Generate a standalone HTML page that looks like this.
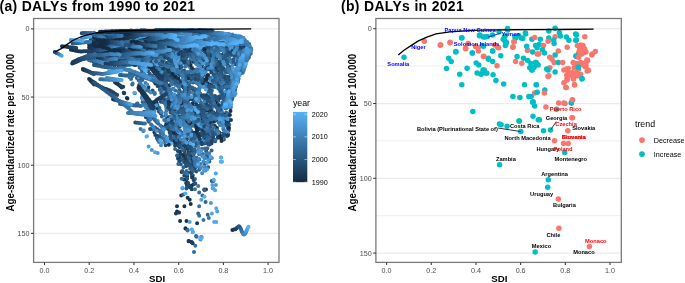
<!DOCTYPE html>
<html><head><meta charset="utf-8"><style>html,body{margin:0;padding:0;background:#fff;width:685px;height:283px;overflow:hidden}svg{display:block;will-change:transform}text{font-family:"Liberation Sans",sans-serif}</style></head>
<body><svg width="685" height="283" viewBox="0 0 685 283">
<rect width="685" height="283" fill="#fff"/>
<g transform="scale(0.93,1)"><text x="-0.54" y="11.0" font-size="15" font-weight="bold" fill="#000" textLength="210.22" lengthAdjust="spacing" font-family="Liberation Sans, sans-serif">(a) DALYs from 1990 to 2021</text>
<text x="366.67" y="11.0" font-size="15" font-weight="bold" fill="#000" textLength="131.94" lengthAdjust="spacing" font-family="Liberation Sans, sans-serif">(b) DALYs in 2021</text></g>
<rect x="33.6" y="18.5" width="245.4" height="243.89999999999998" fill="#fff"/>
<line x1="33.6" x2="279.0" y1="62.98" y2="62.98" stroke="#EDEDED" stroke-width="0.9"/>
<line x1="33.6" x2="279.0" y1="131.12" y2="131.12" stroke="#EDEDED" stroke-width="0.9"/>
<line x1="33.6" x2="279.0" y1="199.28" y2="199.28" stroke="#EDEDED" stroke-width="0.9"/>
<line x1="33.6" x2="279.0" y1="28.90" y2="28.90" stroke="#EBEBEB" stroke-width="1.25"/>
<line x1="33.6" x2="279.0" y1="97.05" y2="97.05" stroke="#EBEBEB" stroke-width="1.25"/>
<line x1="33.6" x2="279.0" y1="165.20" y2="165.20" stroke="#EBEBEB" stroke-width="1.25"/>
<line x1="33.6" x2="279.0" y1="233.35" y2="233.35" stroke="#EBEBEB" stroke-width="1.25"/>
<path d="M152.1 34.0h0M90.2 46.2h0M91.9 47.3h0M94.2 47.2h0M95.8 48.3h0M97.7 48.5h0M98.7 48.7h0M190.8 33.7h0M138.5 38.0h0M90.4 44.5h0M92.1 44.5h0M93.1 44.6h0M134.7 50.3h0M136.5 50.4h0M101.7 58.7h0M103.1 58.4h0M95.2 61.7h0M96.6 61.5h0M98.6 60.7h0M99.9 60.8h0M91.2 58.0h0M93.5 58.4h0M94.7 58.5h0M95.9 58.8h0M98.0 59.0h0M99.4 59.5h0M101.1 59.8h0M102.0 61.2h0M89.9 42.4h0M91.4 41.8h0M93.5 42.2h0M99.5 57.1h0M101.1 57.4h0M102.6 58.5h0M103.9 58.7h0M105.8 58.0h0M108.0 58.7h0M96.9 59.8h0M98.1 60.1h0M104.8 51.0h0M105.9 50.5h0M108.1 51.3h0M109.2 51.9h0M111.7 51.8h0M90.2 49.1h0M91.3 49.4h0M93.3 49.3h0M94.5 50.2h0M96.4 50.3h0M98.0 50.6h0M99.4 50.2h0M100.7 50.3h0" stroke="#132B43" stroke-width="4.0" stroke-linecap="round" fill="none"/>
<path d="M154.4 34.4h0M100.2 48.6h0M192.6 33.5h0M140.8 37.3h0M95.0 44.1h0M138.0 49.9h0M139.2 49.9h0M104.7 58.5h0M107.4 56.7h0M90.9 47.1h0M104.1 61.0h0M94.9 41.6h0M109.2 58.6h0M100.0 59.5h0M113.3 52.2h0M186.5 42.1h0M102.6 50.1h0M103.9 50.5h0" stroke="#152F48" stroke-width="4.0" stroke-linecap="round" fill="none"/>
<path d="M155.9 34.6h0M101.9 48.9h0M103.6 48.5h0M141.5 37.1h0M97.2 43.7h0M141.5 49.4h0M106.7 58.4h0M101.6 60.4h0M105.1 61.5h0M96.4 42.0h0M101.2 59.3h0M196.5 38.6h0M114.1 51.7h0M187.6 43.1h0M105.4 50.3h0" stroke="#17334D" stroke-width="4.0" stroke-linecap="round" fill="none"/>
<path d="M105.5 48.5h0M194.8 32.4h0M143.3 36.8h0M98.1 43.5h0M142.7 48.7h0M108.7 58.3h0M108.9 57.7h0M103.3 60.4h0M92.3 47.8h0M107.6 61.7h0M98.2 42.5h0M111.4 58.8h0M198.8 39.0h0M189.9 50.7h0M116.3 51.7h0M188.9 42.7h0" stroke="#193652" stroke-width="4.0" stroke-linecap="round" fill="none"/>
<path d="M158.0 34.8h0M101.7 40.3h0M106.7 47.7h0M144.8 35.5h0M100.4 43.2h0M144.1 48.7h0M109.4 58.1h0M110.8 57.6h0M109.0 62.8h0M99.4 42.5h0M102.6 58.7h0M199.7 38.7h0M191.4 51.5h0M118.2 51.2h0M191.1 44.0h0" stroke="#1B3A58" stroke-width="4.0" stroke-linecap="round" fill="none"/>
<path d="M159.8 34.9h0M182.9 51.8h0M103.5 40.4h0M108.3 47.3h0M196.3 32.0h0M146.1 35.7h0M146.4 47.6h0M147.9 47.7h0M111.1 58.4h0M105.0 60.5h0M110.4 63.5h0M101.0 41.8h0M113.1 58.3h0M104.2 58.8h0M201.2 39.3h0M203.0 39.0h0M119.2 51.1h0M192.6 43.9h0M193.7 44.0h0M127.1 45.9h0" stroke="#1D3E5D" stroke-width="4.0" stroke-linecap="round" fill="none"/>
<path d="M118.7 65.3h0M184.1 52.0h0M180.1 45.6h0M90.3 57.0h0M105.1 41.1h0M110.0 46.8h0M143.1 61.1h0M197.5 32.3h0M147.9 35.3h0M101.5 43.5h0M149.4 46.7h0M89.2 44.7h0M113.3 58.5h0M112.2 58.8h0M106.5 60.3h0M94.5 48.1h0M165.1 44.7h0M166.6 45.0h0M111.6 63.6h0M106.5 57.8h0M205.0 40.3h0M120.8 51.7h0M195.6 44.8h0M129.0 46.4h0" stroke="#1F4262" stroke-width="4.0" stroke-linecap="round" fill="none"/>
<path d="M119.9 65.4h0M121.7 64.3h0M160.7 35.2h0M185.7 52.2h0M181.0 45.4h0M92.0 57.2h0M106.8 40.5h0M111.0 46.6h0M148.9 34.3h0M120.1 37.2h0M129.4 32.3h0M103.1 43.1h0M151.6 46.0h0M90.4 44.1h0M92.0 45.3h0M114.7 57.7h0M168.9 45.6h0M113.3 64.1h0M103.2 42.1h0M114.7 59.1h0M206.2 40.7h0M172.6 35.7h0M122.8 50.8h0M197.0 44.7h0M130.2 46.4h0" stroke="#214668" stroke-width="4.0" stroke-linecap="round" fill="none"/>
<path d="M122.5 64.0h0M187.6 51.5h0M94.1 57.5h0M187.6 30.4h0M108.2 40.6h0M113.2 46.3h0M144.4 60.2h0M199.3 31.7h0M150.8 34.4h0M121.7 36.8h0M130.7 32.2h0M105.1 42.6h0M152.9 44.9h0M94.3 45.0h0M115.8 57.9h0M114.0 58.8h0M108.3 60.2h0M95.6 47.8h0M170.0 45.1h0M114.8 64.7h0M104.7 43.1h0M107.9 58.6h0M207.8 40.9h0M174.6 36.5h0M124.7 51.6h0M191.1 44.7h0M199.1 44.3h0M131.9 46.7h0" stroke="#234A6D" stroke-width="4.0" stroke-linecap="round" fill="none"/>
<path d="M124.7 63.5h0M163.0 36.1h0M189.0 51.1h0M183.0 44.7h0M189.4 30.4h0M191.4 30.7h0M109.4 40.4h0M113.9 45.2h0M146.2 60.3h0M152.8 34.2h0M122.9 37.1h0M132.5 32.5h0M106.3 42.6h0M154.2 44.6h0M156.0 43.8h0M95.3 44.3h0M117.3 57.2h0M115.1 60.0h0M171.7 44.7h0M106.2 43.0h0M168.5 52.2h0M141.7 49.7h0M109.3 57.6h0M208.8 41.1h0M176.6 36.6h0M126.3 51.7h0M192.6 45.6h0M200.4 44.5h0M133.3 46.6h0" stroke="#254F73" stroke-width="4.0" stroke-linecap="round" fill="none"/>
<path d="M126.5 63.5h0M164.0 36.5h0M190.7 51.6h0M184.5 43.8h0M95.8 57.9h0M192.5 30.7h0M110.9 40.4h0M116.2 44.6h0M200.6 31.7h0M153.7 34.2h0M125.1 36.5h0M133.4 32.3h0M158.3 42.8h0M97.2 44.2h0M119.3 56.7h0M228.5 41.8h0M110.4 59.8h0M195.0 40.2h0M98.2 47.8h0M172.9 45.2h0M108.1 42.8h0M116.3 58.0h0M143.1 49.8h0M144.6 50.1h0M111.3 57.7h0M210.7 42.0h0M177.7 37.4h0M179.4 37.6h0M127.7 52.1h0M193.9 45.5h0M201.6 44.1h0M134.6 46.7h0" stroke="#275378" stroke-width="4.0" stroke-linecap="round" fill="none"/>
<path d="M127.6 63.5h0M192.7 50.9h0M186.0 43.3h0M97.4 58.3h0M194.0 31.4h0M113.2 40.9h0M114.7 40.6h0M117.5 44.3h0M148.2 59.4h0M202.3 31.0h0M155.2 33.4h0M157.4 33.7h0M126.1 36.8h0M135.3 32.4h0M108.0 42.0h0M159.6 42.4h0M98.5 45.2h0M120.2 56.0h0M116.1 59.7h0M111.5 59.0h0M196.0 39.3h0M174.5 45.4h0M119.8 65.9h0M109.2 44.4h0M170.1 51.8h0M146.4 49.6h0M212.7 43.2h0M214.1 43.4h0M180.5 38.3h0M129.1 52.0h0M195.2 45.6h0M203.7 44.3h0M136.3 45.5h0" stroke="#29577E" stroke-width="4.0" stroke-linecap="round" fill="none"/>
<path d="M129.1 62.7h0M166.5 36.4h0M193.9 51.0h0M186.9 42.4h0M98.8 59.4h0M196.2 31.8h0M116.0 40.3h0M118.6 43.9h0M159.4 34.2h0M127.9 35.9h0M129.6 35.8h0M110.1 42.5h0M161.6 41.9h0M100.6 45.1h0M122.4 55.7h0M231.0 43.0h0M99.9 47.7h0M176.8 44.8h0M178.5 44.7h0M121.2 65.9h0M118.6 57.9h0M147.5 50.5h0M113.0 57.4h0M214.9 44.5h0M183.0 38.4h0M130.4 51.7h0M197.4 44.7h0M204.7 44.6h0M138.4 45.5h0" stroke="#2B5B84" stroke-width="4.0" stroke-linecap="round" fill="none"/>
<path d="M130.5 62.3h0M167.8 36.1h0M188.6 41.9h0M197.5 31.5h0M199.4 31.6h0M118.0 40.0h0M120.2 44.3h0M149.8 59.3h0M203.8 30.8h0M160.7 33.6h0M130.8 35.7h0M136.4 31.8h0M111.2 42.5h0M162.7 41.6h0M164.4 40.8h0M102.0 45.4h0M124.1 54.4h0M125.1 54.6h0M118.0 60.2h0M113.1 59.1h0M197.7 39.1h0M179.6 44.8h0M110.9 44.3h0M149.3 50.4h0M114.0 57.3h0M216.9 45.0h0M184.3 38.2h0M131.9 51.9h0M198.6 45.2h0M206.3 44.0h0M207.8 44.8h0M139.9 45.2h0" stroke="#2D5F89" stroke-width="4.0" stroke-linecap="round" fill="none"/>
<path d="M131.8 61.8h0M195.8 50.3h0M190.1 40.1h0M100.0 59.9h0M200.1 32.1h0M119.7 39.9h0M122.4 43.2h0M123.5 43.0h0M162.6 34.3h0M133.0 35.9h0M138.7 31.5h0M113.1 42.5h0M91.2 37.7h0M166.8 39.6h0M192.3 40.4h0M126.8 53.4h0M232.1 43.5h0M119.3 61.7h0M100.9 48.1h0M180.8 44.9h0M112.3 45.4h0M120.3 58.1h0M172.0 51.5h0M150.5 50.0h0M218.9 45.8h0M186.0 38.4h0M134.0 50.9h0M200.4 45.2h0M209.6 45.2h0M141.1 45.1h0" stroke="#30648F" stroke-width="4.0" stroke-linecap="round" fill="none"/>
<path d="M134.1 61.3h0M135.0 60.9h0M169.6 36.1h0M197.0 50.5h0M191.8 39.8h0M101.7 60.5h0M202.5 31.9h0M120.4 38.9h0M125.0 42.6h0M151.4 59.1h0M205.3 30.3h0M163.6 33.8h0M134.2 35.0h0M140.0 31.5h0M168.0 39.0h0M194.1 40.5h0M128.3 52.7h0M233.9 43.6h0M114.9 59.4h0M199.1 39.2h0M183.1 44.0h0M114.5 45.7h0M152.2 49.9h0M153.7 50.3h0M116.4 57.4h0M220.1 47.0h0M187.7 39.1h0M135.8 50.6h0M201.6 44.7h0M211.1 45.3h0M142.5 45.1h0" stroke="#326895" stroke-width="4.0" stroke-linecap="round" fill="none"/>
<path d="M137.2 60.3h0M171.3 35.9h0M198.8 49.7h0M193.4 38.9h0M203.7 32.4h0M122.3 38.7h0M126.2 41.1h0M165.6 34.5h0M135.4 35.5h0M141.4 31.0h0M114.3 42.5h0M93.3 38.0h0M169.6 37.8h0M195.7 40.7h0M129.6 52.5h0M121.2 61.4h0M116.6 58.9h0M201.4 38.8h0M102.6 48.0h0M184.1 45.0h0M115.9 46.7h0M173.5 50.5h0M155.5 50.9h0M118.1 57.9h0M221.3 47.2h0M188.8 39.2h0M136.7 50.9h0M203.5 44.6h0M213.0 45.0h0M144.0 45.7h0" stroke="#346C9B" stroke-width="4.0" stroke-linecap="round" fill="none"/>
<path d="M200.2 49.5h0M103.0 60.6h0M205.6 32.0h0M207.2 32.5h0M124.1 38.1h0M128.0 40.6h0M153.0 59.0h0M167.0 34.0h0M137.2 34.7h0M142.9 31.9h0M172.2 37.3h0M173.8 36.1h0M196.9 40.3h0M131.4 52.0h0M235.2 44.0h0M186.0 45.0h0M117.7 46.6h0M157.3 50.4h0M119.9 57.7h0M222.8 46.7h0M224.5 46.7h0M190.8 39.3h0M138.8 50.5h0M205.4 44.7h0M214.8 45.6h0M145.4 46.0h0" stroke="#3671A1" stroke-width="4.0" stroke-linecap="round" fill="none"/>
<path d="M172.3 35.8h0M202.4 49.9h0M195.0 38.1h0M208.4 31.8h0M125.5 38.1h0M154.4 58.7h0M168.6 33.7h0M138.8 35.6h0M144.6 31.5h0M94.6 38.2h0M175.0 35.4h0M198.3 40.7h0M133.2 50.7h0M122.4 61.6h0M203.4 38.6h0M104.7 48.2h0M187.4 45.3h0M188.8 45.4h0M119.2 46.3h0M175.2 50.2h0M158.6 50.8h0M95.5 34.6h0M226.3 46.4h0M192.6 40.0h0M140.7 50.8h0M206.5 45.2h0M215.7 45.9h0M147.6 46.0h0" stroke="#3875A7" stroke-width="4.0" stroke-linecap="round" fill="none"/>
<path d="M174.9 36.7h0M203.4 50.0h0M196.5 37.6h0M210.3 32.6h0M127.8 37.6h0M170.7 34.0h0M140.9 35.3h0M141.9 35.2h0M146.1 32.0h0M177.0 34.6h0M200.0 40.4h0M134.6 50.5h0M237.0 45.1h0M123.9 62.8h0M204.5 38.3h0M191.2 44.8h0M160.8 51.2h0M97.0 34.8h0M120.8 57.6h0M228.3 46.2h0M193.7 40.4h0M142.4 51.6h0M208.5 45.3h0M217.9 45.9h0M148.8 46.2h0" stroke="#3A7AAD" stroke-width="4.0" stroke-linecap="round" fill="none"/>
<path d="M205.9 49.4h0M197.8 36.7h0M211.4 31.5h0M128.7 37.1h0M156.0 58.2h0M171.7 33.1h0M143.7 34.9h0M147.9 31.4h0M178.2 34.3h0M202.5 40.9h0M135.6 50.3h0M238.7 45.8h0M106.7 47.6h0M192.5 44.5h0M121.0 46.6h0M177.1 49.2h0M162.2 51.2h0M163.5 50.9h0M97.7 35.1h0M123.1 58.6h0M229.8 46.4h0M195.4 40.1h0M143.8 51.6h0M209.6 45.5h0M219.2 46.4h0M150.4 45.9h0" stroke="#3D7EB3" stroke-width="4.0" stroke-linecap="round" fill="none"/>
<path d="M175.8 36.3h0M207.5 49.7h0M199.2 36.2h0M213.2 31.9h0M130.0 37.2h0M173.6 32.7h0M144.6 35.9h0M149.4 31.8h0M180.0 34.3h0M181.6 33.6h0M203.8 40.6h0M137.9 49.7h0M126.3 63.2h0M206.2 38.6h0M193.6 44.8h0M122.0 46.6h0M165.3 51.2h0M99.7 35.5h0M124.0 58.5h0M230.7 46.9h0M197.3 40.1h0M198.4 40.7h0M144.8 52.6h0M211.6 44.5h0M220.8 47.4h0M222.6 47.4h0M151.9 46.3h0" stroke="#3F83B9" stroke-width="4.0" stroke-linecap="round" fill="none"/>
<path d="M177.4 36.2h0M201.0 35.7h0M132.2 37.2h0M134.1 36.5h0M157.6 57.9h0M174.6 32.5h0M177.0 32.7h0M146.1 36.5h0M151.3 31.5h0M183.6 34.2h0M205.3 41.1h0M139.5 48.7h0M240.1 47.0h0M208.0 38.2h0M108.1 47.1h0M195.9 43.9h0M179.3 49.8h0M167.1 50.9h0M101.9 35.4h0M232.8 47.8h0M199.8 40.9h0M212.8 44.9h0M223.4 47.5h0M153.9 46.5h0" stroke="#4187BF" stroke-width="4.0" stroke-linecap="round" fill="none"/>
<path d="M209.2 49.5h0M201.8 36.3h0M135.8 36.1h0M178.1 32.3h0M147.9 36.9h0M152.9 32.1h0M184.9 33.6h0M207.1 41.3h0M141.0 48.4h0M127.7 64.0h0M196.9 44.3h0M168.8 51.5h0M103.1 35.7h0M126.3 59.0h0M234.4 47.4h0M235.8 47.9h0M201.4 40.9h0M214.5 44.3h0M225.6 47.4h0M154.8 47.0h0" stroke="#438CC5" stroke-width="4.0" stroke-linecap="round" fill="none"/>
<path d="M179.4 36.4h0M210.4 49.1h0M203.7 35.3h0M136.5 35.6h0M159.3 57.2h0M180.0 32.1h0M149.5 37.5h0M154.4 31.9h0M186.6 33.1h0M208.8 42.0h0M142.2 47.7h0M242.5 47.4h0M128.8 64.9h0M209.9 38.7h0M198.8 44.5h0M200.0 44.6h0M180.9 49.4h0M170.3 50.9h0M104.4 35.3h0M237.6 48.8h0M203.1 41.2h0M215.6 44.8h0M226.9 48.1h0M156.9 46.8h0" stroke="#4690CB" stroke-width="4.0" stroke-linecap="round" fill="none"/>
<path d="M211.8 49.6h0M205.0 35.0h0M138.9 35.6h0M160.5 56.9h0M181.9 31.4h0M150.8 37.3h0M155.3 31.5h0M209.6 42.2h0M243.9 48.6h0M211.5 38.0h0M201.7 45.1h0M171.7 51.5h0M173.2 51.1h0M106.0 35.7h0M239.2 48.7h0M205.1 41.8h0M217.8 44.3h0M228.6 47.8h0M158.1 46.6h0" stroke="#4895D1" stroke-width="4.0" stroke-linecap="round" fill="none"/>
<path d="M214.0 49.5h0M139.8 35.9h0M152.6 37.7h0M211.2 41.6h0M213.5 41.2h0M130.3 64.8h0M203.5 45.5h0M182.2 49.2h0M175.0 51.4h0M240.2 49.0h0M206.5 41.9h0M219.6 44.9h0M230.6 48.0h0M160.3 46.7h0" stroke="#4A99D7" stroke-width="4.0" stroke-linecap="round" fill="none"/>
<path d="M215.4 49.0h0M207.1 34.2h0M141.4 36.7h0M161.8 55.5h0M154.7 37.1h0M155.3 37.4h0M157.3 31.1h0M214.9 41.0h0M245.1 49.0h0M213.1 38.7h0M205.0 45.9h0M176.7 51.3h0M242.0 48.6h0M208.1 41.7h0M220.7 44.1h0M161.5 46.9h0" stroke="#4D9EDE" stroke-width="4.0" stroke-linecap="round" fill="none"/>
<path d="M216.6 49.5h0M207.9 33.8h0M142.9 36.9h0M157.6 37.1h0M158.8 30.9h0M215.9 40.5h0M206.7 45.3h0M184.3 50.2h0M177.4 51.5h0M209.6 42.4h0M222.8 44.3h0M163.3 46.4h0" stroke="#4FA3E4" stroke-width="4.0" stroke-linecap="round" fill="none"/>
<path d="M218.7 49.4h0M210.1 33.9h0M144.5 37.2h0M163.3 54.3h0M158.9 36.7h0M160.3 30.7h0M217.7 40.7h0M214.6 38.3h0M207.8 45.6h0M209.5 45.4h0M179.7 50.4h0M181.1 50.3h0M211.3 42.3h0M224.0 44.9h0" stroke="#51A8EA" stroke-width="4.0" stroke-linecap="round" fill="none"/>
<path d="M211.6 33.7h0M160.6 36.6h0M162.4 30.9h0M218.9 40.5h0M216.2 38.8h0M210.9 45.6h0M185.9 50.1h0M182.7 50.6h0M213.1 42.3h0M225.6 44.1h0M165.0 45.5h0" stroke="#54ACF1" stroke-width="4.0" stroke-linecap="round" fill="none"/>
<path d="M213.3 33.6h0M164.8 53.8h0M161.8 36.8h0M163.5 36.5h0M163.2 30.4h0M164.9 31.0h0M220.7 40.0h0M222.5 40.5h0M224.1 39.1h0M225.8 39.1h0M226.8 38.6h0M228.3 38.0h0M230.0 38.0h0M231.7 36.8h0M234.0 37.0h0M217.6 39.3h0M219.8 38.8h0M221.4 38.3h0M187.3 50.1h0M189.1 49.7h0M183.6 50.8h0M185.7 50.3h0M187.2 50.1h0M189.0 49.7h0M214.2 42.1h0M215.9 43.0h0M227.5 43.7h0M228.8 43.5h0" stroke="#56B1F7" stroke-width="4.0" stroke-linecap="round" fill="none"/>
<path d="M90.0 41.8h0M175.7 46.3h0M177.5 46.4h0M179.4 46.1h0M97.7 44.6h0M99.7 44.6h0M101.1 45.8h0M102.1 46.0h0M103.9 45.4h0M105.7 45.5h0M111.5 31.5h0M162.6 52.9h0M163.5 52.5h0M121.6 53.7h0M123.0 53.6h0M124.7 53.8h0M126.4 54.2h0M128.2 54.4h0M90.9 55.0h0M91.6 55.4h0M93.9 55.6h0M95.1 55.7h0M91.6 43.8h0M93.3 42.9h0M94.4 43.1h0M95.9 42.3h0M106.3 58.6h0M107.8 58.5h0M109.5 57.9h0M110.7 57.2h0M112.5 57.7h0M113.8 57.2h0M92.1 37.3h0M93.4 37.2h0M94.8 37.3h0M96.7 38.2h0M97.5 38.2h0M99.3 37.8h0M101.5 38.2h0M112.4 43.0h0M113.4 34.4h0M114.7 34.3h0M113.3 49.9h0M114.9 50.7h0M116.5 50.8h0M117.8 51.4h0M131.8 32.1h0M162.3 49.9h0M163.9 49.6h0M165.1 48.8h0M166.7 48.9h0M150.0 36.1h0M151.8 36.7h0M153.3 37.0h0M155.0 37.0h0M195.9 33.3h0" stroke="#132B43" stroke-width="4.0" stroke-linecap="round" fill="none"/>
<path d="M91.6 43.6h0M124.0 60.9h0M180.6 45.5h0M107.4 45.6h0M129.3 55.3h0M97.1 54.7h0M105.0 32.6h0M115.6 57.6h0M102.6 38.7h0M104.4 39.2h0M113.5 43.3h0M116.0 34.2h0M168.1 49.0h0M156.6 37.1h0M197.9 33.0h0" stroke="#152F48" stroke-width="4.0" stroke-linecap="round" fill="none"/>
<path d="M93.1 44.6h0M125.3 61.6h0M182.0 45.5h0M109.4 44.8h0M165.2 53.2h0M131.0 56.1h0M97.8 54.7h0M97.9 42.8h0M106.2 33.2h0M117.7 57.3h0M106.0 39.4h0M118.0 33.1h0M120.1 51.2h0M133.5 32.5h0M170.2 49.2h0M171.8 48.2h0M157.9 36.9h0M124.6 50.8h0M199.3 32.9h0" stroke="#17334D" stroke-width="4.0" stroke-linecap="round" fill="none"/>
<path d="M107.0 50.5h0M94.2 45.0h0M127.2 61.7h0M184.3 45.1h0M111.1 45.0h0M132.7 57.1h0M99.9 54.6h0M144.4 50.3h0M108.2 33.1h0M119.3 56.9h0M106.9 39.9h0M133.0 39.0h0M115.1 42.7h0M135.1 32.4h0M172.7 48.4h0M159.8 36.5h0M126.0 51.0h0M201.0 33.1h0" stroke="#193652" stroke-width="4.0" stroke-linecap="round" fill="none"/>
<path d="M108.8 50.7h0M96.3 46.4h0M185.2 45.2h0M186.8 44.5h0M112.1 44.2h0M119.8 31.3h0M166.9 53.3h0M134.1 57.2h0M101.5 54.5h0M120.1 53.3h0M99.9 42.6h0M146.3 51.0h0M121.0 56.5h0M109.2 40.1h0M135.0 39.8h0M116.8 42.2h0M120.0 33.6h0M121.3 51.7h0M137.0 32.5h0M174.9 47.9h0M161.6 36.6h0M127.4 51.9h0M217.0 49.7h0M202.4 32.2h0" stroke="#1B3A58" stroke-width="4.0" stroke-linecap="round" fill="none"/>
<path d="M110.5 50.7h0M111.6 51.2h0M97.1 46.1h0M128.3 62.7h0M188.6 44.5h0M161.0 32.0h0M113.7 43.9h0M121.3 31.0h0M158.1 33.5h0M168.6 53.6h0M136.2 58.5h0M103.3 54.5h0M121.4 53.8h0M109.6 33.0h0M122.0 56.7h0M110.3 39.3h0M171.8 33.1h0M136.9 40.2h0M89.2 44.0h0M118.3 41.8h0M121.0 32.8h0M138.1 33.0h0M216.5 33.6h0M176.7 47.8h0M162.8 37.1h0M128.8 52.3h0M130.7 52.4h0" stroke="#1D3E5D" stroke-width="4.0" stroke-linecap="round" fill="none"/>
<path d="M113.4 51.8h0M99.3 47.4h0M129.9 63.2h0M190.0 43.8h0M161.8 31.9h0M123.4 31.0h0M159.3 33.7h0M104.5 54.9h0M122.7 53.4h0M101.5 42.6h0M147.6 50.3h0M111.2 33.1h0M123.3 56.2h0M112.1 39.1h0M172.9 33.7h0M138.0 39.7h0M90.7 44.0h0M169.7 39.6h0M120.7 42.0h0M123.5 51.5h0M177.5 47.4h0M179.1 47.9h0M164.4 36.5h0M165.9 36.4h0M90.6 60.5h0M132.8 51.9h0M218.5 49.7h0M204.4 31.7h0" stroke="#1F4262" stroke-width="4.0" stroke-linecap="round" fill="none"/>
<path d="M115.6 51.3h0M100.9 47.9h0M131.5 63.5h0M192.2 44.1h0M164.2 32.0h0M116.0 43.9h0M124.6 31.0h0M161.0 33.3h0M170.5 53.3h0M138.1 58.5h0M106.2 54.4h0M149.7 50.6h0M113.3 32.4h0M125.4 56.3h0M90.5 44.6h0M113.5 40.2h0M114.7 39.6h0M174.7 34.1h0M139.8 39.9h0M91.9 44.0h0M171.2 38.8h0M123.1 33.0h0M139.6 34.4h0M218.2 33.1h0M181.1 46.9h0M168.1 35.0h0M134.1 52.6h0M205.2 32.3h0" stroke="#214668" stroke-width="4.0" stroke-linecap="round" fill="none"/>
<path d="M116.6 51.2h0M102.2 48.6h0M133.6 63.7h0M193.5 43.9h0M165.5 32.1h0M117.5 43.0h0M126.7 31.8h0M162.9 32.8h0M139.6 58.4h0M107.5 55.6h0M124.3 54.4h0M103.0 43.5h0M150.4 50.0h0M114.6 32.0h0M126.5 56.5h0M92.2 44.2h0M116.4 40.1h0M176.6 34.0h0M141.1 40.4h0M219.3 33.4h0M173.6 38.5h0M121.6 42.3h0M124.5 31.9h0M124.9 52.2h0M140.9 35.1h0M183.1 46.3h0M169.8 34.9h0M92.8 60.8h0M135.4 52.4h0M207.7 31.6h0" stroke="#234A6D" stroke-width="4.0" stroke-linecap="round" fill="none"/>
<path d="M118.0 52.0h0M120.0 51.9h0M103.8 48.2h0M194.7 43.4h0M167.1 32.2h0M168.8 32.5h0M119.4 42.8h0M128.1 31.8h0M172.7 54.0h0M140.6 59.0h0M109.2 55.6h0M126.4 54.3h0M152.4 50.2h0M93.2 36.2h0M128.9 57.0h0M93.5 45.2h0M90.5 51.9h0M118.2 40.5h0M93.4 43.7h0M174.6 38.2h0M123.6 42.0h0M125.7 32.0h0M142.7 35.3h0M184.1 46.5h0M170.9 34.8h0M94.6 60.6h0M137.4 52.1h0M208.6 31.9h0" stroke="#254F73" stroke-width="4.0" stroke-linecap="round" fill="none"/>
<path d="M121.6 52.2h0M105.4 49.0h0M135.3 64.2h0M196.9 43.8h0M170.6 31.2h0M120.8 42.1h0M129.2 31.7h0M165.2 32.7h0M142.3 59.6h0M110.8 56.4h0M127.9 54.6h0M105.0 43.3h0M153.9 50.4h0M116.2 32.7h0M130.5 57.1h0M95.4 45.6h0M119.7 40.8h0M178.1 34.1h0M142.8 42.0h0M94.9 43.4h0M221.2 33.7h0M125.4 42.0h0M126.2 52.8h0M144.6 35.7h0M186.2 46.2h0M187.5 46.2h0M172.8 34.6h0M139.3 51.9h0M210.0 32.3h0" stroke="#275378" stroke-width="4.0" stroke-linecap="round" fill="none"/>
<path d="M123.2 52.4h0M106.8 49.0h0M108.2 49.6h0M198.4 44.1h0M171.8 30.9h0M122.9 42.5h0M131.0 31.9h0M166.6 33.1h0M174.3 53.2h0M144.6 59.4h0M89.5 59.1h0M112.4 56.7h0M129.5 55.7h0M106.4 42.7h0M155.5 49.7h0M94.1 35.6h0M117.6 32.7h0M131.5 57.6h0M205.7 43.6h0M96.5 46.2h0M91.2 52.8h0M121.3 41.3h0M180.1 34.6h0M144.1 41.8h0M90.0 55.3h0M97.1 43.2h0M119.7 65.8h0M176.8 37.6h0M128.2 31.3h0M188.9 46.3h0M174.2 34.4h0M96.3 60.5h0M141.0 51.7h0M212.4 31.5h0" stroke="#29577E" stroke-width="4.0" stroke-linecap="round" fill="none"/>
<path d="M124.9 51.8h0M109.2 49.5h0M199.3 43.8h0M201.1 45.1h0M173.1 31.3h0M124.5 42.2h0M132.1 32.4h0M168.1 32.2h0M145.9 60.1h0M91.7 57.9h0M113.7 56.6h0M119.0 33.3h0M132.7 57.4h0M207.1 43.2h0M208.9 43.1h0M98.0 47.5h0M92.9 53.9h0M122.5 41.7h0M182.0 34.6h0M145.8 42.9h0M98.8 43.4h0M222.7 33.5h0M178.4 37.2h0M126.9 41.5h0M129.7 31.2h0M128.3 53.6h0M145.7 35.4h0M190.8 45.8h0M176.3 34.3h0M97.3 60.1h0M141.7 52.5h0M213.5 32.6h0" stroke="#2B5B84" stroke-width="4.0" stroke-linecap="round" fill="none"/>
<path d="M126.6 51.6h0M127.5 51.8h0M111.1 50.0h0M203.2 44.8h0M174.7 30.5h0M176.0 30.8h0M125.7 41.2h0M134.0 31.9h0M170.2 32.1h0M102.0 33.0h0M175.7 53.6h0M92.5 58.0h0M115.9 56.7h0M131.0 55.8h0M108.0 43.3h0M157.3 49.9h0M96.5 34.7h0M120.3 34.3h0M134.6 58.1h0M210.3 44.1h0M99.6 47.7h0M94.3 53.8h0M124.6 40.9h0M125.6 40.9h0M183.3 34.1h0M147.8 43.5h0M91.7 56.2h0M123.1 65.0h0M179.4 37.4h0M128.6 41.6h0M131.0 31.6h0M147.5 35.7h0M192.7 46.0h0M178.0 34.3h0M144.3 52.8h0M145.3 52.7h0" stroke="#2D5F89" stroke-width="4.0" stroke-linecap="round" fill="none"/>
<path d="M129.7 51.0h0M112.7 51.1h0M204.1 45.4h0M178.5 29.9h0M127.2 40.6h0M135.8 32.5h0M171.5 31.9h0M104.5 32.6h0M147.3 60.2h0M117.4 56.6h0M132.3 56.4h0M159.0 49.3h0M136.1 57.9h0M212.2 44.4h0M101.7 48.3h0M127.2 41.2h0M184.4 33.7h0M149.5 44.2h0M92.9 56.5h0M99.9 43.1h0M224.8 34.1h0M124.4 65.5h0M126.4 65.0h0M180.7 36.1h0M130.3 41.8h0M129.8 53.6h0M149.8 35.8h0M99.5 62.7h0M194.0 46.3h0M195.7 46.3h0M179.5 34.8h0M99.2 60.7h0M146.8 53.2h0" stroke="#30648F" stroke-width="4.0" stroke-linecap="round" fill="none"/>
<path d="M130.4 51.1h0M114.6 51.5h0M205.8 45.2h0M180.1 30.4h0M129.2 40.2h0M137.6 31.8h0M177.2 53.6h0M149.0 61.9h0M94.1 58.3h0M119.1 56.4h0M133.9 56.5h0M109.8 43.5h0M160.3 49.0h0M121.9 34.2h0M138.0 58.2h0M213.9 44.5h0M103.0 48.4h0M222.3 48.3h0M96.2 55.4h0M128.6 41.4h0M186.4 33.6h0M151.2 44.5h0M125.5 31.0h0M225.9 34.1h0M127.5 64.6h0M132.8 31.6h0M150.7 36.1h0M211.1 46.4h0M100.3 62.9h0M102.2 62.3h0M197.2 46.8h0M180.9 34.9h0M100.5 61.0h0M149.0 53.5h0" stroke="#326895" stroke-width="4.0" stroke-linecap="round" fill="none"/>
<path d="M131.9 51.7h0M116.0 51.7h0M207.7 45.5h0M130.9 39.4h0M138.6 31.5h0M172.7 31.0h0M105.2 33.3h0M96.1 58.3h0M120.6 56.9h0M134.9 56.6h0M162.5 48.5h0M139.6 58.4h0M215.4 44.9h0M216.9 44.6h0M104.4 48.6h0M223.2 48.2h0M97.8 56.7h0M130.4 40.3h0M187.9 33.7h0M152.7 45.6h0M127.4 31.6h0M129.0 32.6h0M94.8 56.4h0M128.8 64.0h0M182.6 35.7h0M131.5 41.6h0M134.6 31.5h0M132.1 54.4h0M103.8 62.1h0M198.6 47.1h0M182.6 34.4h0M150.6 53.9h0" stroke="#346C9B" stroke-width="4.0" stroke-linecap="round" fill="none"/>
<path d="M209.3 46.2h0M133.2 38.7h0M140.3 30.7h0M175.3 31.4h0M107.5 32.9h0M178.7 53.1h0M97.6 57.4h0M122.1 56.9h0M111.3 43.8h0M163.5 48.3h0M140.8 59.0h0M218.5 45.5h0M105.6 48.3h0M224.6 47.7h0M99.4 57.5h0M131.8 41.1h0M189.1 33.0h0M154.3 45.3h0M130.0 32.9h0M96.4 56.5h0M227.9 34.1h0M130.7 63.9h0M183.5 35.7h0M132.9 41.1h0M152.3 36.5h0M212.3 46.1h0M105.6 62.4h0M200.1 46.7h0M184.1 35.0h0M102.2 61.1h0M151.7 54.2h0" stroke="#3671A1" stroke-width="4.0" stroke-linecap="round" fill="none"/>
<path d="M210.4 46.1h0M134.2 39.1h0M142.2 30.8h0M176.4 30.9h0M109.4 32.6h0M98.7 57.4h0M123.1 57.3h0M137.0 57.1h0M165.0 48.4h0M142.6 59.4h0M219.3 45.8h0M107.3 48.5h0M133.9 41.0h0M190.9 32.8h0M131.8 34.1h0M98.0 56.4h0M132.0 63.4h0M134.1 63.9h0M185.8 34.7h0M134.8 40.3h0M135.7 31.5h0M133.2 55.0h0M154.7 36.1h0M214.6 46.5h0M107.4 62.1h0M201.7 45.7h0M203.2 45.6h0M185.8 35.0h0M153.2 53.4h0M236.2 50.0h0" stroke="#3875A7" stroke-width="4.0" stroke-linecap="round" fill="none"/>
<path d="M212.0 46.5h0M136.0 38.1h0M177.7 30.6h0M110.9 32.5h0M180.8 53.2h0M100.8 57.4h0M138.3 58.0h0M113.1 44.2h0M144.2 59.4h0M145.4 59.0h0M221.3 45.6h0M227.0 46.9h0M100.7 58.3h0M135.5 41.2h0M136.9 42.6h0M192.2 32.2h0M155.3 45.8h0M133.7 34.8h0M229.9 35.0h0M135.1 62.9h0M186.8 34.9h0M138.0 31.6h0M155.4 37.7h0M108.8 62.4h0M110.2 61.9h0M204.7 45.3h0M187.7 35.1h0M155.0 53.4h0" stroke="#3A7AAD" stroke-width="4.0" stroke-linecap="round" fill="none"/>
<path d="M214.3 46.2h0M215.7 46.3h0M145.1 30.3h0M112.5 32.7h0M102.7 57.8h0M140.2 58.0h0M166.9 49.0h0M147.4 59.1h0M222.4 45.6h0M224.7 46.0h0M228.6 47.0h0M102.1 59.0h0M194.2 31.9h0M157.6 46.1h0M135.2 35.7h0M136.7 36.9h0M100.1 57.4h0M136.6 63.0h0M136.4 40.5h0M139.5 31.9h0M157.8 37.3h0M216.0 46.5h0M112.0 61.3h0M206.7 44.7h0M189.3 35.9h0M156.3 53.2h0M239.0 49.4h0" stroke="#3D7EB3" stroke-width="4.0" stroke-linecap="round" fill="none"/>
<path d="M217.2 45.9h0M179.8 31.3h0M104.4 58.3h0M141.2 57.4h0M168.6 48.7h0M225.5 46.2h0M230.2 47.9h0M195.6 32.7h0M159.1 46.5h0M137.5 37.3h0M101.2 57.4h0M231.2 34.9h0M138.6 62.8h0M188.7 34.4h0M138.5 40.7h0M113.2 60.8h0M208.1 45.7h0M190.7 35.8h0M157.8 52.2h0M160.0 51.8h0M241.4 49.8h0" stroke="#3F83B9" stroke-width="4.0" stroke-linecap="round" fill="none"/>
<path d="M219.1 46.2h0M181.5 30.9h0M113.8 32.3h0M106.1 59.2h0M170.5 48.0h0M227.1 47.1h0M231.3 48.0h0M197.5 32.1h0M159.9 46.8h0M139.5 38.1h0M103.1 57.9h0M140.6 62.7h0M142.0 63.4h0M190.4 34.1h0M139.3 40.8h0M140.8 32.4h0M158.9 37.1h0M218.2 46.4h0M115.4 61.3h0M209.4 45.5h0M211.5 44.9h0M192.2 36.0h0M161.5 52.1h0M242.8 49.0h0" stroke="#4187BF" stroke-width="4.0" stroke-linecap="round" fill="none"/>
<path d="M220.1 45.7h0M183.0 31.3h0M115.6 32.8h0M143.1 57.9h0M172.3 48.2h0M228.8 46.9h0M233.3 48.3h0M161.8 46.9h0M141.0 38.9h0M232.4 34.6h0M143.1 63.5h0M191.5 33.9h0M141.7 40.7h0M143.1 32.6h0M161.0 37.7h0M219.1 45.7h0M116.8 61.2h0M118.5 61.2h0M162.9 52.0h0" stroke="#438CC5" stroke-width="4.0" stroke-linecap="round" fill="none"/>
<path d="M184.7 31.8h0M117.3 32.8h0M107.1 59.5h0M144.9 57.1h0M173.8 47.3h0M230.9 46.8h0M232.0 47.6h0M234.2 48.3h0M199.3 32.1h0M163.9 47.5h0M142.5 39.8h0M103.9 58.0h0M144.9 62.7h0M193.1 32.9h0M162.3 37.3h0M119.9 60.8h0M164.9 51.4h0M244.3 48.9h0" stroke="#4690CB" stroke-width="4.0" stroke-linecap="round" fill="none"/>
<path d="M146.1 57.4h0M233.8 47.5h0M235.7 48.0h0M201.1 31.5h0M164.8 48.7h0M106.0 58.5h0M146.3 63.1h0M142.7 40.5h0M164.1 37.7h0M221.6 46.2h0M121.8 60.5h0M166.2 51.4h0M246.0 48.3h0" stroke="#4895D1" stroke-width="4.0" stroke-linecap="round" fill="none"/>
<path d="M186.3 32.5h0M147.6 57.4h0M175.3 47.9h0M234.9 47.5h0M237.9 48.6h0M202.3 31.6h0M167.1 49.2h0M149.8 62.0h0M195.2 32.8h0M223.3 46.0h0M167.3 50.9h0M247.6 48.2h0" stroke="#4A99D7" stroke-width="4.0" stroke-linecap="round" fill="none"/>
<path d="M187.9 32.2h0M176.7 46.9h0M236.3 48.3h0M203.9 31.4h0M235.7 35.4h0M151.0 61.2h0M196.7 32.7h0M169.7 50.9h0M249.3 48.0h0" stroke="#4D9EDE" stroke-width="4.0" stroke-linecap="round" fill="none"/>
<path d="M189.1 31.7h0M149.9 56.9h0M178.3 46.9h0M238.6 47.9h0M239.7 48.2h0M239.5 48.8h0M205.4 30.9h0M168.1 50.1h0M152.6 61.0h0M197.7 31.9h0M225.0 46.6h0" stroke="#4FA3E4" stroke-width="4.0" stroke-linecap="round" fill="none"/>
<path d="M190.9 32.3h0M151.2 56.6h0M241.2 47.9h0M241.0 48.4h0M206.7 31.5h0M238.1 35.7h0M153.8 59.7h0M199.3 31.2h0M225.8 46.4h0" stroke="#51A8EA" stroke-width="4.0" stroke-linecap="round" fill="none"/>
<path d="M243.1 47.7h0M242.6 48.8h0M209.0 32.3h0" stroke="#54ACF1" stroke-width="4.0" stroke-linecap="round" fill="none"/>
<path d="M244.4 47.4h0M246.3 47.6h0M247.7 47.7h0M248.8 48.1h0M243.6 49.2h0M245.4 49.6h0M246.8 49.9h0M248.7 49.9h0M250.6 49.7h0M239.6 36.3h0M240.6 36.5h0M200.6 31.6h0M227.7 47.9h0M229.2 48.4h0M230.5 48.5h0M232.2 50.0h0" stroke="#56B1F7" stroke-width="4.0" stroke-linecap="round" fill="none"/>
<path d="M89.0 53.2h0M90.6 53.2h0M91.8 52.7h0M132.3 39.9h0M133.8 40.1h0M136.0 41.0h0M136.7 41.0h0M137.1 42.6h0M138.9 42.5h0M117.4 41.5h0M118.2 41.7h0M120.3 42.9h0M121.7 43.0h0M94.5 61.1h0M128.5 53.1h0M129.8 53.3h0M131.0 52.9h0M133.2 52.2h0M134.5 52.1h0M135.9 52.8h0M137.4 52.6h0M150.2 35.1h0M151.6 35.3h0M181.8 40.5h0M183.7 40.3h0M124.8 32.1h0M125.9 31.8h0M127.1 32.5h0M128.6 32.9h0M130.3 32.9h0M132.4 33.0h0M138.2 42.6h0M139.4 42.7h0M93.9 43.8h0M101.0 40.4h0M102.5 39.8h0M104.3 39.3h0M105.7 39.8h0M107.4 39.6h0M160.6 50.1h0M162.3 50.0h0M163.2 50.0h0M165.4 49.6h0M93.6 44.3h0M95.5 44.2h0" stroke="#132B43" stroke-width="4.0" stroke-linecap="round" fill="none"/>
<path d="M93.0 51.9h0M140.5 41.8h0M123.1 43.5h0M139.5 52.0h0M185.7 40.2h0M134.2 32.3h0M123.8 33.2h0M141.3 43.6h0M95.1 44.4h0M109.1 39.8h0M166.7 50.3h0M117.8 43.9h0M97.1 44.6h0" stroke="#152F48" stroke-width="4.0" stroke-linecap="round" fill="none"/>
<path d="M95.3 52.1h0M138.4 41.0h0M141.3 42.3h0M124.6 42.9h0M96.3 61.1h0M140.4 52.4h0M153.8 34.8h0M187.4 40.4h0M135.5 32.4h0M124.8 33.2h0M90.6 40.5h0M172.9 42.9h0M110.1 39.6h0M168.2 50.1h0M119.1 44.2h0M98.5 45.3h0" stroke="#17334D" stroke-width="4.0" stroke-linecap="round" fill="none"/>
<path d="M96.8 51.2h0M140.4 41.9h0M143.1 41.5h0M125.9 43.4h0M98.2 60.6h0M141.9 52.3h0M143.9 53.3h0M188.5 40.1h0M137.5 32.7h0M127.0 33.4h0M128.1 33.9h0M143.1 44.1h0M92.0 41.2h0M97.5 44.3h0M111.6 40.0h0M120.2 45.0h0M100.4 46.4h0" stroke="#193652" stroke-width="4.0" stroke-linecap="round" fill="none"/>
<path d="M108.7 63.6h0M110.3 63.1h0M98.2 50.1h0M144.3 42.0h0M122.3 47.1h0M127.5 43.0h0M145.7 52.8h0M155.6 33.8h0M190.6 39.9h0M139.1 33.1h0M129.7 33.1h0M175.2 42.8h0M113.7 40.3h0M169.9 48.8h0M121.7 45.2h0M101.6 46.6h0" stroke="#1B3A58" stroke-width="4.0" stroke-linecap="round" fill="none"/>
<path d="M111.7 62.4h0M99.3 50.2h0M142.3 41.7h0M146.5 41.2h0M124.1 46.4h0M129.5 43.6h0M130.5 43.4h0M99.2 60.6h0M146.7 53.2h0M160.8 34.7h0M140.4 32.8h0M131.2 33.1h0M144.3 44.0h0M94.1 41.0h0M177.1 43.0h0M99.2 44.5h0M171.5 48.7h0M174.2 31.2h0M97.1 56.9h0M99.1 55.9h0M123.9 46.1h0M125.1 46.3h0M102.9 47.2h0" stroke="#1D3E5D" stroke-width="4.0" stroke-linecap="round" fill="none"/>
<path d="M113.5 62.1h0M100.7 50.4h0M144.1 42.0h0M126.3 46.9h0M132.6 43.2h0M149.1 53.4h0M156.8 33.8h0M216.0 37.0h0M192.1 39.9h0M142.2 33.4h0M133.3 32.7h0M135.1 32.6h0M95.9 41.2h0M115.3 40.7h0M173.4 48.8h0M175.9 30.2h0M177.6 30.5h0M100.6 56.4h0M173.9 36.5h0M126.6 47.1h0M104.6 47.2h0M105.7 48.0h0" stroke="#1F4262" stroke-width="4.0" stroke-linecap="round" fill="none"/>
<path d="M114.9 61.6h0M102.7 49.6h0M148.2 41.5h0M134.7 43.2h0M101.4 60.7h0M150.4 53.4h0M151.8 54.2h0M158.1 32.9h0M161.8 34.4h0M186.4 51.6h0M218.1 36.9h0M193.1 39.8h0M144.0 32.7h0M217.6 49.5h0M136.8 31.7h0M146.6 45.4h0M178.0 42.4h0M100.1 45.3h0M117.0 40.4h0M178.4 30.9h0M101.4 55.9h0M175.4 36.4h0M128.0 47.5h0M107.3 48.5h0" stroke="#214668" stroke-width="4.0" stroke-linecap="round" fill="none"/>
<path d="M116.9 60.7h0M104.2 49.6h0M145.0 41.8h0M149.4 41.0h0M128.0 46.0h0M135.9 42.6h0M102.7 60.0h0M153.2 53.7h0M164.1 33.8h0M187.7 51.2h0M195.2 39.1h0M145.3 33.2h0M138.0 31.9h0M89.5 55.7h0M97.2 40.9h0M180.5 42.8h0M153.7 43.4h0M118.7 40.6h0M175.3 48.3h0M180.6 30.5h0M155.6 30.2h0M103.4 55.3h0M177.2 36.1h0M129.4 47.8h0M109.0 49.0h0" stroke="#234A6D" stroke-width="4.0" stroke-linecap="round" fill="none"/>
<path d="M118.0 60.4h0M106.1 49.6h0M146.5 42.7h0M151.0 40.8h0M129.4 46.9h0M137.3 43.1h0M155.1 53.7h0M160.7 32.7h0M165.7 34.2h0M189.5 50.1h0M190.7 50.1h0M219.7 37.4h0M196.1 39.4h0M146.4 32.5h0M218.3 48.8h0M140.2 32.2h0M91.1 56.5h0M148.0 45.3h0M99.0 40.4h0M154.9 43.4h0M101.9 45.5h0M120.6 40.9h0M176.2 47.7h0M216.4 35.7h0M218.2 35.6h0M143.6 37.6h0M105.0 54.8h0M178.8 37.1h0M130.8 48.3h0M111.0 49.8h0" stroke="#254F73" stroke-width="4.0" stroke-linecap="round" fill="none"/>
<path d="M120.1 59.5h0M107.6 48.8h0M152.3 41.5h0M130.3 46.5h0M139.2 42.8h0M140.9 42.8h0M104.1 60.4h0M156.2 53.7h0M167.6 33.9h0M192.7 49.6h0M221.6 37.5h0M198.1 39.3h0M147.9 31.7h0M220.5 49.2h0M141.8 31.8h0M143.8 31.6h0M92.6 56.1h0M182.0 42.1h0M103.4 45.1h0M122.2 41.3h0M178.4 47.0h0M219.9 36.1h0M183.0 30.0h0M159.5 30.1h0M145.4 38.1h0M105.9 54.5h0M132.2 48.8h0M134.4 49.0h0M111.7 49.4h0" stroke="#275378" stroke-width="4.0" stroke-linecap="round" fill="none"/>
<path d="M120.6 58.3h0M109.3 48.7h0M148.9 41.9h0M154.6 42.3h0M141.8 44.0h0M158.0 53.1h0M159.9 53.4h0M161.9 33.3h0M169.1 33.8h0M194.5 48.9h0M223.0 37.8h0M200.3 38.9h0M149.8 32.2h0M221.6 49.9h0M144.8 31.9h0M94.1 56.9h0M100.7 40.7h0M183.6 42.4h0M156.4 43.2h0M123.0 41.2h0M221.7 35.8h0M184.6 30.2h0M161.4 29.9h0M147.3 37.1h0M107.5 54.2h0M109.4 53.5h0M180.5 36.7h0M135.2 49.2h0M113.5 50.6h0" stroke="#29577E" stroke-width="4.0" stroke-linecap="round" fill="none"/>
<path d="M122.3 56.8h0M110.3 48.2h0M150.4 42.8h0M155.5 42.8h0M132.3 46.7h0M143.6 44.5h0M106.4 60.0h0M160.8 52.8h0M170.7 33.1h0M195.5 48.6h0M224.4 38.7h0M174.5 31.9h0M223.5 49.3h0M147.0 32.1h0M95.5 56.6h0M149.6 46.1h0M101.9 40.1h0M158.9 42.9h0M105.4 45.3h0M179.9 46.7h0M222.7 35.9h0M189.9 48.6h0M186.2 30.1h0M162.6 30.1h0M163.7 30.5h0M148.4 37.4h0M149.9 37.1h0M111.3 53.1h0M181.7 36.6h0M137.3 49.2h0M115.1 50.6h0" stroke="#2B5B84" stroke-width="4.0" stroke-linecap="round" fill="none"/>
<path d="M215.8 32.9h0M193.1 29.9h0M124.5 56.3h0M112.1 48.0h0M134.5 47.1h0M145.4 45.6h0M107.9 59.8h0M162.6 54.0h0M163.6 32.8h0M171.5 33.7h0M197.3 49.0h0M198.7 48.3h0M226.0 37.9h0M201.4 39.0h0M176.3 31.3h0M151.7 31.2h0M148.6 31.5h0M150.0 31.4h0M97.4 56.8h0M184.6 42.4h0M125.0 40.9h0M115.2 31.6h0M181.1 46.0h0M224.5 35.4h0M192.1 48.1h0M188.1 30.3h0M189.1 30.5h0M165.3 31.0h0M151.8 36.7h0M112.4 52.9h0M183.6 37.4h0M139.1 48.9h0M116.3 50.6h0" stroke="#2D5F89" stroke-width="4.0" stroke-linecap="round" fill="none"/>
<path d="M194.7 30.5h0M126.0 55.4h0M113.5 47.2h0M151.5 42.8h0M157.1 42.8h0M146.9 45.8h0M164.5 53.7h0M173.5 33.5h0M200.8 48.3h0M228.1 38.7h0M202.8 38.7h0M178.1 31.5h0M153.3 31.6h0M224.8 49.9h0M151.6 32.2h0M98.6 57.1h0M151.0 46.7h0M103.7 38.6h0M186.9 42.6h0M159.9 42.5h0M107.4 45.8h0M127.0 41.1h0M117.1 32.0h0M183.6 45.3h0M226.1 35.1h0M193.8 47.7h0M191.5 30.0h0M167.3 31.1h0M152.8 36.2h0M113.6 52.3h0M185.3 37.4h0M140.6 48.0h0M118.8 51.0h0" stroke="#30648F" stroke-width="4.0" stroke-linecap="round" fill="none"/>
<path d="M216.6 33.1h0M196.1 30.4h0M127.0 55.0h0M114.6 46.4h0M153.5 42.9h0M158.9 42.5h0M135.4 46.9h0M148.4 45.8h0M149.5 47.4h0M109.5 60.6h0M166.4 54.4h0M167.9 54.3h0M165.5 32.7h0M202.3 47.8h0M229.5 39.1h0M204.3 39.4h0M179.4 31.9h0M154.7 30.5h0M153.3 31.9h0M100.2 57.9h0M161.8 43.1h0M128.3 41.8h0M118.3 33.1h0M119.4 34.6h0M184.5 45.1h0M227.7 34.3h0M169.1 32.2h0M154.4 36.6h0M115.6 52.4h0M186.6 38.0h0M142.0 48.2h0M143.6 48.0h0M120.0 51.6h0" stroke="#326895" stroke-width="4.0" stroke-linecap="round" fill="none"/>
<path d="M218.4 33.7h0M198.6 30.3h0M128.1 53.4h0M116.8 46.2h0M160.6 43.2h0M136.9 47.6h0M150.6 47.3h0M169.2 53.5h0M175.6 33.1h0M203.4 47.3h0M230.6 39.0h0M206.6 39.2h0M181.1 31.5h0M156.5 30.0h0M154.7 32.2h0M155.7 32.2h0M102.2 58.6h0M103.0 58.0h0M152.6 47.0h0M105.5 38.6h0M188.4 43.2h0M108.7 45.8h0M130.2 40.9h0M120.7 35.0h0M229.0 34.4h0M195.2 47.2h0M171.0 32.4h0M172.2 32.7h0M156.4 36.7h0M231.4 47.5h0M116.7 51.6h0M145.1 46.4h0M121.3 52.8h0" stroke="#346C9B" stroke-width="4.0" stroke-linecap="round" fill="none"/>
<path d="M220.3 33.9h0M199.3 30.2h0M130.2 53.3h0M118.1 45.9h0M155.1 42.7h0M162.9 43.6h0M139.3 47.1h0M152.5 47.6h0M110.9 60.0h0M170.2 53.7h0M166.7 32.4h0M176.8 32.0h0M204.8 47.3h0M232.8 39.8h0M207.7 39.3h0M183.3 30.8h0M157.5 30.2h0M158.1 31.9h0M104.9 58.4h0M163.1 42.9h0M131.6 41.9h0M122.4 36.4h0M186.6 45.0h0M196.3 46.3h0M173.6 33.5h0M158.0 36.5h0M159.3 36.0h0M118.0 52.3h0M119.8 52.1h0M188.1 39.2h0M147.4 46.7h0M123.2 53.3h0" stroke="#3671A1" stroke-width="4.0" stroke-linecap="round" fill="none"/>
<path d="M221.8 33.9h0M131.6 53.3h0M119.8 46.1h0M156.8 42.5h0M164.2 43.9h0M153.7 48.0h0M112.5 60.1h0M171.9 53.6h0M178.2 31.7h0M232.1 44.1h0M206.1 46.8h0M207.9 46.7h0M234.4 40.4h0M90.9 60.6h0M184.1 31.5h0M159.2 32.2h0M106.2 58.9h0M154.2 47.4h0M190.0 43.8h0M164.7 42.9h0M110.4 45.9h0M123.8 37.2h0M188.4 44.0h0M198.5 46.1h0M175.2 33.8h0M161.3 36.3h0M233.9 48.0h0M121.2 51.4h0M189.7 39.1h0M148.3 45.4h0M124.2 53.6h0" stroke="#3875A7" stroke-width="4.0" stroke-linecap="round" fill="none"/>
<path d="M202.5 30.5h0M132.9 52.7h0M158.6 42.6h0M140.4 47.7h0M155.5 48.5h0M156.6 49.5h0M173.7 54.1h0M175.3 53.8h0M168.9 32.6h0M179.5 31.9h0M210.0 46.5h0M236.0 40.2h0M209.3 39.4h0M185.7 30.7h0M161.3 31.6h0M108.6 59.0h0M191.9 43.7h0M133.1 41.2h0M125.7 37.4h0M190.0 44.5h0M177.3 34.7h0M162.5 35.7h0M235.0 47.9h0M123.1 51.2h0M191.0 39.9h0M150.8 45.0h0M151.5 45.3h0M125.5 53.9h0" stroke="#3A7AAD" stroke-width="4.0" stroke-linecap="round" fill="none"/>
<path d="M224.9 33.7h0M134.4 52.4h0M165.5 44.1h0M142.3 48.1h0M158.8 50.3h0M113.8 60.2h0M177.0 52.8h0M181.4 31.6h0M233.0 44.1h0M211.1 45.9h0M237.8 41.1h0M210.6 38.8h0M187.5 30.6h0M189.1 31.3h0M162.6 32.1h0M163.9 31.8h0M110.1 59.0h0M156.2 47.0h0M166.2 41.9h0M112.2 46.0h0M134.6 40.8h0M126.4 39.1h0M127.7 39.7h0M200.2 46.2h0M178.9 35.3h0M180.4 36.0h0M164.3 34.8h0M124.3 51.5h0M192.6 40.4h0M153.9 44.8h0M128.0 53.8h0" stroke="#3D7EB3" stroke-width="4.0" stroke-linecap="round" fill="none"/>
<path d="M136.7 52.0h0M160.0 43.1h0M167.6 43.9h0M160.2 51.2h0M170.0 33.0h0M182.7 30.5h0M235.0 43.5h0M213.1 46.3h0M212.5 38.6h0M95.6 62.0h0M190.5 31.4h0M165.7 31.9h0M111.6 59.7h0M193.0 42.8h0M167.7 41.8h0M129.5 40.2h0M191.0 43.8h0M201.6 46.1h0M182.3 36.2h0M166.3 35.0h0M236.5 48.1h0M126.7 50.9h0M194.4 41.5h0M155.3 44.1h0M128.9 54.7h0" stroke="#3F83B9" stroke-width="4.0" stroke-linecap="round" fill="none"/>
<path d="M137.4 51.2h0M169.1 44.4h0M144.3 47.3h0M161.6 51.5h0M115.5 60.3h0M184.5 30.8h0M236.5 43.2h0M214.4 45.9h0M239.1 41.9h0M214.7 38.3h0M96.9 62.5h0M192.1 31.6h0M167.4 31.4h0M112.5 60.0h0M158.7 47.0h0M194.7 42.6h0M114.1 46.0h0M131.4 41.7h0M202.9 45.9h0M183.3 36.5h0M167.0 34.4h0M168.7 34.3h0M127.5 51.4h0M195.6 41.8h0M157.0 44.2h0M130.6 54.6h0" stroke="#4187BF" stroke-width="4.0" stroke-linecap="round" fill="none"/>
<path d="M139.4 50.5h0M170.5 44.6h0M145.8 47.1h0M162.7 51.7h0M117.7 60.8h0M172.5 32.1h0M186.0 31.4h0M215.8 45.8h0M218.1 45.1h0M241.0 42.1h0M216.1 38.1h0M100.1 63.1h0M193.7 30.9h0M169.4 30.9h0M170.7 31.1h0M114.2 60.3h0M169.4 41.3h0M132.1 43.0h0M184.9 36.0h0M171.0 34.7h0M238.2 49.5h0M129.5 51.3h0M131.0 51.3h0M158.1 44.2h0M132.4 56.1h0" stroke="#438CC5" stroke-width="4.0" stroke-linecap="round" fill="none"/>
<path d="M141.0 49.7h0M147.0 47.0h0M238.5 43.3h0M219.4 45.2h0M241.9 42.5h0M195.9 31.5h0M172.0 31.3h0M115.7 60.4h0M196.8 43.5h0M115.1 46.0h0M133.5 44.0h0M204.8 45.9h0M186.7 35.0h0M188.1 35.6h0M172.0 33.8h0M132.9 51.5h0M197.1 42.1h0M160.5 43.3h0M161.3 43.4h0" stroke="#4690CB" stroke-width="4.0" stroke-linecap="round" fill="none"/>
<path d="M141.9 49.3h0M144.2 49.2h0M119.1 61.3h0M188.4 31.4h0M240.1 43.4h0M221.2 45.2h0M244.1 42.3h0M196.8 31.1h0M174.2 31.3h0M117.8 61.0h0M198.7 43.0h0M171.1 41.2h0M206.0 45.2h0M190.5 35.4h0M173.6 33.6h0M240.2 49.6h0M133.9 51.9h0M199.2 41.9h0M163.4 43.7h0" stroke="#4895D1" stroke-width="4.0" stroke-linecap="round" fill="none"/>
<path d="M145.3 48.7h0M148.7 47.3h0M189.9 31.2h0M241.8 42.3h0M222.0 44.7h0M245.2 43.2h0M105.1 63.2h0M199.0 31.5h0M175.0 31.8h0M118.9 61.9h0M173.0 41.0h0M208.1 44.9h0M191.5 34.6h0M175.1 34.5h0M177.2 33.6h0M135.2 51.4h0M200.5 42.0h0M164.8 43.8h0" stroke="#4A99D7" stroke-width="4.0" stroke-linecap="round" fill="none"/>
<path d="M147.3 48.3h0M150.3 46.7h0M191.0 30.7h0M224.5 45.5h0M247.1 43.9h0M200.8 31.0h0M120.6 62.3h0M199.8 42.5h0M209.6 44.4h0M192.8 34.3h0M178.3 33.8h0M137.0 51.9h0M201.9 42.2h0" stroke="#4D9EDE" stroke-width="4.0" stroke-linecap="round" fill="none"/>
<path d="M148.2 48.2h0M152.2 46.4h0M192.3 31.0h0M243.7 42.8h0M226.2 45.6h0M227.1 44.8h0M248.6 44.2h0M202.1 31.4h0M122.4 62.7h0M174.6 41.7h0M194.5 33.4h0M195.9 33.3h0M180.0 33.8h0M138.9 51.7h0M203.6 43.1h0" stroke="#4FA3E4" stroke-width="4.0" stroke-linecap="round" fill="none"/>
<path d="M194.2 29.9h0M244.7 42.1h0M229.3 45.2h0M203.5 31.2h0M176.6 42.1h0M210.6 44.9h0M198.0 33.0h0M181.3 34.1h0M140.1 51.5h0M142.0 52.7h0" stroke="#51A8EA" stroke-width="4.0" stroke-linecap="round" fill="none"/>
<path d="M196.4 30.3h0M230.7 44.2h0M205.3 30.8h0M212.6 44.8h0M199.8 33.0h0M183.7 34.3h0M205.2 42.8h0" stroke="#54ACF1" stroke-width="4.0" stroke-linecap="round" fill="none"/>
<path d="M246.4 42.7h0M247.8 43.2h0M231.6 44.0h0M233.8 44.3h0M206.6 31.3h0M208.3 31.2h0M177.4 42.0h0M179.6 42.1h0M214.6 44.4h0M215.6 44.0h0M217.0 43.4h0M219.2 43.9h0M220.3 42.9h0M201.1 33.1h0M202.9 32.4h0M203.7 33.0h0M206.0 32.5h0M185.3 34.6h0M186.8 36.0h0M188.2 35.9h0M189.8 37.0h0M191.4 37.3h0M207.2 42.8h0" stroke="#56B1F7" stroke-width="4.0" stroke-linecap="round" fill="none"/>
<path d="M149.1 54.1h0M150.7 54.2h0M152.2 53.8h0M153.6 54.3h0M155.1 53.7h0M113.2 60.2h0M114.5 60.4h0M116.0 60.9h0M118.3 61.1h0M120.0 61.0h0M121.2 61.0h0M99.7 54.3h0M100.6 53.8h0M102.9 53.3h0M104.3 53.2h0M105.6 52.9h0M107.5 52.7h0M114.1 51.3h0M116.2 50.8h0M100.4 59.6h0M101.1 59.5h0M102.7 60.2h0M104.6 60.9h0M105.8 60.9h0M107.4 60.3h0M109.1 60.7h0M90.0 56.9h0M91.8 56.6h0M93.4 56.5h0M99.5 40.5h0M100.9 40.0h0M102.4 40.0h0M103.8 40.9h0M105.6 40.5h0M107.0 40.5h0M100.1 46.1h0M102.3 46.0h0M103.6 45.9h0M105.6 45.5h0M106.4 45.1h0M108.0 45.0h0M110.1 44.2h0M95.7 33.9h0M97.9 33.7h0M99.5 33.9h0M101.2 33.4h0M102.5 34.2h0M103.7 34.0h0M105.2 34.0h0M106.7 34.3h0M109.2 34.6h0M124.3 60.0h0M126.0 60.7h0M127.5 60.7h0M176.8 46.6h0M177.8 46.5h0M155.7 49.4h0M156.7 49.6h0M158.3 49.1h0M160.1 49.5h0M161.7 48.9h0M163.3 49.1h0M147.3 48.7h0M148.9 49.1h0M150.1 49.3h0M140.2 30.8h0M141.7 30.6h0M143.7 30.5h0M90.1 42.2h0M92.0 42.1h0M93.4 42.1h0M133.8 39.2h0M135.5 38.9h0" stroke="#132B43" stroke-width="4.0" stroke-linecap="round" fill="none"/>
<path d="M156.4 53.7h0M90.0 46.3h0M109.5 53.1h0M117.1 49.9h0M111.2 60.3h0M140.0 40.8h0M95.0 56.8h0M109.2 40.3h0M111.4 44.4h0M110.4 34.6h0M180.0 46.4h0M89.1 47.6h0M165.2 49.2h0M151.7 49.5h0M145.5 31.1h0M95.5 42.1h0" stroke="#152F48" stroke-width="4.0" stroke-linecap="round" fill="none"/>
<path d="M128.5 35.0h0M158.3 54.2h0M150.2 50.9h0M122.5 62.0h0M92.3 47.3h0M119.3 49.8h0M112.4 61.0h0M141.3 40.8h0M95.8 56.9h0M110.5 39.7h0M113.4 43.7h0M111.8 34.7h0M128.7 60.7h0M181.5 46.2h0M90.3 47.4h0M167.0 49.2h0M146.3 31.8h0" stroke="#17334D" stroke-width="4.0" stroke-linecap="round" fill="none"/>
<path d="M129.9 34.3h0M160.0 53.4h0M115.1 36.2h0M151.9 50.4h0M124.7 61.8h0M93.4 46.5h0M94.8 46.8h0M110.4 52.4h0M120.5 49.8h0M114.2 60.5h0M97.6 56.6h0M111.9 39.6h0M114.3 43.9h0M156.7 42.2h0M182.7 46.0h0M91.7 47.2h0M168.9 48.5h0M153.9 50.1h0M193.7 34.0h0M147.7 32.4h0M224.5 41.4h0M96.6 42.4h0" stroke="#193652" stroke-width="4.0" stroke-linecap="round" fill="none"/>
<path d="M161.1 53.5h0M153.7 50.9h0M126.4 61.5h0M96.5 47.1h0M112.3 53.3h0M122.2 49.3h0M115.8 60.2h0M143.4 41.8h0M99.9 57.6h0M113.4 39.5h0M114.8 39.0h0M116.7 43.5h0M159.0 41.7h0M114.1 34.4h0M131.2 60.3h0M184.5 45.8h0M93.5 47.9h0M170.4 49.2h0M155.0 50.7h0M195.4 34.3h0M91.2 52.1h0M150.2 33.6h0M226.6 41.7h0M98.0 42.7h0" stroke="#1B3A58" stroke-width="4.0" stroke-linecap="round" fill="none"/>
<path d="M130.8 35.1h0M162.9 54.1h0M116.6 36.9h0M127.7 62.5h0M98.1 47.1h0M123.7 49.5h0M125.3 49.4h0M117.6 60.0h0M144.6 41.6h0M115.9 38.2h0M118.1 43.6h0M160.3 41.8h0M115.6 35.0h0M132.9 61.4h0M186.3 45.8h0M95.0 47.8h0M171.4 48.4h0M197.0 34.4h0M93.1 51.2h0M151.4 33.7h0M227.8 41.4h0" stroke="#1D3E5D" stroke-width="4.0" stroke-linecap="round" fill="none"/>
<path d="M133.2 35.3h0M164.8 53.3h0M155.4 50.2h0M129.7 62.5h0M100.0 47.1h0M114.3 52.8h0M126.3 49.5h0M118.6 60.3h0M121.0 60.9h0M146.4 41.6h0M101.4 57.4h0M117.5 38.3h0M174.4 49.8h0M119.9 42.5h0M162.4 42.5h0M102.3 62.0h0M130.5 33.2h0M116.8 34.6h0M188.5 45.7h0M96.8 46.9h0M171.8 39.9h0M111.3 33.0h0M123.1 57.1h0M172.7 49.0h0M157.6 50.2h0M94.5 51.0h0M152.7 34.4h0M99.8 43.1h0" stroke="#1F4262" stroke-width="4.0" stroke-linecap="round" fill="none"/>
<path d="M166.3 53.3h0M167.5 53.6h0M118.6 37.3h0M157.1 51.0h0M131.3 62.1h0M101.6 46.9h0M186.2 30.3h0M115.4 53.6h0M128.0 49.7h0M121.9 60.3h0M148.1 41.6h0M102.6 57.8h0M119.2 37.9h0M121.0 41.8h0M117.9 34.3h0M134.4 61.3h0M98.6 47.4h0M112.6 31.6h0M124.4 57.2h0M175.0 48.2h0M158.9 50.3h0M199.0 34.6h0M96.6 50.4h0M154.4 35.3h0M230.2 41.8h0M101.8 42.4h0" stroke="#214668" stroke-width="4.0" stroke-linecap="round" fill="none"/>
<path d="M134.5 34.8h0M168.9 53.5h0M170.4 32.5h0M120.3 37.4h0M158.7 50.4h0M133.0 61.8h0M102.8 47.3h0M187.4 30.4h0M129.7 49.1h0M123.5 59.2h0M149.4 42.1h0M104.5 57.6h0M120.7 37.4h0M122.9 36.3h0M176.4 49.1h0M122.5 41.4h0M163.8 41.7h0M103.6 61.9h0M132.4 32.8h0M120.0 34.5h0M189.8 45.6h0M99.6 47.1h0M174.4 40.2h0M114.8 31.8h0M126.7 57.9h0M176.0 47.2h0M199.9 35.4h0M156.2 35.3h0M231.8 41.5h0" stroke="#234A6D" stroke-width="4.0" stroke-linecap="round" fill="none"/>
<path d="M136.2 35.6h0M170.8 53.9h0M172.2 33.4h0M160.3 50.8h0M134.5 61.7h0M104.9 47.4h0M188.7 30.9h0M175.0 47.0h0M117.6 53.0h0M131.9 49.1h0M125.7 58.5h0M105.5 57.0h0M123.6 35.8h0M177.8 49.2h0M124.0 41.2h0M165.7 41.2h0M104.7 60.7h0M121.5 34.4h0M136.1 61.5h0M191.3 45.8h0M101.9 47.4h0M219.9 41.7h0M128.2 57.6h0M177.6 47.4h0M160.5 51.0h0M201.8 35.6h0M97.5 50.6h0M157.4 35.6h0M233.3 41.6h0M102.9 43.4h0" stroke="#254F73" stroke-width="4.0" stroke-linecap="round" fill="none"/>
<path d="M172.1 54.1h0M173.7 32.7h0M121.2 38.1h0M162.0 51.5h0M136.0 61.0h0M106.3 46.9h0M190.9 31.9h0M177.2 47.1h0M119.3 52.2h0M132.8 49.4h0M127.2 58.4h0M151.3 42.4h0M107.5 57.5h0M125.4 34.7h0M178.9 49.9h0M125.7 40.4h0M166.6 41.3h0M134.6 33.2h0M205.1 39.3h0M193.4 46.0h0M103.5 46.8h0M175.3 40.2h0M221.6 42.5h0M129.7 58.2h0M131.3 58.0h0M179.4 46.8h0M161.8 50.3h0M99.8 50.2h0M159.5 36.8h0M234.1 41.8h0M104.8 43.9h0M92.0 38.3h0M93.5 38.8h0" stroke="#275378" stroke-width="4.0" stroke-linecap="round" fill="none"/>
<path d="M137.7 35.6h0M174.1 53.7h0M174.8 33.1h0M137.1 60.6h0M107.7 47.6h0M192.3 32.4h0M178.1 46.9h0M135.0 49.5h0M136.4 49.3h0M128.7 57.7h0M153.0 41.9h0M109.3 57.2h0M127.0 34.3h0M127.7 39.8h0M106.7 59.9h0M122.9 33.8h0M137.6 61.3h0M194.4 45.2h0M104.8 46.6h0M177.0 40.1h0M222.8 42.4h0M132.7 57.3h0M181.3 47.1h0M203.8 35.8h0M101.2 49.9h0M161.1 37.5h0M236.4 41.5h0M94.6 38.5h0" stroke="#29577E" stroke-width="4.0" stroke-linecap="round" fill="none"/>
<path d="M139.4 35.7h0M175.4 53.3h0M176.7 32.0h0M123.2 39.1h0M163.7 51.8h0M138.5 61.1h0M109.1 47.1h0M193.5 33.1h0M120.3 51.9h0M137.9 49.1h0M130.8 56.7h0M154.1 42.0h0M110.5 57.8h0M128.7 34.2h0M129.7 34.0h0M180.5 49.9h0M128.9 40.2h0M168.2 40.3h0M135.6 32.9h0M206.4 39.7h0M125.1 33.8h0M196.7 46.2h0M106.4 46.4h0M107.6 45.5h0M224.7 42.2h0M134.4 57.2h0M182.6 46.5h0M163.5 50.6h0M204.8 36.5h0M102.6 49.9h0M162.0 37.6h0M163.6 37.6h0M237.8 42.0h0M106.2 44.1h0M95.9 38.3h0" stroke="#2B5B84" stroke-width="4.0" stroke-linecap="round" fill="none"/>
<path d="M176.8 52.3h0M178.6 32.5h0M165.3 52.5h0M139.9 59.8h0M110.3 46.5h0M195.2 33.5h0M179.7 46.1h0M122.7 52.2h0M139.3 48.8h0M132.6 57.0h0M156.1 42.4h0M112.1 57.5h0M131.6 33.5h0M182.3 50.8h0M130.9 40.2h0M170.7 40.4h0M108.1 58.8h0M137.6 32.8h0M126.3 33.3h0M139.4 62.2h0M198.3 46.1h0M109.2 46.4h0M178.9 40.1h0M89.3 53.3h0M136.0 57.6h0M184.6 45.8h0M165.4 50.3h0M206.7 36.7h0M104.0 48.8h0M165.4 37.7h0M239.4 42.8h0M108.3 44.3h0M97.4 39.1h0" stroke="#2D5F89" stroke-width="4.0" stroke-linecap="round" fill="none"/>
<path d="M141.0 35.1h0M179.0 52.1h0M180.3 31.4h0M124.4 39.5h0M166.8 52.5h0M141.6 59.3h0M196.4 34.7h0M182.0 46.4h0M123.6 51.0h0M140.5 49.0h0M134.1 56.6h0M157.4 43.5h0M244.0 44.7h0M114.1 57.4h0M133.2 34.0h0M131.8 39.4h0M172.1 39.7h0M208.3 40.0h0M127.5 33.3h0M214.2 39.9h0M199.8 46.1h0M111.3 45.9h0M180.6 40.4h0M226.3 41.6h0M137.6 57.7h0M139.5 56.8h0M185.4 46.2h0M105.6 49.2h0M167.0 38.5h0M240.9 43.1h0M99.2 38.7h0" stroke="#30648F" stroke-width="4.0" stroke-linecap="round" fill="none"/>
<path d="M180.2 50.9h0M181.8 51.6h0M182.2 31.6h0M126.5 40.6h0M167.8 52.8h0M198.2 35.4h0M200.1 35.6h0M183.7 45.8h0M142.2 47.9h0M135.0 55.9h0M158.4 43.8h0M244.8 44.2h0M115.9 56.8h0M134.6 33.4h0M184.5 50.9h0M133.9 40.1h0M109.4 58.3h0M139.5 33.3h0M141.6 61.5h0M201.5 46.0h0M113.3 46.2h0M90.6 54.0h0M228.3 42.8h0M141.0 57.4h0M187.2 46.1h0M167.2 49.9h0M208.7 36.1h0M169.1 38.4h0M101.1 39.7h0" stroke="#326895" stroke-width="4.0" stroke-linecap="round" fill="none"/>
<path d="M142.7 35.0h0M183.7 51.1h0M183.6 31.6h0M169.6 53.9h0M143.6 59.2h0M201.0 36.1h0M185.2 46.4h0M125.3 50.9h0M144.0 47.8h0M137.5 56.4h0M247.2 44.5h0M117.2 57.3h0M136.6 34.0h0M137.8 34.5h0M185.8 51.5h0M135.4 39.5h0M173.4 39.3h0M110.8 57.7h0M210.0 39.8h0M215.6 39.7h0M114.1 46.6h0M181.6 40.2h0M229.5 43.3h0M142.0 56.9h0M189.4 45.9h0M210.6 35.9h0M107.5 49.1h0M170.7 39.3h0M242.2 43.1h0M103.0 39.7h0M104.1 40.1h0" stroke="#346C9B" stroke-width="4.0" stroke-linecap="round" fill="none"/>
<path d="M144.2 34.7h0M184.5 51.1h0M184.4 31.7h0M128.5 40.9h0M171.1 54.2h0M214.8 44.9h0M144.6 59.4h0M202.9 36.2h0M186.8 46.8h0M127.1 49.3h0M145.1 48.4h0M146.9 48.0h0M138.2 55.7h0M140.2 55.7h0M160.4 44.9h0M118.6 56.4h0M140.0 34.7h0M187.1 51.4h0M136.7 38.9h0M175.6 39.0h0M141.4 33.2h0M211.2 40.5h0M142.7 60.6h0M217.0 39.9h0M203.1 46.1h0M183.4 41.1h0M91.8 54.5h0M231.1 43.1h0M143.5 56.4h0M190.2 45.9h0M169.2 50.2h0M211.5 35.1h0M109.0 48.3h0M172.1 39.0h0M244.7 42.9h0M106.1 41.0h0" stroke="#3671A1" stroke-width="4.0" stroke-linecap="round" fill="none"/>
<path d="M186.8 50.9h0M187.0 32.1h0M187.6 31.3h0M216.2 44.7h0M146.5 58.6h0M205.0 36.1h0M188.7 47.8h0M148.5 48.1h0M142.0 55.5h0M161.9 45.8h0M248.5 44.7h0M120.6 56.7h0M141.2 35.2h0M138.9 38.8h0M176.9 38.6h0M204.2 46.2h0M94.0 54.7h0M232.9 43.8h0M144.9 56.1h0M147.0 55.8h0M192.1 45.2h0M170.4 49.8h0M213.7 35.1h0M111.0 48.1h0M173.8 39.4h0M245.7 42.8h0M106.9 40.6h0" stroke="#3875A7" stroke-width="4.0" stroke-linecap="round" fill="none"/>
<path d="M145.8 34.5h0M188.4 50.6h0M190.0 32.0h0M129.9 41.6h0M217.5 44.2h0M147.9 57.8h0M205.9 36.8h0M150.4 47.8h0M143.4 55.7h0M163.2 45.9h0M142.4 36.1h0M140.6 39.0h0M142.3 33.0h0M213.3 39.7h0M144.4 60.5h0M219.3 39.3h0M206.0 46.0h0M184.8 41.8h0M148.0 55.5h0M194.0 43.9h0M112.6 48.0h0M175.1 39.1h0M247.9 44.0h0M109.3 40.6h0" stroke="#3A7AAD" stroke-width="4.0" stroke-linecap="round" fill="none"/>
<path d="M147.0 35.3h0M189.9 51.0h0M191.5 31.7h0M219.2 42.9h0M149.3 57.8h0M207.3 37.7h0M190.3 47.5h0M151.2 47.6h0M165.0 47.1h0M121.7 56.1h0M144.1 36.0h0M146.3 36.3h0M178.8 38.4h0M144.3 34.3h0M220.2 39.2h0M207.2 46.1h0M186.5 41.7h0M95.8 54.4h0M234.2 44.6h0M150.1 55.4h0M195.2 43.9h0M172.2 49.7h0M214.9 35.2h0M114.4 47.8h0M176.5 39.9h0M249.1 44.1h0M110.6 40.6h0" stroke="#3D7EB3" stroke-width="4.0" stroke-linecap="round" fill="none"/>
<path d="M190.7 51.4h0M193.1 32.3h0M131.5 42.0h0M221.2 42.3h0M208.8 38.0h0M192.0 48.5h0M153.2 47.3h0M166.1 47.6h0M147.9 36.7h0M180.6 37.9h0M214.8 40.3h0M146.6 60.5h0M208.9 46.0h0M235.7 44.8h0M151.4 54.7h0M173.5 49.2h0M216.3 35.0h0M178.7 39.7h0M112.2 40.4h0" stroke="#3F83B9" stroke-width="4.0" stroke-linecap="round" fill="none"/>
<path d="M149.1 35.6h0M194.1 31.7h0M222.6 41.7h0M223.6 41.6h0M210.4 39.1h0M193.5 47.9h0M155.1 47.5h0M156.3 47.2h0M181.4 38.9h0M145.4 35.1h0M222.2 39.1h0M211.2 46.1h0M188.9 42.5h0M97.2 54.0h0M236.7 45.8h0M153.6 55.3h0M155.0 54.9h0M218.1 34.3h0M115.4 47.1h0M180.4 40.0h0M113.1 40.4h0M115.2 40.5h0" stroke="#4187BF" stroke-width="4.0" stroke-linecap="round" fill="none"/>
<path d="M151.1 35.9h0M195.7 31.7h0M133.3 42.4h0M225.1 40.4h0M212.7 39.5h0M194.7 47.6h0M157.7 47.3h0M168.0 49.1h0M183.2 38.7h0M216.4 39.8h0M223.3 39.6h0M212.8 45.9h0M189.6 42.9h0M238.6 46.2h0M156.7 55.1h0M117.4 47.5h0M181.5 40.6h0M183.2 40.7h0M116.6 40.3h0" stroke="#438CC5" stroke-width="4.0" stroke-linecap="round" fill="none"/>
<path d="M133.9 56.2h0M197.3 31.5h0M134.3 42.2h0M227.0 40.1h0M213.4 39.7h0M195.9 47.4h0M159.2 48.1h0M169.7 49.6h0M147.7 35.7h0M225.6 39.4h0M240.3 46.8h0M157.5 54.3h0M220.3 33.1h0M119.1 47.2h0M118.4 40.7h0" stroke="#4690CB" stroke-width="4.0" stroke-linecap="round" fill="none"/>
<path d="M151.7 37.0h0M198.9 31.3h0M227.9 39.2h0M215.4 40.2h0M171.1 50.0h0M185.2 38.2h0M218.1 39.9h0M192.1 42.9h0M241.3 47.4h0M158.9 55.0h0M120.3 46.6h0M120.2 40.6h0" stroke="#4895D1" stroke-width="4.0" stroke-linecap="round" fill="none"/>
<path d="M153.5 37.8h0M200.8 31.3h0M136.6 42.6h0M229.4 38.8h0M216.8 41.1h0M198.0 47.3h0M172.5 51.1h0M186.4 38.1h0M148.7 35.9h0M219.7 39.8h0M227.0 39.2h0M160.6 54.7h0M162.4 54.9h0M122.7 46.4h0M121.4 40.5h0" stroke="#4A99D7" stroke-width="4.0" stroke-linecap="round" fill="none"/>
<path d="M202.4 30.7h0M231.5 38.6h0M218.7 40.6h0M199.3 47.5h0M189.0 38.3h0M228.6 38.4h0M193.5 43.2h0M243.2 47.5h0M164.5 55.3h0M123.7 45.9h0" stroke="#4D9EDE" stroke-width="4.0" stroke-linecap="round" fill="none"/>
<path d="M204.4 30.1h0M138.1 43.1h0M232.5 37.7h0M219.7 41.1h0M201.1 47.9h0M151.0 36.5h0M221.8 39.0h0M195.2 42.6h0M244.9 48.6h0M165.4 56.3h0" stroke="#4FA3E4" stroke-width="4.0" stroke-linecap="round" fill="none"/>
<path d="M234.2 37.4h0M221.6 41.6h0M202.4 47.4h0M152.2 37.3h0M229.7 38.3h0M246.5 49.5h0M125.8 46.0h0" stroke="#51A8EA" stroke-width="4.0" stroke-linecap="round" fill="none"/>
<path d="M236.2 37.7h0M223.4 42.4h0M204.7 47.4h0M222.6 39.1h0M231.6 38.0h0M196.5 43.7h0M248.3 49.8h0" stroke="#54ACF1" stroke-width="4.0" stroke-linecap="round" fill="none"/>
<path d="M237.3 36.7h0M238.5 36.4h0M225.0 42.8h0M206.5 46.9h0M207.8 47.4h0M209.3 46.9h0M154.0 38.4h0M224.3 39.0h0M225.9 39.1h0M228.1 39.4h0M232.9 37.9h0M234.7 38.4h0M236.4 38.4h0M237.9 38.0h0M239.9 38.2h0M241.3 38.8h0M198.4 43.6h0" stroke="#56B1F7" stroke-width="4.0" stroke-linecap="round" fill="none"/>
<path d="M137.5 38.1h0M139.0 38.5h0M139.8 37.8h0M141.7 36.7h0M143.8 37.3h0M145.3 37.2h0M148.2 48.6h0M149.0 48.6h0M151.3 48.8h0M90.2 53.3h0M91.3 53.4h0M93.5 53.8h0M95.0 53.8h0M157.0 44.9h0M135.8 41.4h0M138.2 41.3h0M139.9 40.9h0M141.1 41.4h0M142.6 41.5h0M143.8 42.3h0M134.3 36.6h0M94.5 37.6h0M96.2 38.3h0M98.3 37.1h0M99.3 37.1h0M101.2 35.9h0M140.2 55.1h0M141.5 54.1h0M142.9 54.7h0M144.5 55.2h0M101.6 32.8h0M102.7 33.1h0M134.5 46.0h0M136.4 46.1h0M137.9 45.7h0M138.9 46.2h0M120.5 37.4h0M122.6 37.0h0M124.2 36.7h0M125.9 37.6h0M127.8 37.6h0M116.5 31.8h0M117.6 33.1h0M175.8 49.0h0M176.7 49.4h0M178.5 49.2h0M131.8 56.2h0M90.0 59.8h0M91.2 59.4h0M93.6 59.3h0M93.8 44.8h0M95.5 45.9h0M96.9 46.1h0M98.4 46.2h0M99.9 46.1h0M101.2 46.5h0M103.2 47.4h0M105.0 47.2h0M106.3 48.0h0M108.3 48.7h0M109.1 49.3h0M111.5 50.4h0M93.9 36.5h0M94.7 35.5h0M96.6 35.5h0M98.2 35.5h0M100.3 35.9h0" stroke="#132B43" stroke-width="4.0" stroke-linecap="round" fill="none"/>
<path d="M146.9 36.8h0M93.8 61.8h0M152.0 50.2h0M161.0 40.1h0M117.7 55.3h0M113.1 50.9h0M158.0 44.8h0M145.3 42.1h0M147.5 43.1h0M135.3 35.8h0M103.1 35.2h0M146.3 54.7h0M106.3 32.3h0M141.1 46.5h0M119.0 35.4h0M119.7 36.6h0M133.8 56.0h0M94.7 59.9h0M113.0 50.4h0" stroke="#152F48" stroke-width="4.0" stroke-linecap="round" fill="none"/>
<path d="M147.6 36.1h0M154.0 50.1h0M114.9 50.0h0M97.1 53.6h0M159.3 43.7h0M149.4 43.0h0M137.5 36.5h0M107.9 32.0h0M114.5 65.2h0M142.7 47.4h0M144.1 46.6h0M199.8 30.0h0M129.2 38.3h0M121.4 37.7h0M180.4 49.8h0M96.6 60.1h0M114.2 51.1h0M101.9 35.1h0" stroke="#17334D" stroke-width="4.0" stroke-linecap="round" fill="none"/>
<path d="M149.6 36.0h0M95.3 62.2h0M155.9 51.0h0M162.6 39.6h0M119.1 54.1h0M115.6 50.4h0M161.5 44.7h0M150.2 42.6h0M138.6 35.8h0M104.9 35.3h0M148.3 54.9h0M107.7 56.2h0M109.4 31.7h0M145.5 47.3h0M201.2 30.2h0M130.7 39.1h0M122.7 38.1h0M134.9 56.6h0M97.7 59.5h0M116.3 50.9h0M103.2 35.2h0" stroke="#193652" stroke-width="4.0" stroke-linecap="round" fill="none"/>
<path d="M151.1 35.4h0M152.4 35.2h0M157.1 51.0h0M159.1 51.6h0M164.2 40.3h0M117.6 49.2h0M163.3 44.6h0M151.9 42.3h0M140.3 35.5h0M110.5 31.9h0M103.0 32.8h0M117.8 64.8h0M147.3 46.6h0M123.8 39.5h0M181.5 50.2h0M99.9 58.9h0M117.4 50.8h0M104.9 35.7h0" stroke="#1B3A58" stroke-width="4.0" stroke-linecap="round" fill="none"/>
<path d="M154.4 35.5h0M97.4 62.1h0M160.4 52.3h0M121.3 54.2h0M175.3 49.5h0M119.0 49.4h0M120.7 48.6h0M98.1 54.3h0M164.3 44.3h0M153.6 42.2h0M155.2 42.8h0M141.6 34.8h0M106.6 34.1h0M150.1 55.0h0M109.1 56.3h0M104.7 32.8h0M118.8 64.8h0M148.4 46.3h0M132.3 39.4h0M196.4 42.1h0M124.8 40.1h0M123.3 62.3h0M183.6 50.1h0M137.3 56.0h0M101.8 58.2h0M119.1 51.5h0" stroke="#1D3E5D" stroke-width="4.0" stroke-linecap="round" fill="none"/>
<path d="M156.0 35.2h0M95.9 34.9h0M98.7 61.8h0M140.1 59.5h0M161.6 52.9h0M166.3 40.0h0M122.3 52.8h0M122.1 48.2h0M166.4 44.2h0M156.8 42.9h0M143.1 35.0h0M151.0 54.7h0M115.7 31.7h0M116.1 42.7h0M207.2 50.4h0M120.6 63.5h0M122.4 63.8h0M150.0 45.8h0M152.1 46.2h0M124.5 58.2h0M197.5 42.4h0M126.9 41.2h0M125.0 62.2h0M138.9 56.1h0M103.0 58.5h0M120.0 51.5h0M121.8 52.7h0M106.3 35.8h0" stroke="#1F4262" stroke-width="4.0" stroke-linecap="round" fill="none"/>
<path d="M157.7 35.1h0M141.4 59.3h0M163.1 53.1h0M176.8 50.2h0M123.1 46.8h0M99.9 53.9h0M167.8 43.7h0M158.5 42.6h0M144.5 35.6h0M146.8 35.5h0M228.5 49.5h0M107.4 33.7h0M110.9 56.8h0M106.1 33.3h0M117.6 42.1h0M123.5 63.6h0M153.0 46.9h0M125.4 58.6h0M133.5 39.3h0M199.0 42.8h0M128.0 42.3h0M128.9 43.9h0M127.3 62.0h0M185.2 50.0h0M104.5 58.4h0M124.1 52.2h0M108.3 36.1h0" stroke="#214668" stroke-width="4.0" stroke-linecap="round" fill="none"/>
<path d="M158.5 34.6h0M160.1 34.4h0M97.9 35.1h0M100.9 62.1h0M143.6 59.1h0M165.0 52.5h0M166.3 52.5h0M168.1 39.7h0M124.0 52.7h0M124.2 45.7h0M169.5 44.6h0M160.5 42.0h0M148.0 35.3h0M230.4 49.2h0M152.8 55.0h0M107.3 34.3h0M124.9 64.2h0M155.1 46.7h0M129.2 60.2h0M127.8 58.8h0M200.7 43.0h0M130.3 45.0h0M128.5 62.7h0M140.5 56.1h0M106.1 57.9h0M124.9 53.1h0M109.8 36.3h0" stroke="#234A6D" stroke-width="4.0" stroke-linecap="round" fill="none"/>
<path d="M161.9 34.6h0M99.7 34.9h0M144.4 59.4h0M168.5 53.1h0M169.4 40.1h0M112.3 64.2h0M178.5 49.8h0M126.3 45.1h0M102.2 55.6h0M171.3 44.4h0M161.4 41.5h0M149.7 35.0h0M231.8 49.0h0M108.9 32.5h0M112.8 56.9h0M120.4 31.1h0M108.8 34.2h0M118.8 42.1h0M182.4 33.3h0M126.5 63.8h0M156.6 46.9h0M130.8 58.9h0M129.4 59.3h0M135.3 40.4h0M202.4 44.0h0M131.3 45.9h0M129.8 62.7h0M186.6 50.9h0M126.7 53.1h0" stroke="#254F73" stroke-width="4.0" stroke-linecap="round" fill="none"/>
<path d="M163.9 33.9h0M100.8 34.6h0M102.1 61.7h0M146.9 59.9h0M169.5 53.3h0M113.6 63.1h0M125.1 51.6h0M127.1 44.4h0M172.5 44.3h0M163.3 41.5h0M164.4 41.1h0M151.2 35.5h0M233.5 48.7h0M216.4 33.8h0M154.2 54.2h0M114.5 57.2h0M122.2 31.1h0M121.3 42.0h0M184.3 33.2h0M128.8 64.0h0M130.0 64.4h0M158.2 47.5h0M159.9 47.8h0M132.6 59.2h0M130.4 59.5h0M131.8 60.4h0M204.0 44.5h0M133.2 46.0h0M132.2 63.4h0M142.3 57.2h0M108.3 58.0h0M128.8 53.8h0M110.7 36.0h0" stroke="#275378" stroke-width="4.0" stroke-linecap="round" fill="none"/>
<path d="M165.1 34.1h0M104.4 61.1h0M147.7 60.3h0M171.6 53.2h0M221.3 42.9h0M170.9 39.3h0M115.8 63.6h0M127.2 50.7h0M180.6 49.3h0M128.9 42.6h0M104.0 56.0h0M174.3 44.4h0M166.5 41.5h0M89.1 56.0h0M153.0 35.6h0M235.0 48.3h0M110.9 31.8h0M217.8 34.2h0M110.9 34.3h0M122.4 41.6h0M185.6 32.9h0M131.8 64.1h0M160.7 47.9h0M133.5 58.1h0M133.5 60.8h0M137.3 40.6h0M205.0 44.7h0M134.2 46.3h0M133.1 62.7h0M188.2 50.3h0M109.9 57.3h0M130.0 54.3h0M131.6 55.7h0" stroke="#29577E" stroke-width="4.0" stroke-linecap="round" fill="none"/>
<path d="M166.9 34.3h0M168.7 34.4h0M102.8 34.1h0M93.8 34.8h0M149.4 60.7h0M172.8 52.8h0M174.1 52.4h0M117.6 63.2h0M118.6 62.9h0M129.6 41.8h0M176.0 44.3h0M168.4 40.9h0M154.7 35.9h0M236.1 47.4h0M238.4 48.0h0M112.4 31.6h0M234.9 41.7h0M219.9 33.7h0M221.1 33.9h0M156.0 53.9h0M116.7 56.8h0M112.2 34.4h0M123.6 40.7h0M222.8 36.4h0M186.9 31.9h0M133.0 64.5h0M234.9 42.2h0M162.6 48.6h0M135.6 57.7h0M135.9 61.0h0M207.3 44.8h0M136.4 47.0h0M134.6 63.2h0M143.3 56.9h0M111.6 57.1h0M133.0 56.3h0" stroke="#2B5B84" stroke-width="4.0" stroke-linecap="round" fill="none"/>
<path d="M169.9 33.6h0M104.5 33.5h0M95.1 35.4h0M106.0 60.8h0M151.1 60.8h0M175.7 53.0h0M213.9 37.7h0M223.1 42.8h0M172.5 39.0h0M120.6 62.4h0M128.5 50.3h0M182.0 49.5h0M131.8 40.7h0M105.3 57.0h0M177.1 43.8h0M169.3 40.5h0M90.8 55.8h0M156.1 35.7h0M240.1 47.5h0M236.6 41.4h0M157.1 53.3h0M114.3 34.5h0M224.8 36.6h0M189.2 31.9h0M134.9 63.5h0M236.3 42.9h0M164.2 49.1h0M136.5 57.1h0M136.6 61.5h0M139.0 41.1h0M208.7 44.8h0M137.7 47.3h0M138.8 47.6h0M136.3 64.1h0M189.7 50.3h0M113.6 57.0h0M135.0 56.7h0" stroke="#2D5F89" stroke-width="4.0" stroke-linecap="round" fill="none"/>
<path d="M171.2 33.2h0M96.7 35.8h0M178.0 53.2h0M174.0 39.0h0M122.2 61.9h0M242.8 37.8h0M133.2 39.8h0M178.8 43.6h0M171.3 40.5h0M157.0 36.2h0M240.9 47.9h0M238.4 40.7h0M118.3 56.7h0M125.2 41.5h0M226.6 35.5h0M190.6 32.2h0M136.6 63.7h0M137.7 63.8h0M238.0 42.7h0M165.5 49.5h0M167.2 49.6h0M138.6 57.0h0M138.7 61.3h0M210.3 44.8h0M140.6 48.8h0M138.0 64.8h0M192.1 50.1h0M144.9 57.3h0M114.9 56.6h0M136.7 57.1h0" stroke="#30648F" stroke-width="4.0" stroke-linecap="round" fill="none"/>
<path d="M172.9 32.7h0M105.6 33.5h0M89.0 60.0h0M107.8 60.8h0M215.6 36.8h0M224.6 43.7h0M124.0 62.2h0M129.9 48.7h0M183.4 48.9h0M161.5 30.0h0M134.0 39.4h0M180.2 44.0h0M172.3 40.0h0M174.1 39.6h0M92.7 55.5h0M158.6 36.2h0M243.1 47.7h0M239.7 40.3h0M159.1 52.8h0M130.8 30.6h0M115.8 34.9h0M127.1 41.0h0M228.3 35.6h0M191.7 31.9h0M139.5 64.2h0M239.1 42.9h0M168.8 48.9h0M139.8 61.3h0M142.1 62.0h0M140.7 41.7h0M211.3 44.8h0M141.8 49.6h0M140.2 64.8h0M209.2 38.5h0M146.9 57.4h0M116.9 56.8h0M137.9 57.7h0" stroke="#326895" stroke-width="4.0" stroke-linecap="round" fill="none"/>
<path d="M174.8 32.5h0M176.4 32.8h0M107.4 33.3h0M90.4 59.7h0M98.5 36.4h0M108.9 59.6h0M176.1 39.1h0M124.9 62.3h0M131.8 47.9h0M163.6 30.6h0M135.8 38.5h0M182.5 44.0h0M175.5 39.0h0M160.4 36.4h0M244.5 46.6h0M241.7 40.1h0M119.4 56.9h0M117.4 35.8h0M128.6 40.4h0M229.2 35.6h0M193.5 32.9h0M140.9 64.5h0M241.4 42.4h0M170.2 49.5h0M139.6 56.5h0M143.8 61.0h0M213.2 43.8h0M143.7 50.6h0M141.5 64.3h0M193.7 50.6h0M139.5 58.2h0" stroke="#346C9B" stroke-width="4.0" stroke-linecap="round" fill="none"/>
<path d="M178.2 32.4h0M109.1 33.4h0M92.9 60.0h0M94.3 60.8h0M99.6 36.4h0M217.2 37.2h0M226.1 43.8h0M126.8 61.8h0M185.0 48.6h0M165.0 30.3h0M136.8 36.9h0M184.2 44.2h0M106.8 32.2h0M177.5 39.8h0M94.2 55.0h0M161.7 36.4h0M246.5 46.3h0M247.4 45.8h0M160.8 52.1h0M121.7 57.0h0M231.4 35.4h0M195.0 33.0h0M196.8 33.5h0M143.0 63.8h0M242.6 42.0h0M171.8 49.3h0M141.7 55.9h0M145.1 61.2h0M142.4 42.1h0M214.4 43.3h0M144.5 51.9h0M210.6 38.0h0M148.6 58.1h0" stroke="#3671A1" stroke-width="4.0" stroke-linecap="round" fill="none"/>
<path d="M179.6 32.1h0M95.3 61.2h0M110.7 59.6h0M178.1 39.5h0M128.6 61.2h0M129.5 61.7h0M132.7 46.9h0M166.1 31.0h0M138.3 35.6h0M185.8 44.0h0M179.5 38.9h0M164.2 37.2h0M249.3 45.1h0M243.3 39.9h0M135.8 30.8h0M137.3 30.5h0M118.6 36.2h0M130.5 40.9h0M233.1 35.8h0M198.9 33.2h0M244.3 42.0h0M173.6 49.1h0M175.6 50.2h0M142.7 54.8h0M146.7 61.7h0M216.2 44.2h0M218.4 43.9h0M146.2 52.5h0M194.7 50.2h0M213.2 37.2h0" stroke="#3875A7" stroke-width="4.0" stroke-linecap="round" fill="none"/>
<path d="M180.8 31.9h0M97.4 61.1h0M101.4 37.0h0M218.9 36.6h0M227.5 44.2h0M179.8 40.1h0M131.8 61.4h0M186.7 48.2h0M167.8 31.1h0M140.0 34.7h0M187.0 44.2h0M109.2 31.8h0M180.8 39.1h0M95.4 55.3h0M165.2 37.1h0M166.5 37.6h0M244.8 39.9h0M162.3 51.9h0M123.2 57.2h0M119.9 36.9h0M132.1 40.3h0M234.5 36.3h0M199.6 33.0h0M245.4 42.2h0M176.8 50.4h0M144.8 55.2h0M148.6 61.0h0M219.4 43.5h0M147.7 53.9h0M149.0 54.5h0M150.6 58.2h0" stroke="#3A7AAD" stroke-width="4.0" stroke-linecap="round" fill="none"/>
<path d="M182.7 31.9h0M98.7 61.9h0M103.3 37.8h0M112.5 59.1h0M133.3 61.7h0M134.0 46.5h0M169.5 30.6h0M140.7 34.1h0M188.8 43.7h0M110.8 32.1h0M181.8 39.5h0M184.1 39.6h0M168.2 37.9h0M140.9 30.2h0M121.3 36.7h0M133.6 39.7h0M235.6 36.5h0M201.5 34.0h0M247.2 42.0h0M177.9 50.3h0M146.0 54.9h0M149.4 61.5h0M221.0 44.8h0M150.4 55.3h0M197.0 49.5h0M214.4 36.6h0" stroke="#3D7EB3" stroke-width="4.0" stroke-linecap="round" fill="none"/>
<path d="M100.4 62.0h0M114.6 58.8h0M220.4 36.1h0M229.5 43.3h0M180.8 39.6h0M134.5 61.6h0M136.0 46.5h0M188.7 47.7h0M171.0 31.4h0M141.8 32.8h0M190.4 44.6h0M169.6 38.1h0M124.7 56.6h0M237.1 37.3h0M239.3 36.7h0M202.9 33.4h0M179.8 50.2h0M147.7 55.7h0M151.3 61.1h0M222.7 44.3h0M198.6 49.1h0M216.3 36.1h0M152.0 57.8h0" stroke="#3F83B9" stroke-width="4.0" stroke-linecap="round" fill="none"/>
<path d="M101.4 62.4h0M104.4 39.1h0M135.9 61.4h0M172.4 30.6h0M143.9 31.3h0M191.8 44.3h0M111.9 32.9h0M171.9 38.0h0M123.6 37.4h0M135.4 39.2h0M240.7 36.7h0M204.3 33.4h0M181.8 50.3h0M182.8 50.2h0M149.5 55.3h0M223.9 45.4h0M217.1 35.3h0M154.1 58.3h0" stroke="#4187BF" stroke-width="4.0" stroke-linecap="round" fill="none"/>
<path d="M103.4 62.7h0M105.4 63.4h0M116.2 59.0h0M222.9 35.6h0M231.5 42.5h0M182.5 39.7h0M137.7 62.0h0M138.2 46.5h0M190.2 48.5h0M174.3 31.5h0M145.3 31.2h0M193.8 44.4h0M173.5 38.9h0M126.4 56.5h0M125.1 37.7h0M137.0 38.1h0M241.8 37.8h0M206.7 34.1h0M151.2 56.2h0M225.3 46.2h0" stroke="#438CC5" stroke-width="4.0" stroke-linecap="round" fill="none"/>
<path d="M107.0 63.5h0M183.9 39.7h0M139.8 61.4h0M141.3 61.4h0M139.7 46.5h0M176.2 31.2h0M195.3 44.3h0M174.8 38.3h0M126.4 37.7h0M137.9 36.8h0M243.5 37.9h0M207.5 33.6h0M226.6 47.0h0M219.5 35.1h0M155.7 58.4h0" stroke="#4690CB" stroke-width="4.0" stroke-linecap="round" fill="none"/>
<path d="M107.7 63.9h0M232.7 42.0h0M142.8 60.7h0M191.4 47.9h0M177.6 31.3h0M196.7 44.3h0M176.1 38.3h0M128.3 57.1h0M139.9 37.0h0M209.6 34.5h0M153.0 56.2h0M228.3 47.7h0M220.5 33.8h0" stroke="#4895D1" stroke-width="4.0" stroke-linecap="round" fill="none"/>
<path d="M224.3 35.6h0M186.4 40.0h0M140.9 46.6h0M179.3 30.9h0M129.7 56.6h0M210.7 34.6h0M154.2 56.4h0M230.2 48.3h0M222.3 33.5h0" stroke="#4A99D7" stroke-width="4.0" stroke-linecap="round" fill="none"/>
<path d="M234.7 41.5h0M193.8 47.5h0M180.7 30.7h0M141.5 36.5h0M213.0 33.9h0M156.2 56.4h0M232.2 48.5h0" stroke="#4D9EDE" stroke-width="4.0" stroke-linecap="round" fill="none"/>
<path d="M225.5 34.5h0M182.8 30.5h0M131.0 56.8h0M142.6 36.3h0M214.8 34.1h0M216.1 34.1h0M158.1 56.5h0M232.9 48.5h0M224.0 33.7h0" stroke="#4FA3E4" stroke-width="4.0" stroke-linecap="round" fill="none"/>
<path d="M236.6 41.9h0M195.2 47.4h0M184.1 30.1h0M144.2 36.1h0M217.4 34.3h0M159.0 56.4h0M234.8 48.6h0" stroke="#51A8EA" stroke-width="4.0" stroke-linecap="round" fill="none"/>
<path d="M227.5 34.2h0M186.2 30.1h0M219.1 35.2h0M250.0 49.6h0M160.7 56.7h0M236.9 48.3h0" stroke="#54ACF1" stroke-width="4.0" stroke-linecap="round" fill="none"/>
<path d="M237.8 41.8h0M239.6 41.3h0M241.6 40.6h0M145.7 35.3h0M220.4 34.6h0M222.4 35.1h0M223.8 35.7h0M225.5 35.9h0M162.2 56.4h0M163.8 56.4h0" stroke="#56B1F7" stroke-width="4.0" stroke-linecap="round" fill="none"/>
<path d="M107.7 32.0h0M108.9 32.0h0M114.3 50.3h0M115.9 50.9h0M117.9 50.5h0M119.2 50.6h0M120.7 50.9h0M168.7 46.1h0M131.5 41.8h0M133.5 41.6h0M135.2 42.3h0M136.7 42.0h0M121.0 33.8h0M121.9 34.3h0M123.6 34.8h0M125.2 34.2h0M127.2 34.6h0M129.0 34.6h0M129.6 49.4h0M130.8 50.0h0M132.1 50.3h0M133.7 51.0h0M97.1 40.7h0M99.4 40.3h0M100.8 40.2h0M102.8 40.7h0M103.7 40.0h0M105.2 40.6h0M112.4 39.2h0M113.6 38.8h0M115.9 39.7h0M117.6 39.3h0M118.7 39.4h0M120.5 39.1h0M122.1 38.6h0M123.8 38.4h0M100.2 43.6h0M102.2 43.9h0M103.6 44.3h0M105.4 43.6h0M144.3 54.7h0M146.2 54.5h0M147.7 55.1h0M149.3 55.5h0M150.5 55.5h0M190.6 50.0h0M230.7 92.1h0" stroke="#132B43" stroke-width="4.0" stroke-linecap="round" fill="none"/>
<path d="M170.4 46.3h0M138.5 42.8h0M130.6 35.1h0M107.4 40.6h0M190.0 30.2h0M125.2 38.2h0M124.3 56.0h0M107.3 43.5h0M198.6 49.4h0M134.3 55.1h0M175.5 78.8h0M211.1 114.9h0" stroke="#152F48" stroke-width="4.0" stroke-linecap="round" fill="none"/>
<path d="M110.5 32.2h0M122.5 50.7h0M132.2 35.3h0M135.2 50.8h0M108.9 41.0h0M192.2 30.3h0M126.0 38.1h0M127.9 38.2h0M129.9 54.8h0M152.3 55.4h0M200.3 49.8h0M136.5 56.0h0M137.5 55.5h0" stroke="#17334D" stroke-width="4.0" stroke-linecap="round" fill="none"/>
<path d="M111.6 32.2h0M134.3 64.8h0M171.9 46.9h0M139.8 42.9h0M136.4 51.8h0M193.2 30.5h0M184.5 49.8h0M129.1 37.3h0M125.6 56.2h0M130.8 54.1h0M109.6 42.6h0M154.5 55.9h0M107.3 55.4h0M201.2 49.8h0M139.6 56.0h0M177.6 81.3h0M210.3 118.6h0M177.4 116.6h0" stroke="#193652" stroke-width="4.0" stroke-linecap="round" fill="none"/>
<path d="M135.6 64.9h0M124.1 50.6h0M173.2 47.5h0M105.5 63.8h0M151.2 43.9h0M133.0 34.8h0M138.7 51.5h0M110.7 40.9h0M194.7 31.2h0M185.5 49.7h0M240.2 47.5h0M130.9 37.2h0M127.2 55.2h0M132.6 54.5h0M160.1 39.2h0M155.9 57.1h0M109.0 55.2h0M203.3 49.5h0M141.3 55.5h0M213.4 112.3h0" stroke="#1B3A58" stroke-width="4.0" stroke-linecap="round" fill="none"/>
<path d="M114.1 31.4h0M125.7 51.0h0M106.8 64.1h0M108.7 64.2h0M141.7 43.7h0M152.4 45.0h0M154.5 44.8h0M135.3 35.6h0M206.7 46.9h0M196.2 31.2h0M188.0 50.3h0M133.2 37.8h0M129.1 55.4h0M134.3 54.1h0M162.0 39.4h0M199.0 31.8h0M110.7 42.6h0M157.3 56.7h0M111.0 55.2h0M204.1 49.6h0M142.0 56.3h0M192.8 54.1h0M179.9 83.3h0M211.6 121.5h0" stroke="#1D3E5D" stroke-width="4.0" stroke-linecap="round" fill="none"/>
<path d="M115.6 31.9h0M137.7 63.7h0M175.4 48.2h0M148.5 40.2h0M110.3 63.5h0M143.6 44.2h0M155.9 44.8h0M140.2 52.2h0M112.1 41.5h0M188.7 50.9h0M241.1 48.1h0M115.3 55.2h0M134.3 37.2h0M131.0 55.2h0M135.5 54.3h0M163.6 39.4h0M200.5 32.1h0M190.2 44.7h0M112.2 55.2h0M144.2 56.5h0M206.2 141.2h0" stroke="#1F4262" stroke-width="4.0" stroke-linecap="round" fill="none"/>
<path d="M127.4 51.0h0M176.2 49.3h0M111.8 63.8h0M158.0 44.1h0M136.2 35.6h0M141.6 52.9h0M114.3 42.2h0M208.4 47.3h0M139.6 34.9h0M198.5 30.6h0M116.4 54.6h0M135.7 36.4h0M137.3 54.0h0M165.5 40.3h0M202.0 31.5h0M112.5 42.2h0M159.4 56.8h0M114.0 55.1h0M206.5 48.8h0M145.1 56.3h0M204.9 112.3h0M220.5 97.2h0M210.5 124.5h0M216.9 113.6h0" stroke="#214668" stroke-width="4.0" stroke-linecap="round" fill="none"/>
<path d="M117.0 31.2h0M139.5 63.1h0M150.1 39.5h0M113.7 63.6h0M145.4 44.7h0M159.1 44.6h0M138.0 35.1h0M142.7 53.6h0M209.8 47.1h0M141.2 34.0h0M200.0 31.6h0M242.8 47.5h0M118.3 54.5h0M137.3 35.9h0M132.1 54.7h0M138.8 54.0h0M166.5 40.1h0M203.9 31.9h0M160.5 56.0h0M192.3 45.0h0M115.0 54.7h0M207.8 49.2h0M206.3 43.8h0M147.6 56.3h0M148.9 56.5h0M206.8 44.4h0M181.5 85.7h0M209.9 99.9h0" stroke="#234A6D" stroke-width="4.0" stroke-linecap="round" fill="none"/>
<path d="M89.0 55.0h0M129.4 51.7h0M178.4 49.6h0M151.4 39.1h0M115.3 64.1h0M166.8 30.1h0M160.4 44.0h0M115.6 43.8h0M142.8 34.1h0M201.2 31.2h0M119.8 54.7h0M138.6 35.4h0M133.9 54.4h0M140.4 53.5h0M168.3 41.0h0M170.4 41.2h0M205.7 32.2h0M114.5 41.9h0M162.5 55.1h0M116.8 55.0h0M118.1 55.3h0M208.7 48.8h0M207.8 44.3h0M150.4 56.8h0M208.6 44.5h0M207.8 143.7h0M178.4 122.2h0M209.6 128.7h0M218.7 115.2h0" stroke="#254F73" stroke-width="4.0" stroke-linecap="round" fill="none"/>
<path d="M160.8 43.7h0M90.9 55.4h0M92.5 54.7h0M140.4 62.4h0M116.7 63.9h0M147.2 45.2h0M161.9 43.9h0M139.7 35.0h0M144.5 54.4h0M212.0 47.4h0M143.8 34.1h0M203.4 31.5h0M244.7 47.9h0M121.9 54.5h0M140.6 35.0h0M141.8 35.3h0M135.3 54.6h0M141.6 52.9h0M171.4 42.5h0M206.5 32.2h0M116.3 42.7h0M163.8 55.5h0M193.9 44.6h0M120.4 55.0h0M211.2 48.8h0M152.0 56.8h0M210.4 44.0h0M195.3 57.1h0M183.8 87.5h0" stroke="#275378" stroke-width="4.0" stroke-linecap="round" fill="none"/>
<path d="M112.9 36.9h0M93.8 54.3h0M142.0 61.0h0M131.5 52.7h0M179.8 50.8h0M153.4 38.8h0M118.2 63.5h0M163.8 43.8h0M141.6 34.5h0M146.5 54.8h0M117.3 44.0h0M212.9 47.8h0M145.7 34.7h0M204.3 31.3h0M123.4 54.4h0M143.9 34.9h0M137.2 53.6h0M166.4 29.9h0M143.1 53.0h0M172.7 43.6h0M207.9 33.0h0M165.2 54.8h0M195.4 44.8h0M121.7 55.9h0M212.0 49.3h0M209.8 43.7h0M153.5 57.0h0M211.8 44.0h0M207.6 114.6h0M223.6 99.4h0M180.5 124.0h0M210.6 102.9h0" stroke="#29577E" stroke-width="4.0" stroke-linecap="round" fill="none"/>
<path d="M162.7 43.8h0M95.4 55.4h0M133.1 53.1h0M181.1 50.6h0M154.6 38.4h0M119.4 63.6h0M89.1 54.9h0M149.0 45.0h0M166.0 43.8h0M147.3 54.4h0M118.8 44.6h0M147.8 33.9h0M170.5 39.3h0M205.6 32.4h0M246.3 48.7h0M124.6 54.7h0M144.7 34.1h0M168.3 30.0h0M145.2 52.9h0M175.2 43.6h0M179.8 38.8h0M210.0 33.5h0M117.6 41.9h0M123.4 56.2h0M214.2 49.4h0M210.7 44.3h0M155.2 57.8h0M213.9 43.7h0M209.1 131.7h0M221.7 117.8h0" stroke="#2B5B84" stroke-width="4.0" stroke-linecap="round" fill="none"/>
<path d="M114.7 36.5h0M164.0 43.7h0M96.8 55.1h0M143.5 59.6h0M120.8 63.4h0M150.5 45.8h0M167.2 43.0h0M168.5 42.9h0M143.2 33.6h0M215.4 48.1h0M148.7 33.8h0M173.0 38.6h0M207.7 31.9h0M126.3 54.3h0M146.1 34.6h0M139.0 53.6h0M169.7 30.1h0M146.8 52.4h0M176.7 43.5h0M181.8 39.5h0M211.2 34.8h0M166.8 55.4h0M197.0 44.4h0M125.0 56.4h0M216.0 49.3h0M213.2 44.3h0M156.6 57.5h0M158.4 57.3h0M214.7 43.9h0" stroke="#2D5F89" stroke-width="4.0" stroke-linecap="round" fill="none"/>
<path d="M115.9 36.1h0M166.0 44.1h0M98.6 55.3h0M100.5 55.3h0M133.9 53.3h0M182.1 52.0h0M156.6 38.2h0M122.6 62.5h0M91.3 56.6h0M169.8 42.9h0M144.9 33.2h0M148.9 54.1h0M120.9 44.7h0M216.7 48.8h0M174.2 39.1h0M209.6 32.4h0M248.7 48.5h0M127.7 54.1h0M148.4 33.4h0M140.7 53.6h0M171.4 30.6h0M148.2 51.9h0M177.5 44.1h0M182.9 39.0h0M212.8 34.7h0M120.0 42.5h0M168.9 54.8h0M126.1 57.2h0M217.2 49.3h0M160.0 57.6h0M216.3 43.8h0M226.7 100.9h0M183.6 125.0h0M209.1 134.5h0M211.2 106.3h0M223.9 118.3h0" stroke="#30648F" stroke-width="4.0" stroke-linecap="round" fill="none"/>
<path d="M117.6 36.3h0M167.0 43.4h0M102.3 54.8h0M145.6 58.6h0M184.2 52.4h0M157.9 38.2h0M124.3 62.7h0M92.9 57.4h0M171.7 29.8h0M152.2 45.7h0M171.5 42.7h0M151.3 53.6h0M122.6 44.9h0M150.4 34.2h0M175.5 38.4h0M129.8 54.2h0M149.4 33.8h0M141.8 53.1h0M172.5 31.1h0M174.7 31.5h0M149.4 51.2h0M179.2 44.6h0M185.0 39.4h0M214.1 35.1h0M170.3 54.7h0M199.1 44.2h0M127.7 57.8h0M214.2 44.1h0M161.6 57.7h0M218.1 43.1h0M210.9 114.5h0M207.3 101.3h0" stroke="#326895" stroke-width="4.0" stroke-linecap="round" fill="none"/>
<path d="M169.0 44.1h0M103.8 54.9h0M136.1 53.4h0M125.4 62.2h0M173.9 42.6h0M145.9 33.1h0M152.7 53.7h0M218.5 49.2h0M152.6 34.4h0M177.8 38.8h0M210.7 32.8h0M250.2 49.3h0M131.6 54.0h0M151.4 32.5h0M215.4 39.9h0M143.8 53.2h0M176.2 32.2h0M151.6 51.4h0M181.0 44.7h0M185.8 39.9h0M215.6 35.3h0M121.4 42.2h0M223.8 45.3h0M129.3 58.0h0M245.1 46.0h0M215.6 44.6h0M202.6 48.9h0" stroke="#346C9B" stroke-width="4.0" stroke-linecap="round" fill="none"/>
<path d="M118.8 35.6h0M170.5 44.0h0M104.8 54.5h0M147.1 57.9h0M159.4 37.9h0M127.6 62.8h0M128.4 62.2h0M94.3 57.2h0M173.5 30.1h0M153.6 46.1h0M174.8 42.1h0M147.4 31.9h0M153.9 52.8h0M219.8 49.4h0M153.5 34.5h0M212.7 32.5h0M132.8 53.5h0M153.1 32.7h0M216.6 39.6h0M177.4 32.0h0M153.3 51.3h0M154.2 52.1h0M182.5 46.0h0M187.5 39.7h0M217.6 36.6h0M225.5 45.4h0M200.6 44.1h0M130.4 59.3h0M217.9 45.0h0M220.3 43.3h0M185.0 127.3h0M210.8 104.1h0M211.8 108.4h0" stroke="#3671A1" stroke-width="4.0" stroke-linecap="round" fill="none"/>
<path d="M120.4 35.9h0M172.1 44.7h0M106.6 54.5h0M108.0 54.5h0M148.5 56.5h0M138.0 53.1h0M161.1 37.4h0M176.5 42.2h0M221.7 49.5h0M156.1 34.9h0M179.3 39.0h0M214.0 33.3h0M134.7 53.7h0M154.0 31.5h0M155.4 31.3h0M218.4 38.4h0M144.5 53.3h0M178.9 31.9h0M156.5 52.1h0M184.7 45.6h0M188.8 40.4h0M219.0 37.0h0M122.6 42.7h0M227.1 45.5h0M132.0 59.4h0M246.7 45.8h0M219.6 44.9h0M221.2 43.6h0M229.2 102.8h0M205.8 51.0h0" stroke="#3875A7" stroke-width="4.0" stroke-linecap="round" fill="none"/>
<path d="M121.8 35.7h0M173.8 44.8h0M110.2 54.0h0M174.8 30.6h0M155.7 46.0h0M178.9 42.4h0M155.5 52.6h0M156.8 34.6h0M180.9 39.4h0M215.8 32.8h0M135.7 53.1h0M220.1 37.9h0M221.6 37.5h0M146.2 53.6h0M181.2 32.9h0M157.2 51.6h0M185.7 45.5h0M191.1 40.4h0M192.3 40.3h0M220.9 37.1h0M228.5 45.9h0M202.2 44.1h0M133.9 60.2h0M222.8 43.7h0M214.3 115.8h0M187.3 129.4h0M213.5 105.2h0M173.1 99.6h0" stroke="#3A7AAD" stroke-width="4.0" stroke-linecap="round" fill="none"/>
<path d="M174.9 45.5h0M111.9 54.2h0M162.9 37.8h0M176.4 30.8h0M180.1 42.3h0M181.5 42.7h0M157.1 52.5h0M223.1 49.6h0M158.7 34.5h0M182.5 38.8h0M217.2 33.1h0M137.6 53.6h0M222.8 37.2h0M147.9 54.1h0M182.6 33.0h0M159.7 51.6h0M187.6 45.4h0M189.1 46.0h0M194.3 41.2h0M222.0 37.6h0M230.0 46.8h0M135.3 61.6h0M137.0 62.0h0M248.4 45.9h0M221.0 45.1h0M224.5 44.1h0M206.9 54.6h0M174.2 102.4h0" stroke="#3D7EB3" stroke-width="4.0" stroke-linecap="round" fill="none"/>
<path d="M176.3 46.0h0M112.6 54.3h0M164.9 37.1h0M182.9 42.0h0M159.2 51.6h0M225.4 48.6h0M160.6 35.3h0M183.7 38.1h0M218.6 34.0h0M138.8 53.2h0M225.2 36.5h0M149.5 54.9h0M183.7 32.8h0M185.1 33.6h0M161.1 51.6h0M190.4 45.4h0M195.1 41.1h0M223.2 37.6h0M231.2 47.1h0M203.6 44.0h0M138.6 62.4h0M226.9 49.6h0M223.1 45.0h0M226.4 43.7h0M214.9 106.6h0" stroke="#3F83B9" stroke-width="4.0" stroke-linecap="round" fill="none"/>
<path d="M177.9 45.8h0M131.5 30.5h0M114.5 54.6h0M116.5 54.2h0M166.3 36.3h0M179.0 30.9h0M185.3 42.5h0M162.4 35.0h0M185.7 37.8h0M220.1 33.5h0M141.1 53.0h0M226.7 35.9h0M187.0 34.2h0M162.5 51.6h0M192.2 45.9h0M196.8 41.5h0M225.5 38.3h0M233.1 47.5h0M139.4 63.3h0M249.9 46.4h0M227.7 49.9h0M223.9 44.6h0M227.4 43.6h0M189.3 130.7h0M176.2 104.0h0" stroke="#4187BF" stroke-width="4.0" stroke-linecap="round" fill="none"/>
<path d="M179.8 45.8h0M118.2 54.2h0M186.5 41.3h0M226.6 49.1h0M163.7 36.1h0M187.2 37.9h0M222.2 33.3h0M142.1 53.8h0M227.6 35.5h0M151.2 54.1h0M188.6 34.5h0M163.7 51.4h0M193.8 46.8h0M198.9 42.8h0M226.3 39.0h0M234.0 49.0h0M205.7 44.4h0M229.3 49.0h0M229.7 43.4h0M218.6 108.8h0M175.6 107.5h0" stroke="#438CC5" stroke-width="4.0" stroke-linecap="round" fill="none"/>
<path d="M119.7 54.8h0M167.9 35.9h0M180.4 31.6h0M188.0 40.8h0M228.4 49.0h0M165.3 36.3h0M188.7 38.1h0M144.1 53.7h0M229.5 34.3h0M153.2 54.4h0M190.5 34.7h0M165.2 51.0h0M194.9 46.5h0M199.8 42.5h0M228.1 39.7h0M235.6 49.1h0M226.1 44.2h0M231.5 42.7h0" stroke="#4690CB" stroke-width="4.0" stroke-linecap="round" fill="none"/>
<path d="M181.1 46.7h0M168.9 35.1h0M189.7 40.4h0M166.9 36.2h0M189.6 37.4h0M145.4 53.7h0M154.2 54.9h0M166.7 50.2h0M196.9 47.0h0M202.0 43.5h0M230.1 39.8h0M231.4 40.0h0M237.9 48.9h0M238.7 50.0h0M207.4 44.3h0M231.0 48.8h0M227.7 44.6h0M220.9 109.0h0M175.8 109.7h0" stroke="#4895D1" stroke-width="4.0" stroke-linecap="round" fill="none"/>
<path d="M183.4 46.6h0M181.8 32.0h0M190.7 39.5h0M229.9 49.9h0M169.0 36.3h0M146.6 53.0h0M156.4 55.1h0M168.7 49.9h0M198.1 47.5h0M203.0 43.3h0M204.9 43.5h0M232.4 40.6h0M240.6 49.8h0M232.4 48.7h0M229.1 44.7h0M232.8 42.7h0M176.5 112.8h0" stroke="#4A99D7" stroke-width="4.0" stroke-linecap="round" fill="none"/>
<path d="M184.3 46.6h0M171.3 34.7h0M192.2 39.4h0M231.4 49.6h0M170.3 37.2h0M191.3 37.7h0M148.5 52.5h0M170.1 50.1h0M199.8 47.6h0M206.6 43.0h0M233.9 40.7h0M242.7 49.8h0M208.7 44.3h0M234.6 42.3h0M222.6 112.1h0" stroke="#4D9EDE" stroke-width="4.0" stroke-linecap="round" fill="none"/>
<path d="M186.6 46.6h0M172.3 34.7h0M193.5 38.5h0M195.6 37.1h0M171.9 37.0h0M193.2 37.4h0M150.0 52.8h0M201.1 47.2h0M207.8 43.4h0M235.4 40.9h0M230.6 43.8h0M235.9 42.3h0M177.8 114.9h0" stroke="#4FA3E4" stroke-width="4.0" stroke-linecap="round" fill="none"/>
<path d="M188.0 46.0h0M233.4 49.8h0M173.0 37.6h0M195.0 37.1h0M151.5 53.0h0M203.6 47.2h0M209.5 43.4h0M237.3 41.2h0M210.1 44.2h0M232.7 43.3h0M237.8 42.2h0M178.0 119.0h0" stroke="#51A8EA" stroke-width="4.0" stroke-linecap="round" fill="none"/>
<path d="M189.5 45.6h0M174.3 35.8h0M234.9 49.1h0M174.7 38.3h0M196.1 37.4h0M153.0 53.1h0M211.5 43.4h0M239.3 41.6h0M234.0 43.1h0M238.6 42.0h0" stroke="#54ACF1" stroke-width="4.0" stroke-linecap="round" fill="none"/>
<path d="M191.0 45.3h0M192.2 45.4h0M193.8 45.0h0M195.4 44.9h0M197.5 45.8h0M175.5 35.4h0M176.4 39.5h0M177.7 40.0h0M197.5 37.3h0M199.1 37.7h0M201.5 37.4h0M202.1 36.8h0M203.8 36.6h0M205.6 36.3h0M212.5 43.0h0M214.4 43.6h0M216.3 43.3h0M217.3 43.4h0M219.3 44.4h0M220.8 44.2h0M222.2 44.6h0M223.6 44.4h0M211.6 44.4h0M235.8 43.4h0M237.3 43.0h0M240.3 42.0h0M241.9 41.9h0M178.2 121.6h0M178.9 124.3h0" stroke="#56B1F7" stroke-width="4.0" stroke-linecap="round" fill="none"/>
<path d="M167.6 64.3h0M168.1 67.1h0M171.5 71.9h0M194.0 106.7h0M204.9 133.9h0M197.0 135.7h0M199.7 86.9h0M196.1 90.1h0M210.1 86.6h0M189.8 106.1h0M169.5 85.3h0M168.5 89.3h0M208.2 93.7h0M203.7 58.8h0M207.2 128.6h0M207.0 131.2h0M175.7 63.6h0M178.6 65.9h0M225.5 133.5h0M223.9 51.5h0M162.9 77.0h0M162.5 79.9h0M163.7 83.3h0M163.3 86.3h0M182.8 104.8h0M185.5 106.6h0M187.1 108.6h0" stroke="#132B43" stroke-width="4.0" stroke-linecap="round" fill="none"/>
<path d="M174.6 72.3h0M181.3 121.4h0M179.4 82.8h0M196.3 107.1h0M206.8 136.7h0M199.4 135.7h0M223.1 73.2h0M206.0 52.9h0M192.6 109.2h0M243.8 47.9h0M177.7 59.0h0M230.4 76.7h0M163.5 88.8h0M170.6 137.0h0" stroke="#152F48" stroke-width="4.0" stroke-linecap="round" fill="none"/>
<path d="M169.6 68.8h0M177.0 74.2h0M180.5 124.4h0M207.0 117.0h0M203.1 135.8h0M199.2 117.8h0M160.3 65.3h0M193.1 61.7h0M209.0 97.3h0M206.4 60.9h0M243.5 49.9h0M207.5 135.3h0M221.2 55.1h0M180.2 68.4h0M231.7 79.9h0M227.7 135.5h0M179.6 86.5h0M225.4 54.7h0M162.8 91.2h0M224.0 53.3h0M188.6 111.3h0" stroke="#17334D" stroke-width="4.0" stroke-linecap="round" fill="none"/>
<path d="M170.4 72.2h0M189.9 108.2h0M181.9 85.4h0M165.9 125.2h0M200.4 108.8h0M209.9 138.0h0M225.1 76.2h0M208.0 55.0h0M169.2 63.3h0M224.9 99.8h0M209.9 90.0h0M168.6 92.4h0M195.7 62.5h0M214.4 52.7h0M223.3 56.9h0M183.0 86.0h0M174.3 136.0h0M191.1 112.9h0" stroke="#193652" stroke-width="4.0" stroke-linecap="round" fill="none"/>
<path d="M172.9 73.7h0M193.0 110.1h0M179.9 75.0h0M179.7 126.4h0M183.5 87.3h0M208.1 118.9h0M173.1 113.8h0M169.3 127.2h0M204.7 136.6h0M193.9 91.8h0M223.8 102.7h0M202.2 119.3h0M162.4 67.0h0M190.5 122.3h0M195.0 114.2h0M211.9 98.5h0M214.6 63.3h0M214.8 56.5h0M245.4 53.5h0M208.0 138.2h0M181.3 60.5h0M190.6 50.8h0M197.6 130.3h0M182.3 71.5h0M233.0 83.5h0M163.5 95.2h0M178.1 135.6h0M224.3 55.5h0M185.6 81.4h0" stroke="#1B3A58" stroke-width="4.0" stroke-linecap="round" fill="none"/>
<path d="M179.4 116.8h0M173.0 77.0h0M195.0 111.7h0M182.5 76.3h0M165.9 104.5h0M173.8 116.1h0M170.8 129.0h0M174.3 129.0h0M202.8 109.5h0M212.1 140.1h0M227.7 77.1h0M210.4 56.9h0M169.6 65.1h0M163.4 69.3h0M193.0 122.1h0M241.2 48.1h0M198.7 61.2h0M243.8 52.3h0M216.6 58.3h0M207.2 64.5h0M246.1 56.5h0M226.0 81.8h0M222.7 60.3h0M176.2 68.0h0M184.4 84.5h0M163.3 97.6h0M210.4 94.5h0M199.7 85.3h0M197.6 115.6h0M191.8 115.1h0" stroke="#1D3E5D" stroke-width="4.0" stroke-linecap="round" fill="none"/>
<path d="M198.2 111.7h0M185.5 76.7h0M178.3 130.1h0M184.6 89.9h0M208.4 122.8h0M174.2 118.9h0M176.0 131.4h0M166.0 83.3h0M208.4 135.7h0M221.4 105.9h0M208.8 92.2h0M218.2 82.1h0M170.2 95.7h0M201.0 61.7h0M213.8 100.8h0M214.9 66.1h0M217.5 61.6h0M245.9 59.2h0M209.2 141.5h0M192.6 89.1h0M223.0 62.5h0M193.4 53.4h0M184.6 73.5h0M227.3 61.9h0M233.8 86.1h0M186.8 82.5h0M179.8 135.9h0M225.0 58.7h0M196.2 92.4h0M163.3 58.4h0M242.0 51.4h0M244.3 53.6h0M171.8 82.3h0M194.5 117.4h0M187.7 81.9h0M192.8 145.0h0" stroke="#1F4262" stroke-width="4.0" stroke-linecap="round" fill="none"/>
<path d="M182.7 118.0h0M163.6 89.7h0M174.5 78.1h0M200.1 113.9h0M176.9 133.2h0M168.8 105.3h0M227.7 72.3h0M187.4 92.2h0M175.8 121.7h0M179.0 132.6h0M206.6 109.8h0M228.6 79.4h0M212.3 59.8h0M171.2 67.8h0M204.5 119.5h0M219.9 107.9h0M205.2 119.8h0M166.6 71.0h0M194.8 122.2h0M203.6 60.5h0M231.1 73.6h0M246.1 53.6h0M218.8 63.9h0M209.7 65.8h0M155.6 69.4h0M227.2 83.6h0M222.9 64.8h0M225.8 108.6h0M186.2 60.8h0M224.7 62.7h0M234.8 88.6h0M227.5 57.6h0M182.9 133.9h0M207.3 83.6h0M214.2 96.4h0M246.6 55.2h0M191.2 81.7h0" stroke="#214668" stroke-width="4.0" stroke-linecap="round" fill="none"/>
<path d="M203.5 139.8h0M177.0 80.4h0M205.3 49.4h0M203.5 114.3h0M187.6 78.4h0M209.6 125.9h0M176.8 125.1h0M181.3 132.4h0M166.4 85.5h0M215.2 141.3h0M210.3 135.6h0M207.8 96.1h0M169.6 73.6h0M215.9 84.9h0M199.1 122.7h0M238.0 80.0h0M216.1 102.6h0M215.7 69.9h0M219.2 65.8h0M209.4 144.5h0M226.5 48.2h0M223.5 68.2h0M173.1 139.9h0M221.1 62.5h0M189.1 80.3h0M185.4 134.3h0M226.9 61.4h0M200.7 96.5h0M209.7 85.1h0M196.1 94.2h0M202.9 86.0h0M200.4 116.5h0M174.5 82.0h0M195.7 120.4h0" stroke="#234A6D" stroke-width="4.0" stroke-linecap="round" fill="none"/>
<path d="M185.6 116.8h0M177.0 83.3h0M205.0 116.8h0M190.9 79.4h0M177.1 136.0h0M188.5 95.1h0M177.1 126.0h0M184.3 133.8h0M213.3 135.6h0M230.9 82.7h0M216.4 61.2h0M172.9 69.7h0M204.7 122.7h0M217.6 111.0h0M209.1 120.7h0M171.3 76.5h0M169.4 99.0h0M243.3 48.9h0M206.0 61.3h0M222.4 133.8h0M232.8 76.8h0M220.7 68.3h0M211.6 68.6h0M228.5 87.3h0M226.2 49.9h0M223.1 71.0h0M191.0 76.3h0M176.5 71.2h0M175.7 140.7h0M200.3 133.4h0M219.9 64.2h0M190.6 79.3h0M188.7 134.2h0M223.0 74.6h0M212.2 85.9h0M193.1 82.4h0M208.1 108.8h0" stroke="#254F73" stroke-width="4.0" stroke-linecap="round" fill="none"/>
<path d="M164.4 91.9h0M204.2 51.6h0M208.4 116.8h0M192.9 79.9h0M172.1 107.7h0M230.4 73.7h0M173.1 117.2h0M210.1 127.5h0M197.3 125.1h0M178.3 129.2h0M186.4 134.4h0M166.3 89.6h0M209.3 111.4h0M205.4 125.5h0M217.5 113.4h0M195.4 145.8h0M201.6 122.0h0M209.2 60.3h0M223.7 136.5h0M217.4 104.8h0M162.5 69.9h0M216.2 72.4h0M221.4 70.5h0M183.0 108.3h0M226.2 52.6h0M194.2 93.3h0M223.6 73.1h0M190.2 78.8h0M189.9 61.0h0M178.0 141.2h0M196.9 106.1h0M200.8 102.8h0M216.4 99.0h0M197.6 96.4h0M203.4 115.6h0M177.7 82.1h0M196.6 121.9h0M196.5 82.7h0M195.5 143.2h0" stroke="#275378" stroke-width="4.0" stroke-linecap="round" fill="none"/>
<path d="M189.2 118.1h0M204.5 143.5h0M211.3 117.8h0M180.7 131.7h0M233.0 83.3h0M222.2 48.7h0M172.7 72.2h0M204.8 128.2h0M196.5 145.1h0M211.5 121.7h0M173.5 77.5h0M213.2 87.1h0M223.9 139.4h0M187.4 117.3h0M217.1 74.2h0M234.3 78.6h0M217.0 76.2h0M223.5 73.3h0M156.9 71.8h0M230.4 88.7h0M189.8 80.4h0M181.4 142.8h0M216.5 64.0h0M193.9 78.6h0M228.2 61.3h0M191.1 135.2h0M227.1 64.8h0M197.2 98.1h0M214.0 134.5h0M216.0 86.9h0M207.0 85.8h0M174.7 112.9h0M210.4 110.1h0" stroke="#29577E" stroke-width="4.0" stroke-linecap="round" fill="none"/>
<path d="M201.7 54.4h0M210.4 130.8h0M174.6 125.1h0M176.7 141.6h0M167.3 126.1h0M234.1 85.9h0M205.1 130.6h0M216.4 115.8h0M198.7 142.8h0M203.4 121.1h0M247.8 49.7h0M211.8 60.3h0M218.7 107.6h0M164.9 71.2h0M213.9 70.1h0M177.2 130.5h0M191.8 72.3h0M226.2 55.9h0M225.2 76.5h0M189.6 83.1h0M175.9 74.4h0M223.7 129.8h0M198.2 108.5h0M214.7 65.9h0M195.3 76.7h0M194.0 134.9h0M225.1 77.1h0M219.1 86.6h0M218.3 100.6h0M205.7 115.5h0M158.5 69.5h0M178.2 112.8h0M179.9 81.1h0M167.0 74.3h0M198.7 84.2h0" stroke="#2B5B84" stroke-width="4.0" stroke-linecap="round" fill="none"/>
<path d="M191.7 116.9h0M166.8 93.9h0M172.3 66.4h0M175.0 108.7h0M233.2 74.3h0M161.2 92.9h0M199.9 123.7h0M176.1 126.5h0M167.2 91.7h0M205.2 133.1h0M201.1 143.0h0M214.3 121.7h0M211.9 90.8h0M206.2 122.4h0M161.7 98.6h0M215.7 59.2h0M219.0 76.6h0M236.1 81.3h0M189.5 109.4h0M231.6 91.4h0M226.6 58.7h0M194.3 96.6h0M226.3 112.8h0M184.3 143.2h0M204.0 136.4h0M201.2 111.2h0M211.3 65.2h0M198.5 74.2h0M203.8 105.3h0M195.9 135.3h0M228.4 66.6h0M195.0 99.8h0M217.1 134.7h0M221.6 87.1h0M226.3 91.0h0M199.1 98.9h0M202.0 84.9h0" stroke="#2D5F89" stroke-width="4.0" stroke-linecap="round" fill="none"/>
<path d="M195.0 116.8h0M156.1 70.6h0M188.9 128.2h0M200.4 55.8h0M174.5 68.3h0M164.6 94.7h0M211.0 134.4h0M178.6 129.7h0M180.4 142.9h0M174.8 74.7h0M206.9 136.2h0M203.9 141.3h0M234.3 53.7h0M221.3 109.0h0M184.6 113.1h0M220.5 123.0h0M175.8 132.9h0M186.9 135.8h0M209.5 129.2h0M225.1 61.5h0M189.4 86.2h0M225.4 132.9h0M187.2 142.4h0M208.5 66.4h0M196.7 116.0h0M226.7 80.4h0M248.0 49.7h0M222.2 102.6h0M210.0 85.8h0M208.6 115.7h0M181.3 111.5h0M182.8 80.4h0M167.0 76.3h0M197.5 141.7h0" stroke="#30648F" stroke-width="4.0" stroke-linecap="round" fill="none"/>
<path d="M190.3 123.0h0M166.9 55.9h0M159.1 69.6h0M157.0 72.1h0M176.7 70.7h0M177.5 109.3h0M169.0 93.4h0M182.1 145.1h0M206.3 140.3h0M209.4 122.5h0M164.4 99.6h0M187.4 121.5h0M182.7 62.8h0M181.9 145.9h0M220.3 78.7h0M168.4 71.6h0M191.1 111.4h0M223.4 123.8h0M173.8 133.9h0M231.8 94.4h0M189.2 89.1h0M188.4 143.4h0M202.9 112.7h0M207.2 66.0h0M197.7 119.0h0M206.3 106.9h0M228.4 68.9h0M209.6 65.1h0M200.7 101.9h0M160.2 70.8h0M215.0 132.1h0M184.6 111.8h0M203.7 86.5h0" stroke="#326895" stroke-width="4.0" stroke-linecap="round" fill="none"/>
<path d="M170.2 96.4h0M164.3 57.8h0M181.5 51.3h0M161.1 68.8h0M191.3 130.8h0M198.7 59.3h0M178.7 72.2h0M166.6 94.8h0M175.7 121.9h0M203.9 122.6h0M180.0 130.5h0M206.7 138.7h0M209.2 139.2h0M210.0 92.8h0M221.3 80.7h0M196.6 96.3h0M225.8 118.4h0M190.4 137.1h0M191.3 74.9h0M194.7 99.4h0M189.4 92.1h0M174.6 77.9h0M204.9 67.7h0M199.1 122.5h0M230.8 52.7h0M193.7 102.5h0M220.7 135.4h0M226.9 93.1h0M216.8 132.8h0M198.6 116.2h0M167.2 79.1h0M205.9 87.4h0" stroke="#346C9B" stroke-width="4.0" stroke-linecap="round" fill="none"/>
<path d="M163.0 60.5h0M159.9 74.5h0M182.0 73.0h0M184.2 74.7h0M236.6 75.7h0M169.6 95.3h0M181.6 133.7h0M172.8 101.4h0M169.0 96.4h0M185.0 146.7h0M160.0 90.0h0M206.8 141.2h0M210.8 138.5h0M234.8 55.7h0M168.4 100.6h0M185.2 62.9h0M239.8 62.7h0M170.2 73.4h0M192.6 113.9h0M186.7 117.2h0M227.4 124.2h0M168.4 125.6h0M171.0 136.8h0M188.5 94.0h0M226.8 136.2h0M205.4 114.1h0M199.8 124.0h0M232.0 55.0h0M207.5 108.5h0M214.2 66.2h0M229.8 83.3h0M203.5 104.5h0M211.5 115.7h0M162.6 73.1h0M187.7 111.7h0M186.8 79.0h0M199.1 118.8h0M222.1 48.2h0" stroke="#3671A1" stroke-width="4.0" stroke-linecap="round" fill="none"/>
<path d="M188.5 125.7h0M164.6 66.9h0M192.9 133.3h0M186.4 75.3h0M171.6 96.9h0M174.9 103.5h0M167.0 76.8h0M203.8 137.9h0M227.1 69.3h0M170.2 124.9h0M219.6 69.3h0M207.8 95.2h0M170.2 103.3h0M213.5 78.1h0M186.4 65.8h0M184.0 142.0h0M222.8 83.1h0M199.4 95.3h0M171.2 123.8h0M212.4 129.8h0M227.3 117.0h0M201.2 126.9h0M218.1 136.2h0M190.6 110.5h0M225.3 50.3h0" stroke="#3875A7" stroke-width="4.0" stroke-linecap="round" fill="none"/>
<path d="M172.2 98.2h0M167.6 66.3h0M172.2 71.9h0M187.6 78.0h0M247.5 49.6h0M207.4 121.9h0M183.9 136.1h0M213.7 80.8h0M188.3 125.2h0M243.2 62.7h0M173.5 74.8h0M192.5 116.4h0M229.3 124.7h0M193.3 137.4h0M241.7 67.8h0M186.0 102.8h0M208.8 116.1h0M220.7 48.2h0M159.3 58.9h0M203.9 129.3h0M234.7 55.8h0M191.3 104.7h0M224.7 136.4h0M189.0 114.0h0M214.4 116.3h0M219.3 136.8h0M200.1 122.1h0M165.9 83.1h0" stroke="#3A7AAD" stroke-width="4.0" stroke-linecap="round" fill="none"/>
<path d="M194.9 133.9h0M190.2 79.7h0M238.7 78.8h0M174.4 97.3h0M184.1 138.9h0M177.0 103.2h0M168.8 77.7h0M205.8 139.4h0M229.9 70.2h0M173.0 127.3h0M237.2 60.1h0M172.4 104.3h0M215.6 83.3h0M189.6 66.7h0M186.1 139.7h0M224.7 84.5h0M193.8 118.9h0M174.0 124.2h0M189.3 78.8h0M162.7 59.1h0M237.0 57.7h0M211.2 111.3h0M216.5 67.5h0M226.9 97.5h0M205.4 105.3h0M165.5 75.1h0M222.3 138.7h0M201.9 124.1h0M227.1 51.9h0" stroke="#3D7EB3" stroke-width="4.0" stroke-linecap="round" fill="none"/>
<path d="M187.2 128.6h0M168.8 65.3h0M175.5 71.2h0M176.3 99.1h0M186.0 140.3h0M180.9 104.8h0M170.1 80.2h0M217.7 84.7h0M245.4 61.7h0M226.7 87.8h0M176.1 76.3h0M154.7 60.8h0M204.0 95.1h0M176.7 123.2h0M195.8 139.4h0M215.8 131.3h0M222.6 49.9h0M163.9 60.4h0M204.3 130.6h0M239.8 59.6h0M189.3 105.4h0M189.9 116.5h0M202.6 126.8h0M230.3 53.5h0M165.7 86.1h0" stroke="#3F83B9" stroke-width="4.0" stroke-linecap="round" fill="none"/>
<path d="M179.3 71.6h0M197.7 136.8h0M178.7 100.3h0M208.5 142.1h0M238.2 62.9h0M175.4 106.9h0M218.6 87.2h0M191.0 69.4h0M195.4 121.3h0M178.7 123.0h0M188.0 104.7h0M219.6 69.5h0M202.5 129.4h0" stroke="#4187BF" stroke-width="4.0" stroke-linecap="round" fill="none"/>
<path d="M185.6 130.8h0M199.5 138.6h0M176.5 124.5h0M182.5 106.7h0M163.7 91.9h0M172.5 82.4h0M232.7 69.5h0M175.6 128.8h0M221.3 72.0h0M221.8 89.1h0M176.8 53.6h0M188.6 137.9h0M229.1 89.7h0M157.3 62.4h0M181.8 121.8h0M197.8 139.8h0M224.4 52.7h0M167.1 62.9h0M242.9 61.3h0M192.5 118.4h0M227.8 100.1h0M167.3 77.3h0M203.4 131.6h0M232.6 55.1h0M166.2 88.2h0" stroke="#438CC5" stroke-width="4.0" stroke-linecap="round" fill="none"/>
<path d="M182.2 71.4h0M181.4 101.8h0M185.5 108.1h0M175.1 84.3h0M211.5 143.4h0M177.5 55.6h0M194.1 69.9h0M206.9 95.1h0M196.4 124.1h0M184.5 121.0h0M218.7 131.9h0M188.5 82.0h0M191.2 105.9h0M169.0 64.4h0M244.7 62.8h0M194.5 120.9h0M203.7 134.1h0" stroke="#4690CB" stroke-width="4.0" stroke-linecap="round" fill="none"/>
<path d="M202.1 140.4h0M188.0 109.3h0M160.1 87.0h0M175.7 85.6h0M235.4 69.3h0M177.9 132.2h0M222.8 91.2h0M191.5 135.3h0M229.4 92.4h0M159.3 64.7h0M200.9 140.9h0M171.2 66.4h0M222.4 72.9h0M204.7 136.5h0" stroke="#4895D1" stroke-width="4.0" stroke-linecap="round" fill="none"/>
<path d="M185.1 71.9h0M225.2 92.1h0M178.6 59.5h0M209.9 95.4h0M186.9 119.9h0M196.3 123.0h0" stroke="#4A99D7" stroke-width="4.0" stroke-linecap="round" fill="none"/>
<path d="M199.3 50.8h0M191.6 109.9h0M161.7 88.1h0M178.6 87.5h0M239.5 69.6h0M179.6 133.7h0M222.8 75.3h0M160.7 67.8h0M194.4 107.4h0M173.3 68.5h0M205.4 139.0h0" stroke="#4D9EDE" stroke-width="4.0" stroke-linecap="round" fill="none"/>
<path d="M187.8 71.9h0M179.2 90.5h0M179.8 60.7h0M221.3 134.9h0M198.0 124.2h0" stroke="#4FA3E4" stroke-width="4.0" stroke-linecap="round" fill="none"/>
<path d="M241.2 68.8h0M212.4 95.6h0M195.8 109.9h0" stroke="#51A8EA" stroke-width="4.0" stroke-linecap="round" fill="none"/>
<path d="M189.7 73.3h0M180.7 92.3h0M181.2 63.5h0M199.8 127.7h0" stroke="#54ACF1" stroke-width="4.0" stroke-linecap="round" fill="none"/>
<path d="M193.3 72.7h0M183.1 92.6h0M225.6 78.8h0M197.9 111.9h0" stroke="#56B1F7" stroke-width="4.0" stroke-linecap="round" fill="none"/>
<path d="M163.8 101.1h0M200.2 77.8h0M202.1 79.2h0M176.8 105.4h0M178.9 104.8h0M209.1 142.2h0M204.7 84.5h0M204.8 107.7h0M207.8 110.2h0M235.6 64.3h0M185.3 120.7h0M188.0 122.7h0M228.8 119.2h0M185.9 145.5h0M156.2 61.5h0M166.6 109.9h0M168.7 129.1h0M170.7 129.9h0M173.2 132.5h0M223.7 114.4h0M240.3 54.4h0M170.5 138.7h0M173.8 140.6h0M242.4 51.9h0M243.7 55.1h0M210.2 123.0h0M213.3 121.0h0M157.7 70.3h0M189.3 62.7h0M190.6 65.1h0M200.9 56.7h0M201.4 58.6h0M201.3 61.2h0M197.6 89.7h0M221.9 80.8h0" stroke="#132B43" stroke-width="4.0" stroke-linecap="round" fill="none"/>
<path d="M204.6 79.8h0M211.2 141.2h0M216.9 67.7h0M207.7 83.2h0M238.4 63.8h0M190.7 123.7h0M170.7 110.7h0M224.3 116.3h0M162.6 63.5h0M245.3 56.2h0M247.1 58.5h0M157.5 73.2h0M202.5 64.3h0M197.7 91.6h0M222.1 82.2h0M212.5 80.9h0" stroke="#152F48" stroke-width="4.0" stroke-linecap="round" fill="none"/>
<path d="M167.7 102.5h0M206.7 79.4h0M181.1 103.4h0M241.3 65.5h0M194.1 125.4h0M158.8 65.3h0M175.2 133.3h0M192.3 103.6h0M164.9 66.9h0M175.0 142.7h0M220.9 56.9h0M217.0 120.1h0M201.4 66.5h0M153.2 61.1h0M200.2 93.7h0M215.4 80.6h0M185.0 90.4h0M211.5 62.6h0" stroke="#17334D" stroke-width="4.0" stroke-linecap="round" fill="none"/>
<path d="M169.3 102.7h0M210.2 77.8h0M183.6 101.4h0M213.8 139.1h0M180.6 52.2h0M218.8 70.4h0M196.6 127.5h0M212.5 98.8h0M160.0 79.4h0M214.6 99.9h0M225.5 120.2h0M242.3 58.5h0M219.7 119.2h0M158.5 76.5h0M192.0 68.0h0M154.5 64.0h0M162.2 69.6h0M186.4 129.3h0M202.5 95.8h0M224.6 85.6h0M193.6 132.7h0M184.7 92.6h0M208.6 65.1h0M208.7 66.8h0" stroke="#193652" stroke-width="4.0" stroke-linecap="round" fill="none"/>
<path d="M171.8 103.6h0M217.9 137.7h0M220.7 73.0h0M211.2 111.0h0M243.8 66.1h0M199.0 129.0h0M228.6 121.3h0M158.6 60.0h0M173.3 109.8h0M161.7 79.9h0M177.7 136.0h0M217.8 99.0h0M167.4 69.3h0M177.0 144.8h0M222.8 119.3h0M160.6 79.0h0M201.8 69.5h0M154.3 66.5h0M225.5 86.8h0M218.7 78.6h0M167.2 122.3h0M185.2 95.2h0M206.7 68.9h0" stroke="#1B3A58" stroke-width="4.0" stroke-linecap="round" fill="none"/>
<path d="M212.5 78.6h0M169.5 57.5h0M186.2 101.6h0M170.0 77.1h0M181.0 55.2h0M211.7 83.3h0M202.1 130.2h0M221.6 56.7h0M182.1 53.8h0M165.8 80.8h0M220.7 97.8h0M196.2 104.1h0M186.4 146.7h0M226.3 122.9h0M168.7 71.7h0M183.6 52.6h0M180.5 146.8h0M224.3 57.6h0M225.1 118.2h0M206.1 95.5h0M194.0 70.0h0M201.7 71.5h0M188.6 129.9h0M204.1 97.9h0M164.8 75.6h0M187.4 53.5h0M225.2 60.0h0M197.2 134.4h0M205.5 70.9h0" stroke="#1D3E5D" stroke-width="4.0" stroke-linecap="round" fill="none"/>
<path d="M174.0 105.7h0M234.6 72.4h0M215.5 77.4h0M189.2 99.4h0M175.0 145.4h0M219.4 136.6h0M181.6 58.0h0M221.7 75.2h0M203.8 131.9h0M215.9 98.0h0M220.9 59.7h0M160.6 68.7h0M161.4 60.2h0M168.4 79.7h0M243.5 51.2h0M226.8 125.4h0M171.1 73.1h0M227.9 116.2h0M160.4 80.9h0M201.8 96.5h0M203.0 75.0h0M163.5 73.3h0M240.1 49.8h0M206.0 100.4h0M228.5 89.4h0M221.6 78.1h0M199.2 134.4h0M184.7 99.4h0M204.3 73.4h0" stroke="#1F4262" stroke-width="4.0" stroke-linecap="round" fill="none"/>
<path d="M176.7 105.9h0M217.6 77.6h0M228.5 130.6h0M224.6 77.0h0M209.3 133.4h0M214.7 114.1h0M204.8 135.0h0M158.1 85.9h0M220.6 62.0h0M162.5 61.8h0M185.3 55.4h0M175.8 109.1h0M223.0 95.9h0M199.0 105.7h0M187.5 144.6h0M208.6 97.1h0M195.3 72.7h0M242.2 52.2h0M206.4 103.8h0M167.6 77.4h0M160.9 101.8h0M229.6 92.5h0M188.9 55.3h0M224.2 78.9h0M185.6 74.8h0M187.7 75.2h0M226.3 63.3h0M185.1 102.2h0M202.4 75.9h0" stroke="#214668" stroke-width="4.0" stroke-linecap="round" fill="none"/>
<path d="M237.3 73.5h0M170.1 60.8h0M192.2 99.2h0M223.1 135.6h0M228.1 134.2h0M171.7 79.1h0M181.4 61.6h0M225.7 78.4h0M220.7 65.5h0M228.1 124.4h0M225.9 95.1h0M227.7 127.6h0M172.7 75.5h0M243.5 60.5h0M171.2 119.7h0M204.3 126.6h0M161.9 84.6h0M205.0 98.7h0M165.4 74.7h0M190.9 132.4h0M208.6 106.0h0M163.2 101.2h0M165.8 100.9h0M228.5 54.0h0M191.6 75.8h0M201.7 134.9h0M185.3 104.6h0M201.5 77.9h0" stroke="#234A6D" stroke-width="4.0" stroke-linecap="round" fill="none"/>
<path d="M179.5 107.9h0M220.8 76.9h0M194.4 98.7h0M200.3 86.7h0M224.7 134.3h0M187.2 91.1h0M181.4 64.1h0M214.7 82.8h0M161.9 85.0h0M220.9 67.4h0M221.8 70.0h0M201.9 109.2h0M166.5 62.9h0M186.8 57.1h0M218.2 67.2h0M204.7 138.1h0M190.7 142.6h0M228.5 130.0h0M175.6 76.7h0M185.0 56.1h0M198.5 70.1h0M228.5 58.9h0M210.2 99.2h0M244.2 55.0h0M170.5 79.1h0M168.1 100.4h0M230.4 94.6h0M191.9 58.6h0M151.6 61.5h0M231.4 54.6h0M226.9 77.4h0M170.8 122.2h0M193.9 74.2h0M228.1 65.8h0M198.9 79.0h0" stroke="#254F73" stroke-width="4.0" stroke-linecap="round" fill="none"/>
<path d="M181.7 108.5h0M239.3 74.1h0M168.9 56.9h0M174.3 96.3h0M173.8 80.7h0M227.8 81.4h0M213.4 133.5h0M184.8 99.7h0M218.3 97.1h0M215.1 96.1h0M221.5 73.6h0M203.1 112.6h0M162.6 78.6h0M232.9 48.3h0M168.6 63.1h0M165.8 88.9h0M179.8 110.9h0M228.5 93.8h0M225.4 62.0h0M201.0 106.1h0M152.9 63.7h0M199.9 71.5h0M174.1 119.1h0M212.6 55.5h0M212.1 69.0h0M197.1 76.1h0M208.4 99.7h0M166.6 76.2h0M194.1 134.2h0M210.4 107.6h0M173.0 80.3h0M169.9 98.6h0M232.4 96.1h0M233.7 53.9h0M230.7 78.2h0M196.3 75.0h0M229.9 67.0h0M193.3 79.5h0M204.6 137.3h0M185.2 107.1h0M197.5 82.5h0" stroke="#275378" stroke-width="4.0" stroke-linecap="round" fill="none"/>
<path d="M184.5 109.9h0M171.1 58.6h0M196.7 99.7h0M199.2 89.1h0M181.4 67.2h0M229.0 83.4h0M216.3 98.3h0M222.1 76.0h0M227.8 127.5h0M234.2 51.7h0M167.0 90.7h0M191.1 57.3h0M219.1 69.2h0M230.3 93.6h0M191.5 139.7h0M201.0 74.9h0M216.0 55.1h0M202.8 121.4h0M211.9 102.4h0M245.9 57.1h0M177.1 106.3h0M173.8 99.7h0M193.6 59.3h0M200.6 74.6h0M202.8 74.4h0M195.7 80.5h0M208.1 137.7h0M185.6 110.2h0" stroke="#29577E" stroke-width="4.0" stroke-linecap="round" fill="none"/>
<path d="M212.8 112.7h0M171.2 63.9h0M171.7 61.2h0M182.5 93.1h0M226.7 72.0h0M195.6 54.0h0M176.9 96.1h0M211.8 62.2h0M230.2 84.6h0M164.5 86.1h0M204.6 115.8h0M165.2 79.9h0M168.5 94.6h0M220.1 72.9h0M217.9 83.8h0M232.8 92.6h0M228.1 61.5h0M207.2 140.8h0M194.3 138.0h0M189.6 86.4h0M185.3 58.3h0M177.4 118.5h0M213.5 70.5h0M227.2 50.5h0M214.9 105.0h0M210.5 100.5h0M168.2 56.4h0M169.2 78.4h0M178.4 109.8h0M191.7 54.9h0M175.6 81.8h0M224.6 60.8h0M195.4 62.6h0M188.5 63.7h0M237.3 53.1h0M206.0 75.2h0M185.1 91.3h0M229.9 70.2h0M184.5 113.2h0" stroke="#2B5B84" stroke-width="4.0" stroke-linecap="round" fill="none"/>
<path d="M217.4 103.0h0M187.3 83.1h0M174.0 63.5h0M199.2 99.5h0M199.0 92.1h0M229.4 70.5h0M174.9 83.4h0M219.5 122.1h0M215.9 132.9h0M182.6 115.6h0M222.4 97.2h0M217.3 101.3h0M204.0 118.5h0M166.3 83.8h0M236.7 52.7h0M193.4 59.3h0M220.1 75.5h0M182.8 111.1h0M218.2 87.5h0M212.5 118.0h0M246.6 53.7h0M204.8 107.6h0M225.1 100.6h0M154.4 64.6h0M192.2 87.4h0M201.9 76.7h0M206.9 128.1h0M219.2 54.9h0M206.4 120.8h0M170.3 137.0h0M226.3 53.4h0M247.8 58.4h0M195.7 137.0h0M180.4 111.5h0M194.2 56.8h0M240.4 51.7h0M173.0 124.0h0M208.5 76.9h0M197.1 82.2h0M210.0 138.9h0" stroke="#2D5F89" stroke-width="4.0" stroke-linecap="round" fill="none"/>
<path d="M215.0 116.0h0M174.5 66.1h0M184.2 100.5h0M212.6 64.0h0M187.9 102.3h0M217.6 103.4h0M238.2 55.7h0M172.8 64.1h0M159.9 89.0h0M170.2 95.3h0M219.6 89.8h0M232.2 62.1h0M209.1 142.5h0M227.2 103.2h0M195.7 136.8h0M194.6 88.7h0M203.0 80.5h0M180.0 117.8h0M226.3 69.9h0M214.7 73.1h0M187.8 55.6h0M213.5 102.0h0M169.1 59.5h0M170.4 80.8h0M182.0 113.4h0M231.9 81.4h0M179.0 81.3h0M225.6 63.6h0M197.8 64.2h0M237.4 61.8h0M232.6 72.6h0M199.6 84.1h0" stroke="#30648F" stroke-width="4.0" stroke-linecap="round" fill="none"/>
<path d="M217.5 105.6h0M171.0 67.0h0M198.7 96.8h0M208.5 138.3h0M207.4 140.6h0M231.9 71.4h0M197.9 56.2h0M179.2 97.6h0M183.1 118.0h0M240.2 51.4h0M205.9 120.3h0M166.4 85.2h0M238.7 57.3h0M171.8 98.8h0M220.3 77.9h0M215.9 119.1h0M207.3 109.0h0M196.7 89.9h0M204.1 82.5h0M221.2 56.2h0M165.3 115.4h0M209.4 119.8h0M227.1 57.6h0M215.3 104.3h0M167.1 99.3h0M184.8 115.2h0M230.7 83.3h0M197.9 56.7h0M163.8 102.2h0M201.1 77.7h0M227.5 54.4h0M240.1 62.7h0M242.1 52.0h0M202.9 85.4h0M175.0 96.2h0M212.6 139.7h0" stroke="#326895" stroke-width="4.0" stroke-linecap="round" fill="none"/>
<path d="M216.8 118.0h0M176.9 68.1h0M179.6 95.4h0M208.0 143.1h0M234.3 70.1h0M177.8 85.8h0M221.6 125.1h0M218.2 132.2h0M218.8 106.6h0M207.4 122.8h0M168.1 104.8h0M163.1 87.6h0M172.8 100.3h0M222.4 80.3h0M221.2 91.3h0M233.7 62.9h0M229.2 105.3h0M157.3 67.4h0M198.7 91.5h0M188.1 61.9h0M205.1 85.1h0M182.1 117.5h0M224.6 55.9h0M216.5 76.5h0M210.2 118.2h0M174.3 137.7h0M190.1 56.7h0M169.7 62.2h0M167.0 101.0h0M185.5 117.1h0M187.3 119.2h0M229.9 86.5h0M199.7 56.4h0M181.3 83.4h0M227.6 66.7h0M201.5 81.0h0M189.4 92.2h0M233.9 74.7h0M215.6 140.1h0" stroke="#346C9B" stroke-width="4.0" stroke-linecap="round" fill="none"/>
<path d="M218.5 107.4h0M191.0 82.2h0M177.4 70.9h0M197.7 99.5h0M181.6 98.3h0M212.4 67.3h0M183.5 119.5h0M220.2 108.6h0M161.3 58.1h0M208.0 125.4h0M169.0 88.6h0M240.7 59.2h0M196.8 69.2h0M169.4 108.2h0M173.7 103.3h0M222.6 82.8h0M222.9 93.9h0M200.2 94.0h0M170.3 90.8h0M206.9 87.0h0M208.0 130.9h0M212.1 119.5h0M208.2 75.1h0M217.6 50.0h0M218.6 105.4h0M172.0 82.1h0M186.6 96.9h0M189.0 121.6h0M229.6 88.7h0M203.4 57.7h0M201.2 83.2h0M229.3 57.8h0M241.8 64.6h0M205.5 87.5h0" stroke="#3671A1" stroke-width="4.0" stroke-linecap="round" fill="none"/>
<path d="M178.8 72.6h0M185.0 104.4h0M237.6 69.7h0M199.8 59.1h0M179.6 86.8h0M183.6 122.7h0M190.1 104.9h0M163.9 58.8h0M169.1 91.3h0M235.5 49.9h0M242.6 61.9h0M182.5 117.6h0M176.8 63.2h0M171.0 109.2h0M223.2 95.9h0M218.5 122.6h0M237.5 64.4h0M201.3 95.7h0M195.9 82.2h0M208.3 90.5h0M226.9 55.9h0M228.8 71.2h0M217.2 78.6h0M167.9 117.0h0M213.5 117.2h0M191.7 59.3h0M209.3 77.7h0M218.5 52.5h0M167.3 104.1h0M230.7 91.3h0M200.4 86.4h0M185.0 66.7h0M243.6 67.0h0M176.8 124.4h0M199.2 143.8h0M235.4 76.6h0M197.6 61.5h0" stroke="#3875A7" stroke-width="4.0" stroke-linecap="round" fill="none"/>
<path d="M219.6 110.5h0M172.5 70.1h0M181.2 74.4h0M240.0 69.2h0M185.4 97.8h0M223.3 128.4h0M221.3 111.3h0M166.8 57.5h0M207.0 128.2h0M172.5 112.4h0M174.7 105.4h0M224.2 99.7h0M203.2 98.5h0M171.6 93.6h0M185.4 116.8h0M206.1 84.5h0M214.9 118.4h0M215.6 118.5h0M177.0 137.0h0M211.1 79.6h0M166.1 107.1h0M231.1 94.2h0M206.0 58.0h0M166.9 102.9h0M228.7 69.6h0M199.2 88.9h0M230.5 59.9h0M175.2 99.0h0" stroke="#3A7AAD" stroke-width="4.0" stroke-linecap="round" fill="none"/>
<path d="M241.7 68.9h0M212.3 69.0h0M185.0 125.7h0M193.0 50.0h0M220.5 113.9h0M169.5 56.9h0M170.1 93.7h0M237.2 52.1h0M186.9 117.6h0M174.5 114.5h0M175.0 116.6h0M174.4 107.8h0M239.9 65.4h0M159.3 69.3h0M204.7 101.2h0M173.9 95.8h0M198.1 83.1h0M218.2 82.2h0M194.1 59.5h0M212.5 81.7h0M219.5 56.3h0M166.6 109.3h0M230.5 95.9h0M208.5 58.1h0M199.3 91.0h0M192.6 92.7h0" stroke="#3D7EB3" stroke-width="4.0" stroke-linecap="round" fill="none"/>
<path d="M220.2 113.8h0M194.0 80.7h0M201.0 61.7h0M187.2 98.8h0M225.3 131.0h0M191.4 107.6h0M240.8 54.5h0M171.5 57.0h0M177.2 118.0h0M226.3 101.1h0M219.9 124.9h0M187.7 115.7h0M211.2 133.4h0M232.3 71.0h0M170.0 118.8h0M217.3 118.1h0M218.7 117.9h0M197.2 60.5h0M215.8 83.9h0M165.7 112.7h0M188.4 97.5h0M230.7 99.3h0M230.3 72.8h0M198.7 93.6h0M231.1 62.4h0" stroke="#3F83B9" stroke-width="4.0" stroke-linecap="round" fill="none"/>
<path d="M220.1 116.9h0M185.8 106.6h0M184.5 128.0h0M220.9 116.1h0M227.2 117.8h0M174.2 56.9h0M171.0 96.8h0M238.9 53.9h0M188.9 117.1h0M178.0 120.9h0M161.6 99.0h0M242.6 65.8h0M175.4 98.0h0M222.0 117.3h0M179.3 138.0h0M217.2 86.7h0M220.3 58.6h0M228.6 102.2h0M211.0 59.0h0M199.3 96.7h0M235.3 49.4h0M200.0 66.1h0" stroke="#4187BF" stroke-width="4.0" stroke-linecap="round" fill="none"/>
<path d="M158.7 60.6h0M213.4 73.1h0M185.1 130.4h0M222.7 119.4h0M176.9 57.5h0M201.1 70.0h0M179.6 63.1h0M180.7 122.0h0M180.9 125.3h0M161.9 71.9h0M200.3 85.7h0M220.4 117.7h0M200.1 62.0h0M218.1 88.5h0M166.1 114.6h0M213.8 59.5h0M171.3 105.0h0M231.3 74.6h0M198.7 99.1h0M182.3 70.6h0M232.7 64.9h0M197.1 92.7h0M175.3 102.8h0" stroke="#438CC5" stroke-width="4.0" stroke-linecap="round" fill="none"/>
<path d="M221.6 118.3h0M227.7 132.5h0M225.7 117.8h0M180.3 57.2h0M171.7 99.6h0M223.3 125.9h0M177.5 100.7h0M235.5 71.7h0M210.6 81.0h0M173.3 120.4h0M223.9 117.5h0M220.3 91.9h0M223.1 61.4h0M166.6 117.8h0M198.2 101.1h0" stroke="#4690CB" stroke-width="4.0" stroke-linecap="round" fill="none"/>
<path d="M196.3 79.8h0M213.3 75.9h0M184.6 132.7h0M183.2 58.7h0M192.3 117.3h0M163.9 97.9h0M227.4 118.9h0M202.5 63.6h0M223.9 64.0h0M165.8 119.7h0M232.0 77.8h0M232.3 67.8h0M202.3 69.7h0M196.5 51.4h0" stroke="#4895D1" stroke-width="4.0" stroke-linecap="round" fill="none"/>
<path d="M223.0 121.9h0M187.2 110.3h0M242.7 60.0h0M221.5 119.3h0M232.8 47.7h0M154.1 61.2h0M179.9 102.2h0M203.4 86.9h0M229.0 118.9h0M166.1 122.8h0M191.6 96.9h0M176.0 106.6h0" stroke="#4A99D7" stroke-width="4.0" stroke-linecap="round" fill="none"/>
<path d="M181.7 51.2h0M184.8 136.3h0M194.9 118.2h0M182.3 62.8h0M156.1 63.5h0M204.9 63.6h0M233.5 69.4h0" stroke="#4D9EDE" stroke-width="4.0" stroke-linecap="round" fill="none"/>
<path d="M219.7 119.6h0M236.3 49.6h0M158.4 64.4h0M205.9 89.5h0" stroke="#4FA3E4" stroke-width="4.0" stroke-linecap="round" fill="none"/>
<path d="M205.4 72.7h0M198.4 118.7h0M213.7 78.6h0M234.9 72.0h0" stroke="#51A8EA" stroke-width="4.0" stroke-linecap="round" fill="none"/>
<path d="M214.7 48.9h0M196.1 98.9h0" stroke="#54ACF1" stroke-width="4.0" stroke-linecap="round" fill="none"/>
<path d="M215.6 102.4h0M214.8 126.1h0M216.9 128.1h0M217.0 129.6h0M219.2 132.8h0M219.6 135.6h0M169.9 117.2h0M243.8 65.5h0M185.7 78.5h0M172.7 74.0h0M175.1 77.0h0M204.2 49.0h0M207.8 75.2h0M206.5 78.3h0M194.8 125.4h0M196.6 128.6h0M196.6 131.8h0M186.1 162.2h0M179.7 151.4h0M191.4 173.2h0M191.6 163.9h0M189.4 155.1h0" stroke="#132B43" stroke-width="4.0" stroke-linecap="round" fill="none"/>
<path d="M221.1 138.5h0M242.6 68.2h0M188.6 77.9h0M178.3 78.6h0M177.4 136.9h0M206.7 51.0h0M205.5 80.1h0M147.5 89.5h0M143.6 94.3h0M190.7 164.0h0M191.7 185.6h0M191.1 168.7h0M192.7 159.7h0" stroke="#152F48" stroke-width="4.0" stroke-linecap="round" fill="none"/>
<path d="M168.5 102.1h0M181.7 52.0h0M221.5 141.1h0M208.0 67.2h0M197.9 134.3h0M164.2 141.7h0M154.3 81.7h0M150.6 115.8h0M177.4 155.4h0M181.6 171.9h0M192.7 166.9h0M187.8 148.9h0M189.0 153.3h0" stroke="#17334D" stroke-width="4.0" stroke-linecap="round" fill="none"/>
<path d="M182.8 55.4h0M191.2 53.0h0M178.7 139.8h0M166.7 123.7h0M158.2 81.5h0M208.8 52.7h0M202.9 82.9h0M198.8 136.2h0M154.9 127.5h0M154.4 132.3h0M187.5 172.8h0M180.0 152.3h0M179.4 147.0h0M183.7 146.6h0M184.6 151.2h0M189.5 158.4h0" stroke="#193652" stroke-width="4.0" stroke-linecap="round" fill="none"/>
<path d="M168.9 104.2h0M184.2 70.8h0M182.3 57.4h0M218.9 105.3h0M171.5 120.8h0M191.4 78.8h0M180.8 81.5h0M160.4 82.7h0M211.4 143.3h0M199.8 138.9h0M206.6 52.8h0M157.4 108.5h0M150.0 117.1h0M156.7 102.8h0M192.0 155.8h0M179.8 157.5h0M187.2 176.0h0M194.6 168.6h0M193.7 184.3h0" stroke="#1B3A58" stroke-width="4.0" stroke-linecap="round" fill="none"/>
<path d="M183.1 60.6h0M192.7 56.2h0M209.5 69.4h0M166.2 127.3h0M210.7 55.0h0M157.7 135.9h0M155.4 83.6h0M148.5 87.3h0M152.2 117.3h0M145.4 95.6h0M192.0 151.0h0M178.0 158.6h0M183.2 154.8h0M186.8 178.8h0M188.4 152.4h0M190.0 157.8h0" stroke="#1D3E5D" stroke-width="4.0" stroke-linecap="round" fill="none"/>
<path d="M178.6 54.0h0M168.2 107.5h0M185.6 145.8h0M184.4 62.6h0M235.3 48.2h0M186.3 91.4h0M238.8 73.3h0M217.1 82.3h0M160.8 98.4h0M179.3 142.5h0M167.9 128.7h0M162.3 85.5h0M211.8 141.2h0M201.4 142.5h0M207.9 55.9h0M139.3 84.9h0M159.0 111.5h0M144.6 68.7h0M240.1 67.3h0M181.6 159.8h0M186.4 179.4h0M185.6 157.1h0M180.9 154.6h0M190.9 172.2h0M189.7 161.4h0" stroke="#1F4262" stroke-width="4.0" stroke-linecap="round" fill="none"/>
<path d="M181.6 53.6h0M187.8 73.1h0M166.7 119.3h0M235.6 50.5h0M232.4 50.9h0M164.7 57.0h0M194.0 58.1h0M201.8 95.8h0M195.6 79.3h0M182.3 53.1h0M218.9 84.8h0M164.2 88.2h0M212.4 56.4h0M186.7 139.5h0M201.9 144.2h0M208.9 59.1h0M157.4 129.2h0M150.1 128.9h0M155.3 135.0h0M230.8 88.7h0M231.0 102.3h0M241.8 63.6h0M235.0 84.1h0M184.3 175.4h0M187.2 182.5h0M177.8 151.0h0M184.1 150.0h0M192.9 163.5h0M192.9 168.2h0M191.7 161.7h0M190.9 147.2h0" stroke="#214668" stroke-width="4.0" stroke-linecap="round" fill="none"/>
<path d="M170.2 110.0h0M179.1 144.7h0M208.1 143.4h0M168.3 117.7h0M229.3 52.4h0M167.9 58.5h0M186.4 87.5h0M203.4 96.7h0M238.2 75.9h0M220.7 97.3h0M211.3 72.6h0M244.6 52.1h0M163.7 99.3h0M178.7 145.6h0M169.6 132.3h0M213.1 137.5h0M139.8 78.7h0M142.6 96.1h0M138.7 88.8h0M165.6 145.2h0M162.0 126.8h0M146.5 70.3h0M157.6 86.0h0M145.9 117.3h0M157.5 105.2h0M154.9 120.1h0M146.4 97.8h0M234.9 90.6h0M228.3 101.9h0M184.1 162.0h0M187.0 185.5h0M186.9 185.5h0M186.1 166.3h0M179.2 161.6h0M188.1 159.1h0M185.5 155.3h0M192.8 175.5h0M189.6 146.5h0M191.1 149.9h0" stroke="#234A6D" stroke-width="4.0" stroke-linecap="round" fill="none"/>
<path d="M230.4 103.4h0M184.2 54.3h0M188.5 146.9h0M220.1 109.4h0M172.3 118.3h0M235.1 52.3h0M172.4 123.3h0M169.6 60.3h0M195.8 60.8h0M205.6 98.3h0M223.3 98.6h0M198.1 79.7h0M208.7 51.0h0M219.3 88.6h0M170.3 134.1h0M215.0 57.7h0M219.8 96.2h0M209.0 86.1h0M208.8 61.8h0M144.3 104.4h0M141.6 86.1h0M161.5 113.1h0M152.0 129.0h0M151.9 92.0h0M244.2 59.8h0M225.7 107.7h0M241.0 65.6h0M235.7 82.4h0M194.0 160.2h0M188.3 154.8h0M181.3 147.6h0" stroke="#254F73" stroke-width="4.0" stroke-linecap="round" fill="none"/>
<path d="M187.6 54.6h0M170.5 112.6h0M189.4 75.4h0M209.3 144.6h0M173.8 116.3h0M234.8 55.8h0M227.5 54.9h0M171.3 61.6h0M185.5 85.3h0M208.0 101.2h0M236.2 79.1h0M225.3 98.7h0M244.9 54.6h0M220.8 90.9h0M169.9 136.9h0M212.5 133.7h0M210.4 63.7h0M160.7 113.6h0M142.5 98.7h0M139.6 90.1h0M160.0 136.8h0M148.1 71.2h0M152.6 118.1h0M231.7 86.1h0M231.7 99.9h0M232.9 84.5h0M241.3 61.5h0M240.8 65.5h0M229.1 99.9h0M185.8 164.0h0M186.4 188.6h0M189.8 153.6h0M190.2 162.2h0M185.1 154.3h0M191.7 148.5h0M188.2 183.1h0" stroke="#275378" stroke-width="4.0" stroke-linecap="round" fill="none"/>
<path d="M229.5 105.2h0M212.9 80.7h0M198.5 119.4h0M179.5 90.5h0M233.5 59.3h0M225.4 55.9h0M198.8 63.9h0M210.1 102.1h0M229.2 100.8h0M213.9 74.7h0M246.3 56.6h0M183.1 58.6h0M208.4 54.0h0M222.1 94.1h0M216.9 115.1h0M171.3 140.2h0M222.2 97.2h0M209.9 88.9h0M159.2 130.7h0M141.9 72.6h0M156.8 138.0h0M144.2 111.7h0M152.6 90.4h0M148.1 120.1h0M139.6 67.5h0M240.2 73.7h0M248.4 57.0h0M236.4 78.4h0M230.2 95.1h0M235.8 85.1h0M243.2 71.0h0M242.3 63.9h0M235.7 80.7h0M187.0 178.5h0M191.4 188.5h0M180.8 164.2h0M192.0 175.8h0M182.3 171.1h0" stroke="#29577E" stroke-width="4.0" stroke-linecap="round" fill="none"/>
<path d="M190.3 54.1h0M156.0 61.4h0M167.7 126.7h0M233.5 62.0h0M223.5 58.3h0M185.1 81.2h0M212.5 104.4h0M235.1 82.0h0M231.0 101.7h0M173.0 88.8h0M201.3 80.9h0M223.2 97.0h0M218.6 113.9h0M222.0 105.5h0M190.7 141.7h0M224.0 98.7h0M212.0 131.5h0M209.9 91.6h0M210.8 66.5h0M147.4 105.9h0M155.7 129.9h0M149.7 73.7h0M136.9 78.1h0M142.6 102.1h0M156.4 121.8h0M149.1 100.1h0M244.0 68.5h0M225.9 105.2h0M241.8 63.5h0M235.2 88.3h0M228.9 97.6h0M248.8 57.4h0M182.4 159.1h0" stroke="#2B5B84" stroke-width="4.0" stroke-linecap="round" fill="none"/>
<path d="M230.5 108.0h0M184.9 75.6h0M193.1 55.2h0M172.3 115.8h0M159.6 63.8h0M191.5 77.7h0M212.2 124.5h0M196.6 121.6h0M179.6 93.4h0M172.5 127.4h0M214.3 105.5h0M215.1 77.9h0M246.8 60.4h0M208.1 58.1h0M222.3 114.7h0M216.7 48.4h0M182.7 71.3h0M211.4 94.0h0M143.9 101.5h0M142.1 93.2h0M143.7 74.3h0M144.2 87.3h0M145.6 113.8h0M159.4 108.0h0M232.5 97.9h0M240.3 71.9h0M239.0 62.3h0M232.9 82.2h0M249.1 55.1h0M241.8 54.3h0M241.5 59.4h0M226.8 107.4h0M245.6 58.3h0M223.6 106.9h0M187.4 159.5h0M193.8 167.6h0M189.2 158.2h0M192.9 171.1h0" stroke="#2D5F89" stroke-width="4.0" stroke-linecap="round" fill="none"/>
<path d="M185.4 78.5h0M162.9 102.1h0M161.1 63.5h0M216.2 82.0h0M216.7 107.7h0M219.7 89.0h0M225.5 115.5h0M176.4 139.9h0M227.4 100.1h0M212.6 97.0h0M161.9 116.6h0M142.4 80.0h0M162.1 137.9h0M152.3 75.6h0M148.8 121.8h0M143.9 103.3h0M231.7 84.3h0M240.1 60.4h0M249.4 52.5h0M237.5 76.6h0M231.6 93.2h0M247.5 48.4h0M244.8 66.7h0M242.6 61.6h0M243.0 61.7h0M235.9 78.8h0M229.3 95.7h0M241.8 55.4h0M238.2 73.1h0M183.4 167.3h0M188.6 186.6h0M184.9 173.0h0M183.1 150.5h0" stroke="#30648F" stroke-width="4.0" stroke-linecap="round" fill="none"/>
<path d="M184.8 79.9h0M196.0 55.0h0M172.7 112.0h0M174.0 118.1h0M171.0 128.7h0M193.9 122.5h0M216.9 49.8h0M183.3 79.2h0M207.9 50.9h0M218.6 109.5h0M175.2 90.5h0M193.0 54.2h0M222.3 87.9h0M211.8 49.5h0M207.4 60.9h0M230.1 91.3h0M214.9 50.6h0M226.4 106.7h0M185.3 72.0h0M215.7 61.5h0M230.2 101.3h0M212.9 99.4h0M150.1 108.6h0M160.7 133.3h0M144.7 103.7h0M143.1 94.6h0M146.4 75.4h0M165.3 128.3h0M158.0 130.2h0M157.8 139.9h0M147.8 115.6h0M138.6 80.3h0M145.9 105.8h0M158.1 123.4h0M241.2 70.5h0M241.0 58.3h0M227.6 105.5h0M236.8 82.6h0M245.5 64.7h0M226.4 104.1h0M230.0 94.1h0M250.7 53.7h0M243.3 53.1h0M186.5 171.0h0" stroke="#326895" stroke-width="4.0" stroke-linecap="round" fill="none"/>
<path d="M184.8 83.5h0M200.0 54.5h0M164.0 65.2h0M214.0 127.6h0M179.4 97.3h0M166.6 121.2h0M217.2 79.7h0M225.0 86.9h0M228.1 113.8h0M187.6 72.5h0M146.5 90.0h0M153.7 77.5h0M139.9 66.5h0M154.7 92.9h0M154.8 119.2h0M151.1 124.6h0M141.4 69.5h0M150.7 101.5h0M250.6 50.4h0M242.7 72.7h0M243.0 52.1h0M242.1 57.2h0M228.5 103.1h0M246.8 56.3h0M243.0 59.7h0M236.4 76.3h0M236.0 86.6h0M225.0 104.8h0M238.0 70.7h0M195.0 179.1h0" stroke="#346C9B" stroke-width="4.0" stroke-linecap="round" fill="none"/>
<path d="M185.2 86.6h0M165.0 103.7h0M181.5 72.9h0M166.3 66.2h0M173.3 129.4h0M220.4 82.7h0M192.5 125.8h0M183.3 75.7h0M193.3 57.1h0M227.1 86.2h0M230.1 86.4h0M207.0 63.9h0M214.4 54.1h0M190.2 71.4h0M193.8 141.4h0M214.2 63.2h0M214.1 102.9h0M146.1 106.3h0M144.8 97.6h0M148.5 76.5h0M148.8 107.4h0M160.3 110.4h0M232.0 82.5h0M232.6 95.1h0M241.7 68.0h0M241.5 56.7h0M234.6 79.2h0M237.6 73.8h0M232.3 91.6h0M245.4 62.7h0M226.9 101.1h0M243.9 59.3h0M230.1 92.0h0M250.7 52.0h0M244.3 51.2h0M187.3 174.0h0M188.8 161.6h0" stroke="#3671A1" stroke-width="4.0" stroke-linecap="round" fill="none"/>
<path d="M185.2 88.4h0M168.1 67.0h0M171.6 84.4h0M179.4 99.9h0M178.3 92.0h0M194.1 59.8h0M232.9 85.6h0M212.1 51.6h0M232.3 94.4h0M213.6 55.8h0M228.9 106.9h0M195.1 49.6h0M193.0 71.9h0M211.8 64.9h0M164.2 120.0h0M151.5 109.5h0M164.9 139.4h0M161.3 130.7h0M155.5 79.2h0M149.3 116.6h0M142.8 66.8h0M140.2 82.0h0M154.7 94.0h0M150.2 109.3h0M160.4 125.4h0M242.3 54.8h0M251.1 48.5h0M243.8 50.7h0M241.8 55.0h0M229.2 101.5h0M246.2 60.7h0M243.1 58.0h0M236.7 74.9h0M225.7 102.7h0M238.7 68.3h0" stroke="#3875A7" stroke-width="4.0" stroke-linecap="round" fill="none"/>
<path d="M185.6 91.9h0M178.4 137.1h0M182.3 75.5h0M158.9 78.2h0M217.0 130.2h0M223.3 83.1h0M190.2 127.9h0M225.1 104.8h0M217.0 53.4h0M196.1 62.3h0M234.7 83.4h0M184.2 122.9h0M195.3 71.1h0M144.2 104.9h0M145.5 82.9h0M163.2 134.8h0M147.2 109.3h0M151.0 77.8h0M148.9 91.0h0M159.0 142.1h0M152.4 126.0h0M242.3 65.7h0M247.7 54.1h0M237.7 80.2h0M245.2 57.5h0M230.9 90.2h0M251.3 49.8h0M245.5 50.0h0" stroke="#3A7AAD" stroke-width="4.0" stroke-linecap="round" fill="none"/>
<path d="M184.0 95.0h0M171.9 68.9h0M177.4 131.3h0M179.1 102.7h0M196.3 64.0h0M238.0 82.1h0M212.9 58.7h0M197.3 50.4h0M197.5 71.4h0M210.1 68.1h0M146.3 99.6h0M163.0 132.0h0M150.7 119.4h0M145.8 68.3h0M140.8 84.1h0M151.8 111.6h0M143.9 73.4h0M152.7 102.4h0M233.3 93.1h0M243.4 52.3h0M234.9 77.2h0M238.1 71.5h0M243.7 70.2h0M229.7 99.3h0M225.6 107.7h0M247.0 58.8h0M226.7 99.6h0M243.7 56.4h0M236.2 83.3h0M238.1 66.8h0" stroke="#3D7EB3" stroke-width="4.0" stroke-linecap="round" fill="none"/>
<path d="M184.6 96.9h0M170.8 116.6h0M180.9 139.6h0M173.8 70.3h0M160.4 80.2h0M173.3 89.0h0M189.8 129.0h0M228.2 105.2h0M181.9 94.4h0M200.2 52.3h0M186.0 125.0h0M200.9 70.8h0M208.1 68.6h0M145.5 107.0h0M154.5 111.6h0M153.6 78.5h0M232.7 80.3h0M242.1 64.0h0M244.0 50.6h0M233.5 89.1h0M230.8 97.2h0M247.3 57.1h0M244.8 53.9h0M236.3 72.2h0M231.8 88.1h0M226.6 100.1h0M247.0 48.5h0" stroke="#3F83B9" stroke-width="4.0" stroke-linecap="round" fill="none"/>
<path d="M182.7 79.1h0M162.0 81.9h0M218.5 132.9h0M230.9 106.7h0M217.6 55.9h0M236.7 47.6h0M198.3 65.6h0M212.7 62.6h0M202.7 71.7h0M148.1 102.5h0M166.4 141.3h0M148.1 68.1h0M157.7 120.9h0M153.9 127.9h0M153.4 113.6h0M161.6 112.1h0M162.4 128.5h0M226.4 105.9h0M227.6 97.2h0M245.6 56.1h0M232.2 86.7h0M239.3 64.0h0" stroke="#4187BF" stroke-width="4.0" stroke-linecap="round" fill="none"/>
<path d="M187.3 131.0h0M178.4 106.1h0M200.2 67.8h0M172.3 53.9h0M201.2 54.8h0M187.2 129.0h0M205.5 72.0h0M165.6 136.4h0M141.9 97.4h0M155.9 80.4h0M150.8 92.6h0M161.0 145.2h0M142.8 86.1h0M154.7 104.2h0M242.4 61.7h0M235.9 75.2h0M238.4 69.2h0M243.8 67.9h0M231.8 95.1h0M249.6 52.0h0M237.8 77.5h0M248.2 54.7h0M245.3 52.1h0M236.4 70.8h0M228.1 98.4h0M234.5 95.3h0" stroke="#438CC5" stroke-width="4.0" stroke-linecap="round" fill="none"/>
<path d="M184.8 140.5h0M183.7 82.7h0M174.2 94.4h0M235.2 50.2h0M201.0 71.3h0M211.3 64.2h0M172.8 55.4h0M204.1 55.5h0M203.4 72.9h0M147.1 84.4h0M233.0 90.6h0M234.7 87.7h0M233.2 93.3h0M226.9 104.0h0M248.3 53.1h0M247.0 53.8h0M237.2 81.8h0M232.7 84.7h0M239.6 62.3h0" stroke="#4690CB" stroke-width="4.0" stroke-linecap="round" fill="none"/>
<path d="M177.3 108.5h0M184.7 94.7h0M202.4 72.5h0M211.4 67.2h0M174.8 58.5h0M189.4 130.8h0M148.8 104.3h0M144.8 88.5h0M156.5 131.1h0M163.9 129.6h0M146.3 76.1h0M229.4 106.4h0M227.7 95.1h0M246.3 51.1h0M236.7 68.6h0M223.5 107.6h0M235.5 93.5h0" stroke="#4895D1" stroke-width="4.0" stroke-linecap="round" fill="none"/>
<path d="M168.5 119.7h0M185.0 84.5h0M233.9 52.8h0M174.9 61.0h0M205.8 58.3h0M202.3 74.8h0M142.4 68.1h0M168.7 141.6h0M138.7 77.0h0M242.9 59.9h0M237.2 73.0h0M238.9 68.0h0M233.8 91.3h0M250.0 50.2h0M239.3 75.6h0M248.8 50.6h0M234.2 82.6h0M228.5 96.6h0M239.9 59.9h0" stroke="#4A99D7" stroke-width="4.0" stroke-linecap="round" fill="none"/>
<path d="M198.2 53.8h0M186.6 142.8h0M175.8 63.2h0M191.3 134.4h0M167.3 138.2h0M143.3 99.2h0M156.4 105.3h0M233.3 88.8h0M235.1 85.8h0M245.1 66.2h0M226.9 106.5h0M227.9 102.0h0M246.7 48.5h0M247.3 52.5h0" stroke="#4D9EDE" stroke-width="4.0" stroke-linecap="round" fill="none"/>
<path d="M176.8 66.5h0M206.8 60.5h0M144.7 69.1h0M243.0 57.5h0M231.3 104.3h0M228.3 93.4h0M224.8 105.7h0M236.9 79.2h0M240.9 57.9h0" stroke="#4FA3E4" stroke-width="4.0" stroke-linecap="round" fill="none"/>
<path d="M190.4 143.2h0M239.7 65.0h0M229.6 100.7h0" stroke="#51A8EA" stroke-width="4.0" stroke-linecap="round" fill="none"/>
<path d="M243.0 55.3h0M245.7 63.7h0M226.4 104.0h0M239.6 73.5h0M229.0 91.2h0" stroke="#54ACF1" stroke-width="4.0" stroke-linecap="round" fill="none"/>
<path d="M193.2 144.8h0M145.9 70.7h0M171.1 143.4h0M231.1 102.3h0M237.0 83.8h0M225.1 104.3h0" stroke="#56B1F7" stroke-width="4.0" stroke-linecap="round" fill="none"/>
<path d="M100.0 31.8h0M101.4 31.8h0M102.8 31.7h0M104.3 31.7h0M105.7 31.6h0M107.1 31.6h0" stroke="#132B43" stroke-width="4.0" stroke-linecap="round" fill="none"/>
<path d="M108.5 31.6h0M109.9 31.5h0M111.3 31.5h0M112.8 31.5h0M114.2 31.4h0M115.6 31.4h0M117.0 31.3h0M118.4 31.3h0M119.8 31.3h0M121.3 31.2h0M126.9 98.1h0M127.4 98.5h0M168.8 144.8h0M230.5 111.0h0M229.0 128.0h0M189.7 199.8h0M190.7 204.1h0M177.0 211.5h0M180.1 221.0h0M188.8 241.0h0" stroke="#152F48" stroke-width="4.0" stroke-linecap="round" fill="none"/>
<path d="M183.6 155.8h0M122.7 31.2h0M124.1 31.2h0M125.5 31.1h0M126.9 31.1h0M128.3 31.0h0M129.8 31.0h0M131.2 31.0h0M132.6 31.0h0M134.0 30.9h0M135.4 30.9h0M83.3 69.7h0M89.7 79.2h0M90.9 80.2h0M92.0 81.2h0M93.2 82.1h0M115.1 82.4h0M116.7 83.5h0M149.0 66.4h0M150.1 67.6h0M151.2 68.8h0M138.5 87.6h0M139.4 88.8h0M140.3 90.1h0M141.2 91.3h0M142.1 92.5h0M142.9 93.8h0M151.2 104.5h0M152.5 103.5h0M153.8 102.4h0M62.0 46.2h0M63.6 46.4h0M70.9 49.7h0M72.5 50.0h0M74.1 50.3h0M89.1 79.1h0M90.3 80.4h0M115.2 81.2h0M116.5 82.5h0M138.5 87.5h0M139.3 88.7h0M140.2 90.0h0M141.0 91.2h0M139.0 86.8h0M139.9 88.0h0M140.9 89.2h0M141.8 90.4h0M142.8 91.6h0M143.7 92.8h0M149.7 66.7h0M150.9 67.7h0M152.1 68.7h0M153.3 69.7h0M232.4 229.9h0M177.0 206.2h0M184.4 206.2h0M186.5 221.0h0M185.4 228.5h0M185.5 228.3h0M191.4 242.0h0" stroke="#17334D" stroke-width="4.0" stroke-linecap="round" fill="none"/>
<path d="M192.1 177.5h0M136.9 30.9h0M138.3 30.9h0M139.7 30.9h0M141.1 30.9h0M142.5 30.8h0M143.9 30.8h0M145.4 30.8h0M146.8 30.8h0M148.2 30.8h0M149.6 30.7h0M72.7 62.3h0M84.7 70.2h0M94.4 83.1h0M95.5 84.1h0M96.8 84.9h0M118.3 84.5h0M152.3 70.0h0M153.4 71.2h0M154.5 72.4h0M143.8 95.0h0M144.7 96.2h0M145.6 97.5h0M146.5 98.7h0M147.3 100.0h0M155.1 101.4h0M156.3 100.3h0M54.8 51.9h0M65.2 46.6h0M66.7 46.8h0M75.6 50.7h0M77.2 51.0h0M78.8 51.3h0M72.2 63.6h0M82.8 68.9h0M91.5 81.8h0M113.0 99.2h0M117.8 83.7h0M119.0 85.0h0M141.9 92.4h0M142.7 93.7h0M143.6 94.9h0M144.7 94.0h0M145.6 95.2h0M146.6 96.4h0M147.4 97.7h0M148.3 99.0h0M154.5 70.7h0M155.7 71.7h0M156.8 72.8h0M233.9 229.6h0M206.0 189.4h0M229.9 115.1h0M181.2 195.6h0M187.6 197.7h0M197.1 223.2h0M192.7 243.3h0" stroke="#193652" stroke-width="4.0" stroke-linecap="round" fill="none"/>
<path d="M185.3 158.9h0M151.0 30.7h0M152.5 30.7h0M153.9 30.7h0M155.3 30.7h0M156.7 30.6h0M158.1 30.6h0M159.5 30.6h0M161.0 30.6h0M162.4 30.6h0M163.8 30.6h0M74.0 61.6h0M86.1 70.8h0M98.2 85.6h0M99.6 86.3h0M100.9 87.0h0M119.9 85.5h0M155.6 73.7h0M156.6 74.9h0M148.2 101.2h0M149.0 102.5h0M149.9 103.8h0M150.7 105.0h0M151.6 106.3h0M152.4 107.5h0M157.6 99.3h0M159.0 98.4h0M68.3 47.0h0M69.9 47.2h0M80.4 51.5h0M82.0 51.4h0M73.6 63.0h0M75.0 62.4h0M84.4 69.6h0M92.8 83.1h0M120.3 86.2h0M144.4 96.1h0M145.2 97.4h0M146.0 98.7h0M146.7 100.0h0M149.1 100.3h0M149.9 101.5h0M150.7 102.8h0M151.5 104.1h0M152.4 105.4h0M153.2 106.7h0M157.9 73.9h0M159.1 75.0h0M160.2 76.1h0M161.3 77.2h0M123.2 86.8h0M124.2 93.2h0M204.2 189.4h0M227.6 135.3h0M188.6 241.2h0" stroke="#1B3A58" stroke-width="4.0" stroke-linecap="round" fill="none"/>
<path d="M184.0 179.4h0M165.2 30.6h0M166.6 30.6h0M168.0 30.5h0M169.5 30.5h0M170.9 30.5h0M172.3 30.5h0M173.7 30.5h0M175.1 30.5h0M176.6 30.5h0M178.0 30.5h0M179.4 30.5h0M75.3 60.9h0M76.7 60.2h0M87.5 71.3h0M102.3 87.6h0M103.7 88.2h0M105.1 88.7h0M106.6 89.3h0M121.5 86.6h0M157.6 76.2h0M158.7 77.4h0M159.7 78.7h0M153.3 108.8h0M160.4 97.5h0M161.8 96.6h0M163.2 95.8h0M71.5 47.4h0M73.0 47.6h0M83.6 51.3h0M85.2 51.2h0M86.8 51.2h0M76.4 61.8h0M86.1 70.2h0M94.0 84.4h0M114.5 99.7h0M121.6 87.5h0M147.5 101.2h0M148.2 102.5h0M149.0 103.8h0M154.0 108.0h0M162.4 78.3h0M235.4 229.2h0M123.7 92.8h0M231.0 120.0h0M189.7 187.1h0M179.1 212.6h0M175.9 213.6h0M191.8 242.2h0M187.5 230.0h0" stroke="#1D3E5D" stroke-width="4.0" stroke-linecap="round" fill="none"/>
<path d="M186.1 183.1h0M180.8 30.5h0M182.2 30.5h0M183.6 30.4h0M185.1 30.4h0M186.5 30.4h0M187.9 30.4h0M189.3 30.4h0M190.7 30.4h0M192.2 30.4h0M193.6 30.4h0M78.0 59.5h0M88.9 71.8h0M108.0 89.8h0M109.4 90.3h0M110.8 90.9h0M160.8 79.9h0M161.8 81.2h0M164.6 94.9h0M166.0 94.0h0M74.6 47.8h0M76.2 48.0h0M88.4 51.1h0M90.0 51.0h0M77.8 61.2h0M79.2 60.6h0M87.7 70.9h0M149.7 105.1h0M150.5 106.4h0M151.2 107.7h0M236.5 228.2h0M191.8 189.2h0" stroke="#1F4262" stroke-width="4.0" stroke-linecap="round" fill="none"/>
<path d="M193.7 180.3h0M189.1 185.6h0M186.8 160.9h0M195.0 167.5h0M204.9 163.7h0M195.0 30.4h0M196.4 30.5h0M197.8 30.5h0M199.2 30.5h0M200.7 30.5h0M202.1 30.5h0M203.5 30.5h0M204.9 30.5h0M206.3 30.5h0M207.7 30.6h0M79.3 58.9h0M90.4 72.4h0M112.1 91.7h0M113.4 92.6h0M114.7 93.4h0M115.9 94.3h0M80.6 60.0h0M82.0 59.4h0M116.0 100.1h0" stroke="#214668" stroke-width="4.0" stroke-linecap="round" fill="none"/>
<path d="M209.2 30.6h0M210.6 30.6h0M212.0 30.6h0M80.7 58.4h0M91.8 72.9h0M117.2 95.1h0M83.5 58.9h0M89.3 71.7h0M237.7 227.2h0" stroke="#234A6D" stroke-width="4.0" stroke-linecap="round" fill="none"/>
<path d="M189.4 165.4h0M188.3 163.8h0M206.2 151.2h0M206.7 155.8h0M82.1 57.9h0M83.5 57.4h0M94.0 65.0h0M56.5 52.9h0M81.7 33.2h0M85.0 58.7h0M86.5 58.4h0M90.9 72.5h0M94.0 82.2h0M117.5 100.6h0M135.3 122.5h0" stroke="#254F73" stroke-width="4.0" stroke-linecap="round" fill="none"/>
<path d="M195.3 183.4h0M207.2 157.4h0M85.0 56.9h0M93.3 73.0h0M95.5 65.3h0M97.0 65.5h0M88.0 58.2h0M92.4 73.4h0M95.2 83.1h0M96.3 84.0h0M97.5 84.8h0M98.7 85.7h0M238.9 226.3h0" stroke="#275378" stroke-width="4.0" stroke-linecap="round" fill="none"/>
<path d="M180.3 145.7h0M190.4 166.3h0M195.8 151.4h0M193.6 150.2h0M196.5 157.7h0M196.2 171.5h0M86.4 56.3h0M94.8 73.2h0M98.5 65.8h0M100.0 66.1h0M72.6 43.5h0M83.5 33.1h0M89.5 57.9h0M91.0 57.7h0M94.0 74.2h0M99.9 86.6h0M101.0 87.5h0M102.2 88.4h0M103.4 89.3h0M119.0 101.1h0M137.2 122.7h0M239.8 227.0h0" stroke="#29577E" stroke-width="4.0" stroke-linecap="round" fill="none"/>
<path d="M190.2 168.6h0M204.6 162.6h0M87.8 55.9h0M89.2 55.5h0M96.3 73.3h0M130.0 72.7h0M101.5 66.4h0M102.9 66.6h0M74.2 43.3h0M75.8 43.2h0M85.2 33.1h0M92.5 57.4h0M94.0 57.2h0M104.6 90.1h0M105.7 91.0h0M106.9 91.9h0M139.1 122.9h0M120.0 75.0h0M120.0 104.0h0" stroke="#2B5B84" stroke-width="4.0" stroke-linecap="round" fill="none"/>
<path d="M209.8 158.6h0M202.0 149.1h0M208.2 167.2h0M90.7 55.1h0M97.8 73.5h0M131.4 73.2h0M132.9 73.7h0M134.3 74.1h0M104.4 66.9h0M105.9 67.1h0M77.4 43.0h0M87.0 33.0h0M108.1 92.8h0M109.2 93.7h0M110.4 94.6h0M111.6 95.4h0M120.5 101.5h0M141.1 123.2h0M121.6 75.1h0M123.2 75.2h0M121.5 104.1h0M123.0 104.3h0M124.5 104.4h0M126.0 104.5h0M240.6 228.4h0M137.5 103.4h0M177.2 155.4h0M211.7 180.9h0M183.3 194.5h0" stroke="#2D5F89" stroke-width="4.0" stroke-linecap="round" fill="none"/>
<path d="M192.2 169.3h0M193.8 153.8h0M194.8 159.4h0M199.1 153.7h0M199.1 154.3h0M194.6 149.2h0M199.1 169.8h0M207.4 148.2h0M211.6 150.5h0M92.1 54.7h0M99.3 73.6h0M135.8 74.6h0M137.2 75.1h0M138.7 75.6h0M140.1 76.1h0M107.4 67.4h0M108.9 67.6h0M79.0 42.9h0M80.6 42.7h0M112.8 96.3h0M113.9 97.2h0M115.1 98.1h0M116.3 99.0h0M143.0 123.4h0M124.8 75.4h0M126.3 75.5h0M127.9 75.6h0M127.5 104.7h0M129.0 104.8h0M130.5 105.0h0M132.0 105.1h0M133.5 105.2h0M132.2 84.4h0M143.3 131.1h0M175.1 149.1h0M204.5 190.3h0M205.6 202.0h0M198.2 213.6h0M196.6 236.8h0" stroke="#30648F" stroke-width="4.0" stroke-linecap="round" fill="none"/>
<path d="M182.2 148.3h0M193.6 154.4h0M194.8 164.3h0M209.4 161.5h0M93.6 54.4h0M100.8 73.7h0M141.6 76.5h0M143.0 77.0h0M144.5 77.5h0M110.4 67.8h0M82.3 42.6h0M88.7 33.0h0M117.5 99.8h0M118.6 100.7h0M119.8 101.6h0M129.5 75.8h0M131.1 75.9h0M135.0 105.4h0M136.5 105.5h0M138.0 105.6h0M139.5 105.8h0M241.2 229.8h0M131.1 79.1h0M137.0 103.8h0M178.3 163.9h0M212.7 188.3h0M199.2 192.4h0M207.7 214.7h0M200.5 239.6h0M194.0 252.1h0" stroke="#326895" stroke-width="4.0" stroke-linecap="round" fill="none"/>
<path d="M205.0 148.4h0M204.6 166.8h0M95.0 54.0h0M102.3 73.9h0M100.3 79.2h0M101.9 79.3h0M145.9 78.0h0M147.4 78.5h0M148.8 78.9h0M150.2 79.4h0M130.0 113.0h0M131.5 113.2h0M111.9 68.1h0M113.4 68.3h0M58.2 53.8h0M83.9 42.4h0M85.5 42.3h0M90.5 32.9h0M121.0 102.5h0M122.2 103.4h0M123.3 104.3h0M124.5 105.1h0M122.0 102.0h0M144.9 123.6h0M120.0 67.7h0M121.4 68.1h0M122.9 68.5h0M132.7 76.0h0M141.0 105.9h0M241.7 231.2h0M181.7 178.8h0M202.4 195.6h0M199.2 215.7h0M196.0 235.9h0M201.3 237.0h0" stroke="#346C9B" stroke-width="4.0" stroke-linecap="round" fill="none"/>
<path d="M195.4 157.8h0M197.5 162.0h0M199.5 159.5h0M202.9 153.9h0M103.5 79.4h0M151.7 79.9h0M153.1 80.4h0M154.6 80.9h0M156.0 81.4h0M133.0 113.3h0M134.5 113.5h0M114.9 68.5h0M116.4 68.8h0M87.1 42.1h0M92.2 32.9h0M125.7 106.0h0M126.9 106.9h0M128.0 107.8h0M124.3 68.9h0M125.8 69.4h0M132.7 83.6h0M213.5 180.9h0M195.0 189.2h0M199.2 206.2h0M195.3 245.7h0" stroke="#3671A1" stroke-width="4.0" stroke-linecap="round" fill="none"/>
<path d="M198.0 147.1h0M202.4 156.0h0M194.9 162.7h0M197.9 151.0h0M103.8 73.7h0M105.1 79.5h0M157.5 81.8h0M158.9 82.3h0M160.4 82.8h0M136.0 113.7h0M117.9 69.0h0M119.4 69.1h0M88.7 42.0h0M129.0 108.8h0M130.1 109.9h0M131.1 110.9h0M132.2 112.0h0M123.5 102.4h0M127.2 69.8h0M128.7 70.2h0M242.4 232.6h0M129.5 77.3h0M134.8 93.2h0M198.2 186.1h0M208.8 217.9h0M203.5 220.0h0M187.6 230.6h0" stroke="#3875A7" stroke-width="4.0" stroke-linecap="round" fill="none"/>
<path d="M208.6 154.1h0M196.8 162.0h0M194.1 158.7h0M198.2 166.3h0M206.6 153.3h0M105.3 73.5h0M106.7 79.6h0M108.3 79.7h0M161.8 83.3h0M137.5 113.9h0M139.0 114.0h0M120.9 69.2h0M122.4 69.4h0M90.3 41.8h0M94.0 32.8h0M133.2 113.0h0M128.0 113.0h0M129.5 113.0h0M140.6 128.9h0M130.1 70.6h0M131.6 71.0h0M133.0 71.4h0" stroke="#3A7AAD" stroke-width="4.0" stroke-linecap="round" fill="none"/>
<path d="M200.7 164.0h0M196.1 166.0h0M209.1 153.3h0M205.5 170.5h0M106.8 73.3h0M109.8 79.8h0M140.5 114.2h0M124.0 69.5h0M125.5 69.6h0M131.1 113.0h0M132.6 113.0h0M125.0 102.8h0M134.5 71.8h0M135.9 72.4h0M243.1 233.9h0" stroke="#3D7EB3" stroke-width="4.0" stroke-linecap="round" fill="none"/>
<path d="M204.4 158.3h0M211.8 158.1h0M108.2 73.1h0M111.4 79.8h0M142.0 114.4h0M143.5 114.6h0M127.0 69.7h0M128.5 69.9h0M134.1 113.0h0M135.7 113.0h0M137.3 73.0h0M138.6 73.6h0M244.0 234.5h0" stroke="#3F83B9" stroke-width="4.0" stroke-linecap="round" fill="none"/>
<path d="M197.8 165.4h0M205.4 157.8h0M198.7 158.7h0M200.4 154.3h0M202.1 173.2h0M200.8 168.0h0M109.7 72.9h0M113.0 79.9h0M114.6 80.0h0M144.9 114.7h0M130.0 70.0h0M59.9 54.8h0M137.2 113.0h0M138.7 113.0h0M126.5 103.2h0M106.7 78.0h0M108.4 78.2h0M140.0 74.2h0M141.4 74.7h0" stroke="#4187BF" stroke-width="4.0" stroke-linecap="round" fill="none"/>
<path d="M198.7 148.1h0M203.2 161.8h0M111.2 72.6h0M116.2 80.1h0M146.4 114.9h0M147.9 115.1h0M82.0 38.0h0M140.2 113.0h0M110.0 78.5h0M142.8 75.3h0M144.2 75.9h0M145.6 76.5h0M245.3 233.7h0" stroke="#438CC5" stroke-width="4.0" stroke-linecap="round" fill="none"/>
<path d="M203.8 166.7h0M112.7 72.4h0M117.8 80.2h0M149.4 115.3h0M150.9 115.5h0M83.7 37.7h0M141.8 113.0h0M143.3 112.9h0M128.0 103.7h0M111.7 78.7h0M113.3 78.9h0M146.9 77.1h0M148.3 77.7h0M246.0 232.3h0" stroke="#4690CB" stroke-width="4.0" stroke-linecap="round" fill="none"/>
<path d="M201.3 150.5h0M208.2 159.9h0M203.3 156.8h0M119.4 80.3h0M108.8 71.8h0M110.4 71.7h0M130.0 62.5h0M131.5 62.7h0M133.0 62.9h0M152.4 115.6h0M85.3 37.4h0M144.8 112.9h0M146.4 112.8h0M115.0 79.2h0M143.8 130.6h0M149.7 78.3h0" stroke="#4895D1" stroke-width="4.0" stroke-linecap="round" fill="none"/>
<path d="M204.0 170.7h0M114.2 72.2h0M112.0 71.5h0M134.5 63.0h0M136.0 63.2h0M137.5 63.4h0M153.9 115.8h0M155.4 116.0h0M70.9 40.0h0M87.0 37.1h0M147.9 112.8h0M149.4 112.7h0M129.5 104.1h0M116.6 79.4h0M246.5 230.9h0M151.8 150.1h0M157.7 152.9h0M215.9 185.1h0M210.9 203.0h0" stroke="#4A99D7" stroke-width="4.0" stroke-linecap="round" fill="none"/>
<path d="M207.1 169.3h0M198.2 152.3h0M115.7 72.0h0M113.6 71.4h0M115.2 71.2h0M139.0 63.6h0M140.5 63.8h0M142.0 63.9h0M72.5 40.1h0M74.2 40.3h0M88.6 36.8h0M150.9 112.6h0M152.5 112.6h0M118.3 79.6h0M119.9 79.9h0M148.6 146.5h0M162.4 142.7h0M182.7 188.3h0M217.2 211.5h0M192.7 232.2h0" stroke="#4D9EDE" stroke-width="4.0" stroke-linecap="round" fill="none"/>
<path d="M206.9 163.1h0M117.2 71.8h0M116.7 71.1h0M118.3 71.0h0M143.5 64.1h0M145.0 64.3h0M146.5 64.5h0M61.6 55.7h0M75.8 40.4h0M77.5 40.5h0M90.3 36.5h0M154.0 112.5h0M131.0 104.5h0M121.6 80.1h0M247.1 229.5h0M155.0 152.3h0M212.4 185.1h0M182.3 188.2h0M201.3 199.8h0M215.1 190.3h0M189.7 222.1h0" stroke="#4FA3E4" stroke-width="4.0" stroke-linecap="round" fill="none"/>
<path d="M210.6 157.1h0M119.9 70.8h0M121.5 70.7h0M148.0 64.6h0M149.5 64.8h0M151.0 65.0h0M79.1 40.6h0M80.8 40.8h0M82.4 40.9h0M247.7 228.0h0M222.0 161.8h0M215.6 173.5h0M221.2 157.6h0M215.9 173.5h0M213.0 188.2h0M211.9 213.6h0M216.2 222.1h0M201.8 237.4h0" stroke="#51A8EA" stroke-width="4.0" stroke-linecap="round" fill="none"/>
<path d="M198.0 164.2h0M134.3 92.8h0M147.0 136.3h0M146.5 136.4h0M160.3 140.6h0M220.8 161.8h0M213.8 179.8h0M185.4 193.5h0M216.2 208.3h0M214.1 222.1h0M191.8 229.5h0M192.9 232.1h0M200.3 239.1h0M192.0 229.6h0" stroke="#54ACF1" stroke-width="4.0" stroke-linecap="round" fill="none"/>
<path d="M248.5 226.8h0M220.9 157.6h0M204.5 196.7h0" stroke="#56B1F7" stroke-width="4.0" stroke-linecap="round" fill="none"/>
<path d="M55.2,51.9 L61.2,48.6 L65.8,45.4 L71.7,41.2 L77,38.5 L83.4,35.8 L95,33.1 L106.7,31.6 L118.4,31.0 L140,30.5 L180,29.8 L214,29.2 L251.2,28.8" fill="none" stroke="#000" stroke-width="1.35" stroke-linejoin="round"/>
<rect x="33.6" y="18.5" width="245.4" height="243.89999999999998" fill="none" stroke="#7a7a7a" stroke-width="1.3"/>
<line x1="30.900000000000002" x2="33.6" y1="28.90" y2="28.90" stroke="#333" stroke-width="1.05"/>
<text x="29.400000000000002" y="31.40" text-anchor="end" font-size="7.2" fill="#4D4D4D" font-family="Liberation Sans, sans-serif">0</text>
<line x1="30.900000000000002" x2="33.6" y1="97.05" y2="97.05" stroke="#333" stroke-width="1.05"/>
<text x="29.400000000000002" y="99.55" text-anchor="end" font-size="7.2" fill="#4D4D4D" font-family="Liberation Sans, sans-serif">50</text>
<line x1="30.900000000000002" x2="33.6" y1="165.20" y2="165.20" stroke="#333" stroke-width="1.05"/>
<text x="29.400000000000002" y="167.70" text-anchor="end" font-size="7.2" fill="#4D4D4D" font-family="Liberation Sans, sans-serif">100</text>
<line x1="30.900000000000002" x2="33.6" y1="233.35" y2="233.35" stroke="#333" stroke-width="1.05"/>
<text x="29.400000000000002" y="235.85" text-anchor="end" font-size="7.2" fill="#4D4D4D" font-family="Liberation Sans, sans-serif">150</text>
<line x1="44.50" x2="44.50" y1="262.4" y2="265.09999999999997" stroke="#333" stroke-width="1.05"/>
<text x="44.50" y="272.70" text-anchor="middle" font-size="7.2" fill="#4D4D4D" font-family="Liberation Sans, sans-serif">0.0</text>
<line x1="89.22" x2="89.22" y1="262.4" y2="265.09999999999997" stroke="#333" stroke-width="1.05"/>
<text x="89.22" y="272.70" text-anchor="middle" font-size="7.2" fill="#4D4D4D" font-family="Liberation Sans, sans-serif">0.2</text>
<line x1="133.94" x2="133.94" y1="262.4" y2="265.09999999999997" stroke="#333" stroke-width="1.05"/>
<text x="133.94" y="272.70" text-anchor="middle" font-size="7.2" fill="#4D4D4D" font-family="Liberation Sans, sans-serif">0.4</text>
<line x1="178.66" x2="178.66" y1="262.4" y2="265.09999999999997" stroke="#333" stroke-width="1.05"/>
<text x="178.66" y="272.70" text-anchor="middle" font-size="7.2" fill="#4D4D4D" font-family="Liberation Sans, sans-serif">0.6</text>
<line x1="223.38" x2="223.38" y1="262.4" y2="265.09999999999997" stroke="#333" stroke-width="1.05"/>
<text x="223.38" y="272.70" text-anchor="middle" font-size="7.2" fill="#4D4D4D" font-family="Liberation Sans, sans-serif">0.8</text>
<line x1="268.10" x2="268.10" y1="262.4" y2="265.09999999999997" stroke="#333" stroke-width="1.05"/>
<text x="268.10" y="272.70" text-anchor="middle" font-size="7.2" fill="#4D4D4D" font-family="Liberation Sans, sans-serif">1.0</text>
<text x="157.10" y="282" text-anchor="middle" font-size="9.7" font-weight="bold" fill="#000" font-family="Liberation Sans, sans-serif">SDI</text>
<text transform="translate(13.50,132.6) rotate(-90) scale(0.972,1)" x="0" y="0" text-anchor="middle" font-size="10" font-weight="bold" fill="#000" font-family="Liberation Sans, sans-serif">Age-standardized rate per 100,000</text>
<rect x="375.9" y="18.5" width="245.39999999999998" height="243.89999999999998" fill="#fff"/>
<line x1="375.9" x2="621.3" y1="66.10" y2="66.10" stroke="#EDEDED" stroke-width="0.9"/>
<line x1="375.9" x2="621.3" y1="140.90" y2="140.90" stroke="#EDEDED" stroke-width="0.9"/>
<line x1="375.9" x2="621.3" y1="215.70" y2="215.70" stroke="#EDEDED" stroke-width="0.9"/>
<line x1="375.9" x2="621.3" y1="28.70" y2="28.70" stroke="#EBEBEB" stroke-width="1.25"/>
<line x1="375.9" x2="621.3" y1="103.50" y2="103.50" stroke="#EBEBEB" stroke-width="1.25"/>
<line x1="375.9" x2="621.3" y1="178.30" y2="178.30" stroke="#EBEBEB" stroke-width="1.25"/>
<line x1="375.9" x2="621.3" y1="253.10" y2="253.10" stroke="#EBEBEB" stroke-width="1.25"/>
<circle cx="404.0" cy="57.2" r="2.75" fill="#00BFC4"/>
<circle cx="424.3" cy="41.3" r="2.75" fill="#F8766D"/>
<circle cx="440.2" cy="44.9" r="2.75" fill="#F8766D"/>
<circle cx="450.1" cy="42.8" r="2.75" fill="#F8766D"/>
<circle cx="461.8" cy="38.1" r="2.75" fill="#00BFC4"/>
<circle cx="468.2" cy="43.4" r="2.75" fill="#F8766D"/>
<circle cx="465.6" cy="48.7" r="2.75" fill="#F8766D"/>
<circle cx="475.6" cy="46.6" r="2.75" fill="#F8766D"/>
<circle cx="478.3" cy="50.9" r="2.75" fill="#F8766D"/>
<circle cx="455.9" cy="51.9" r="2.75" fill="#00BFC4"/>
<circle cx="472.4" cy="53" r="2.75" fill="#00BFC4"/>
<circle cx="448.7" cy="58.3" r="2.75" fill="#00BFC4"/>
<circle cx="451.2" cy="61.5" r="2.75" fill="#00BFC4"/>
<circle cx="446.5" cy="68.5" r="2.75" fill="#00BFC4"/>
<circle cx="459.7" cy="74.2" r="2.75" fill="#00BFC4"/>
<circle cx="467.1" cy="68.2" r="2.75" fill="#00BFC4"/>
<circle cx="476.2" cy="63" r="2.75" fill="#00BFC4"/>
<circle cx="478.8" cy="65" r="2.75" fill="#00BFC4"/>
<circle cx="477.1" cy="73.1" r="2.75" fill="#00BFC4"/>
<circle cx="483" cy="70" r="2.75" fill="#00BFC4"/>
<circle cx="485.5" cy="73.1" r="2.75" fill="#00BFC4"/>
<circle cx="483.4" cy="56.6" r="2.75" fill="#F8766D"/>
<circle cx="479.8" cy="35" r="2.75" fill="#00BFC4"/>
<circle cx="485.1" cy="37.1" r="2.75" fill="#00BFC4"/>
<circle cx="488.3" cy="58.3" r="2.75" fill="#00BFC4"/>
<circle cx="507.6" cy="28.6" r="2.75" fill="#00BFC4"/>
<circle cx="505" cy="36" r="2.75" fill="#00BFC4"/>
<circle cx="503.3" cy="39.2" r="2.75" fill="#00BFC4"/>
<circle cx="506.5" cy="42.4" r="2.75" fill="#00BFC4"/>
<circle cx="505.4" cy="45.6" r="2.75" fill="#00BFC4"/>
<circle cx="513.9" cy="41.7" r="2.75" fill="#F8766D"/>
<circle cx="512.9" cy="47.3" r="2.75" fill="#F8766D"/>
<circle cx="515.6" cy="38.1" r="2.75" fill="#00BFC4"/>
<circle cx="521.3" cy="38.1" r="2.75" fill="#00BFC4"/>
<circle cx="525.6" cy="33.9" r="2.75" fill="#00BFC4"/>
<circle cx="531.9" cy="39.2" r="2.75" fill="#00BFC4"/>
<circle cx="534.7" cy="37.5" r="2.75" fill="#F8766D"/>
<circle cx="535.5" cy="45.6" r="2.75" fill="#00BFC4"/>
<circle cx="527.7" cy="50.2" r="2.75" fill="#F8766D"/>
<circle cx="532.6" cy="51.9" r="2.75" fill="#00BFC4"/>
<circle cx="537.2" cy="54" r="2.75" fill="#F8766D"/>
<circle cx="517.1" cy="56.6" r="2.75" fill="#00BFC4"/>
<circle cx="523.5" cy="58.3" r="2.75" fill="#00BFC4"/>
<circle cx="515.6" cy="61.5" r="2.75" fill="#F8766D"/>
<circle cx="521.8" cy="63.2" r="2.75" fill="#F8766D"/>
<circle cx="527.7" cy="60.4" r="2.75" fill="#00BFC4"/>
<circle cx="530.9" cy="63.6" r="2.75" fill="#00BFC4"/>
<circle cx="535.5" cy="62.5" r="2.75" fill="#00BFC4"/>
<circle cx="529.8" cy="67.8" r="2.75" fill="#00BFC4"/>
<circle cx="534.1" cy="67.2" r="2.75" fill="#00BFC4"/>
<circle cx="531.9" cy="70" r="2.75" fill="#00BFC4"/>
<circle cx="483.8" cy="56.2" r="2.75" fill="#F8766D"/>
<circle cx="488.5" cy="59.3" r="2.75" fill="#00BFC4"/>
<circle cx="492.7" cy="61.5" r="2.75" fill="#00BFC4"/>
<circle cx="497" cy="65.7" r="2.75" fill="#F8766D"/>
<circle cx="500.8" cy="55.7" r="2.75" fill="#00BFC4"/>
<circle cx="492.7" cy="50.9" r="2.75" fill="#00BFC4"/>
<circle cx="498.7" cy="47.7" r="2.75" fill="#F8766D"/>
<circle cx="494.8" cy="45.1" r="2.75" fill="#F8766D"/>
<circle cx="482.1" cy="45.6" r="2.75" fill="#00BFC4"/>
<circle cx="484.2" cy="70" r="2.75" fill="#00BFC4"/>
<circle cx="481" cy="74.2" r="2.75" fill="#00BFC4"/>
<circle cx="493.1" cy="74.8" r="2.75" fill="#00BFC4"/>
<circle cx="555.1" cy="28.2" r="2.75" fill="#00BFC4"/>
<circle cx="548.8" cy="31.1" r="2.75" fill="#00BFC4"/>
<circle cx="559.4" cy="32.8" r="2.75" fill="#00BFC4"/>
<circle cx="560.4" cy="36" r="2.75" fill="#00BFC4"/>
<circle cx="566.4" cy="37.1" r="2.75" fill="#00BFC4"/>
<circle cx="568.9" cy="40.3" r="2.75" fill="#00BFC4"/>
<circle cx="575.7" cy="33.9" r="2.75" fill="#00BFC4"/>
<circle cx="575.7" cy="40.3" r="2.75" fill="#00BFC4"/>
<circle cx="584.8" cy="36.7" r="2.75" fill="#F8766D"/>
<circle cx="555.1" cy="36.7" r="2.75" fill="#F8766D"/>
<circle cx="548.8" cy="38.1" r="2.75" fill="#00BFC4"/>
<circle cx="553.7" cy="40.3" r="2.75" fill="#00BFC4"/>
<circle cx="554.1" cy="43.4" r="2.75" fill="#00BFC4"/>
<circle cx="548.1" cy="41.3" r="2.75" fill="#F8766D"/>
<circle cx="540.3" cy="39.2" r="2.75" fill="#00BFC4"/>
<circle cx="539.2" cy="44.5" r="2.75" fill="#00BFC4"/>
<circle cx="543.5" cy="45.6" r="2.75" fill="#F8766D"/>
<circle cx="537.1" cy="47.7" r="2.75" fill="#00BFC4"/>
<circle cx="542.4" cy="49.8" r="2.75" fill="#00BFC4"/>
<circle cx="544.5" cy="53" r="2.75" fill="#00BFC4"/>
<circle cx="538.8" cy="54" r="2.75" fill="#F8766D"/>
<circle cx="558.3" cy="50.9" r="2.75" fill="#F8766D"/>
<circle cx="567.2" cy="47.3" r="2.75" fill="#F8766D"/>
<circle cx="577.4" cy="45.6" r="2.75" fill="#F8766D"/>
<circle cx="580.6" cy="45.1" r="2.75" fill="#F8766D"/>
<circle cx="582.7" cy="47.7" r="2.75" fill="#F8766D"/>
<circle cx="579.5" cy="49.8" r="2.75" fill="#F8766D"/>
<circle cx="583.8" cy="50.9" r="2.75" fill="#F8766D"/>
<circle cx="578.5" cy="53" r="2.75" fill="#F8766D"/>
<circle cx="585.9" cy="51.9" r="2.75" fill="#F8766D"/>
<circle cx="581.6" cy="54" r="2.75" fill="#F8766D"/>
<circle cx="592.2" cy="54" r="2.75" fill="#F8766D"/>
<circle cx="576.3" cy="56.2" r="2.75" fill="#00BFC4"/>
<circle cx="578.5" cy="57.2" r="2.75" fill="#F8766D"/>
<circle cx="587.6" cy="60.4" r="2.75" fill="#F8766D"/>
<circle cx="555.1" cy="55.1" r="2.75" fill="#00BFC4"/>
<circle cx="549.8" cy="57.2" r="2.75" fill="#F8766D"/>
<circle cx="552" cy="59.3" r="2.75" fill="#F8766D"/>
<circle cx="554.1" cy="62.5" r="2.75" fill="#F8766D"/>
<circle cx="558.3" cy="62.5" r="2.75" fill="#00BFC4"/>
<circle cx="562.6" cy="62.5" r="2.75" fill="#F8766D"/>
<circle cx="536.1" cy="62.5" r="2.75" fill="#00BFC4"/>
<circle cx="538.2" cy="65.1" r="2.75" fill="#00BFC4"/>
<circle cx="549.8" cy="67.8" r="2.75" fill="#F8766D"/>
<circle cx="546.7" cy="68.9" r="2.75" fill="#00BFC4"/>
<circle cx="566.8" cy="68.9" r="2.75" fill="#F8766D"/>
<circle cx="573.2" cy="62.5" r="2.75" fill="#F8766D"/>
<circle cx="576.3" cy="63.6" r="2.75" fill="#F8766D"/>
<circle cx="580.6" cy="62.5" r="2.75" fill="#F8766D"/>
<circle cx="583.8" cy="63.6" r="2.75" fill="#F8766D"/>
<circle cx="585.9" cy="65.7" r="2.75" fill="#F8766D"/>
<circle cx="574.2" cy="67.8" r="2.75" fill="#F8766D"/>
<circle cx="578.5" cy="68.9" r="2.75" fill="#00BFC4"/>
<circle cx="588" cy="70" r="2.75" fill="#F8766D"/>
<circle cx="555.1" cy="72.1" r="2.75" fill="#00BFC4"/>
<circle cx="548.8" cy="75.7" r="2.75" fill="#F8766D"/>
<circle cx="566.8" cy="75.2" r="2.75" fill="#F8766D"/>
<circle cx="572.1" cy="73.5" r="2.75" fill="#F8766D"/>
<circle cx="577.4" cy="75.7" r="2.75" fill="#F8766D"/>
<circle cx="580.6" cy="74.2" r="2.75" fill="#F8766D"/>
<circle cx="586.2" cy="62.1" r="2.75" fill="#F8766D"/>
<circle cx="585.1" cy="66.4" r="2.75" fill="#F8766D"/>
<circle cx="588.3" cy="70.6" r="2.75" fill="#F8766D"/>
<circle cx="568.2" cy="68.5" r="2.75" fill="#F8766D"/>
<circle cx="572.4" cy="72.7" r="2.75" fill="#F8766D"/>
<circle cx="577.7" cy="69.5" r="2.75" fill="#F8766D"/>
<circle cx="577.7" cy="74.8" r="2.75" fill="#F8766D"/>
<circle cx="567.1" cy="80.1" r="2.75" fill="#F8766D"/>
<circle cx="573.5" cy="79.1" r="2.75" fill="#F8766D"/>
<circle cx="574.5" cy="85" r="2.75" fill="#F8766D"/>
<circle cx="582" cy="79.1" r="2.75" fill="#00BFC4"/>
<circle cx="566.1" cy="87.6" r="2.75" fill="#F8766D"/>
<circle cx="572.4" cy="99.9" r="2.75" fill="#F8766D"/>
<circle cx="571.4" cy="102.8" r="2.75" fill="#00BFC4"/>
<circle cx="565" cy="103.5" r="2.75" fill="#F8766D"/>
<circle cx="572.4" cy="117.7" r="2.75" fill="#F8766D"/>
<circle cx="481.3" cy="73.8" r="2.75" fill="#00BFC4"/>
<circle cx="461.8" cy="84.8" r="2.75" fill="#00BFC4"/>
<circle cx="472.8" cy="111.6" r="2.75" fill="#00BFC4"/>
<circle cx="486.8" cy="73.2" r="2.75" fill="#00BFC4"/>
<circle cx="495.9" cy="80.6" r="2.75" fill="#00BFC4"/>
<circle cx="503.7" cy="84" r="2.75" fill="#00BFC4"/>
<circle cx="524.5" cy="84.8" r="2.75" fill="#00BFC4"/>
<circle cx="536.2" cy="84.8" r="2.75" fill="#00BFC4"/>
<circle cx="532" cy="70" r="2.75" fill="#00BFC4"/>
<circle cx="534.7" cy="92.9" r="2.75" fill="#F8766D"/>
<circle cx="537.2" cy="92.3" r="2.75" fill="#00BFC4"/>
<circle cx="512.9" cy="96.5" r="2.75" fill="#00BFC4"/>
<circle cx="519.9" cy="97.6" r="2.75" fill="#00BFC4"/>
<circle cx="528.8" cy="96.5" r="2.75" fill="#00BFC4"/>
<circle cx="532.6" cy="102.2" r="2.75" fill="#00BFC4"/>
<circle cx="534.7" cy="106" r="2.75" fill="#00BFC4"/>
<circle cx="533" cy="116.2" r="2.75" fill="#00BFC4"/>
<circle cx="538.3" cy="119.8" r="2.75" fill="#00BFC4"/>
<circle cx="519.2" cy="120.9" r="2.75" fill="#00BFC4"/>
<circle cx="499.5" cy="124.1" r="2.75" fill="#00BFC4"/>
<circle cx="507.1" cy="126.2" r="2.75" fill="#00BFC4"/>
<circle cx="548" cy="70" r="2.75" fill="#00BFC4"/>
<circle cx="548" cy="76.4" r="2.75" fill="#F8766D"/>
<circle cx="563.9" cy="70" r="2.75" fill="#F8766D"/>
<circle cx="568.2" cy="72.1" r="2.75" fill="#F8766D"/>
<circle cx="575.6" cy="73.2" r="2.75" fill="#F8766D"/>
<circle cx="571.3" cy="75.3" r="2.75" fill="#F8766D"/>
<circle cx="567.1" cy="78.5" r="2.75" fill="#F8766D"/>
<circle cx="563.9" cy="82.7" r="2.75" fill="#F8766D"/>
<circle cx="566" cy="87.4" r="2.75" fill="#F8766D"/>
<circle cx="574.5" cy="84.4" r="2.75" fill="#F8766D"/>
<circle cx="573.5" cy="78.5" r="2.75" fill="#F8766D"/>
<circle cx="578.8" cy="75.3" r="2.75" fill="#F8766D"/>
<circle cx="587.2" cy="71.1" r="2.75" fill="#F8766D"/>
<circle cx="582" cy="78.5" r="2.75" fill="#00BFC4"/>
<circle cx="536.4" cy="84.8" r="2.75" fill="#00BFC4"/>
<circle cx="544.8" cy="90.1" r="2.75" fill="#00BFC4"/>
<circle cx="544.4" cy="92.9" r="2.75" fill="#F8766D"/>
<circle cx="531.1" cy="96.5" r="2.75" fill="#00BFC4"/>
<circle cx="533.2" cy="101.8" r="2.75" fill="#00BFC4"/>
<circle cx="545.9" cy="107.1" r="2.75" fill="#F8766D"/>
<circle cx="558.6" cy="102.9" r="2.75" fill="#F8766D"/>
<circle cx="563.9" cy="102.9" r="2.75" fill="#F8766D"/>
<circle cx="571.3" cy="102.9" r="2.75" fill="#00BFC4"/>
<circle cx="572.4" cy="99.7" r="2.75" fill="#F8766D"/>
<circle cx="556.5" cy="109.2" r="2.75" fill="#00BFC4"/>
<circle cx="539.5" cy="119.8" r="2.75" fill="#00BFC4"/>
<circle cx="572" cy="117.7" r="2.75" fill="#F8766D"/>
<circle cx="501.1" cy="124.8" r="2.75" fill="#00BFC4"/>
<circle cx="519.1" cy="121" r="2.75" fill="#00BFC4"/>
<circle cx="520.8" cy="131.6" r="2.75" fill="#00BFC4"/>
<circle cx="543.5" cy="130.8" r="2.75" fill="#00BFC4"/>
<circle cx="550.5" cy="130.1" r="2.75" fill="#00BFC4"/>
<circle cx="564.7" cy="152.4" r="2.75" fill="#00BFC4"/>
<circle cx="499.6" cy="164.7" r="2.75" fill="#00BFC4"/>
<circle cx="567.8" cy="130.8" r="2.75" fill="#F8766D"/>
<circle cx="554.5" cy="140.8" r="2.75" fill="#F8766D"/>
<circle cx="563.5" cy="143.6" r="2.75" fill="#F8766D"/>
<circle cx="568.2" cy="143.4" r="2.75" fill="#F8766D"/>
<circle cx="548.3" cy="179.8" r="2.75" fill="#00BFC4"/>
<circle cx="547.7" cy="187.3" r="2.75" fill="#00BFC4"/>
<circle cx="558.3" cy="198.9" r="2.75" fill="#F8766D"/>
<circle cx="558.9" cy="228.3" r="2.75" fill="#F8766D"/>
<circle cx="535.2" cy="252" r="2.75" fill="#00BFC4"/>
<circle cx="589.4" cy="246.4" r="2.75" fill="#F8766D"/>
<circle cx="576.4" cy="34.8" r="2.75" fill="#00BFC4"/>
<circle cx="576.4" cy="40.1" r="2.75" fill="#00BFC4"/>
<circle cx="579.4" cy="46.3" r="2.75" fill="#F8766D"/>
<circle cx="583" cy="45.4" r="2.75" fill="#F8766D"/>
<circle cx="584.7" cy="48.9" r="2.75" fill="#F8766D"/>
<circle cx="581.2" cy="50.7" r="2.75" fill="#F8766D"/>
<circle cx="583.8" cy="52.5" r="2.75" fill="#F8766D"/>
<circle cx="595.3" cy="51.6" r="2.75" fill="#F8766D"/>
<circle cx="591.8" cy="55.1" r="2.75" fill="#F8766D"/>
<circle cx="587" cy="60" r="2.75" fill="#F8766D"/>
<circle cx="575.9" cy="56" r="2.75" fill="#00BFC4"/>
<circle cx="578.5" cy="56.9" r="2.75" fill="#F8766D"/>
<circle cx="582.1" cy="64.8" r="2.75" fill="#F8766D"/>
<circle cx="585.6" cy="65.3" r="2.75" fill="#F8766D"/>
<circle cx="578.2" cy="67.1" r="2.75" fill="#00BFC4"/>
<circle cx="461.7" cy="37.7" r="2.75" fill="#00BFC4"/>
<circle cx="479.4" cy="35.8" r="2.75" fill="#00BFC4"/>
<circle cx="483.4" cy="37.1" r="2.75" fill="#00BFC4"/>
<circle cx="487.3" cy="36.4" r="2.75" fill="#00BFC4"/>
<circle cx="492.6" cy="35.1" r="2.75" fill="#00BFC4"/>
<circle cx="499.1" cy="31.8" r="2.75" fill="#00BFC4"/>
<circle cx="507.7" cy="29.9" r="2.75" fill="#00BFC4"/>
<circle cx="504.4" cy="37.1" r="2.75" fill="#00BFC4"/>
<circle cx="505" cy="41" r="2.75" fill="#00BFC4"/>
<circle cx="505.7" cy="45" r="2.75" fill="#00BFC4"/>
<circle cx="514.9" cy="37.1" r="2.75" fill="#00BFC4"/>
<circle cx="518.8" cy="35.8" r="2.75" fill="#00BFC4"/>
<circle cx="525.4" cy="33.1" r="2.75" fill="#00BFC4"/>
<circle cx="522.8" cy="38.4" r="2.75" fill="#00BFC4"/>
<circle cx="450.2" cy="42.3" r="2.75" fill="#F8766D"/>
<circle cx="440.7" cy="45" r="2.75" fill="#F8766D"/>
<circle cx="465.6" cy="48.3" r="2.75" fill="#F8766D"/>
<circle cx="478.1" cy="47.6" r="2.75" fill="#F8766D"/>
<circle cx="497.8" cy="47.6" r="2.75" fill="#F8766D"/>
<circle cx="512.9" cy="46.9" r="2.75" fill="#F8766D"/>
<circle cx="514.2" cy="41.7" r="2.75" fill="#F8766D"/>
<circle cx="527.4" cy="50.2" r="2.75" fill="#F8766D"/>
<circle cx="455.8" cy="51.5" r="2.75" fill="#00BFC4"/>
<circle cx="472.2" cy="52.9" r="2.75" fill="#00BFC4"/>
<circle cx="483.4" cy="46.3" r="2.75" fill="#00BFC4"/>
<circle cx="492.6" cy="50.9" r="2.75" fill="#00BFC4"/>
<circle cx="526.7" cy="46.3" r="2.75" fill="#00BFC4"/>
<path d="M398.3,55.1 L404,50.3 L411,45.6 L418.4,40.9 L426.9,37.1 L436,33.9 L450,31.8 L465,30.8 L479.4,30.2 L500,29.8 L530,29.6 L560,29.5 L593.6,29.2" fill="none" stroke="#000" stroke-width="1.3" stroke-linejoin="round"/>
<line x1="488" y1="37.1" x2="501.1" y2="33.1" stroke="#0000FF" stroke-width="0.8"/>
<line x1="498" y1="128" x2="520.8" y2="131.6" stroke="#000000" stroke-width="0.8"/>
<line x1="556.2" y1="121.7" x2="550.9" y2="129.5" stroke="#000000" stroke-width="0.8"/>
<text x="398.25" y="65.65" text-anchor="middle" font-size="5.7" font-weight="bold" fill="#0000FF" font-family="Liberation Sans, sans-serif">Somalia</text>
<text x="418.4" y="49.25" text-anchor="middle" font-size="5.7" font-weight="bold" fill="#0000FF" font-family="Liberation Sans, sans-serif">Niger</text>
<text x="470.1" y="31.85" text-anchor="middle" font-size="5.7" font-weight="bold" fill="#0000FF" font-family="Liberation Sans, sans-serif">Papua New Guinea</text>
<text x="510.65" y="35.55" text-anchor="middle" font-size="5.7" font-weight="bold" fill="#0000FF" font-family="Liberation Sans, sans-serif">Yemen</text>
<text x="476.6" y="45.75" text-anchor="middle" font-size="5.7" font-weight="bold" fill="#0000FF" font-family="Liberation Sans, sans-serif">Solomon Islands</text>
<text x="457.45" y="130.55" text-anchor="middle" font-size="5.7" font-weight="bold" fill="#000000" font-family="Liberation Sans, sans-serif">Bolivia (Plurinational State of)</text>
<text x="524.7" y="128.35" text-anchor="middle" font-size="5.7" font-weight="bold" fill="#000000" font-family="Liberation Sans, sans-serif">Costa Rica</text>
<text x="556.5" y="120.15" text-anchor="middle" font-size="5.7" font-weight="bold" fill="#000000" font-family="Liberation Sans, sans-serif">Georgia</text>
<text x="566.1" y="126.45" text-anchor="middle" font-size="5.7" font-weight="bold" fill="#FF0000" font-family="Liberation Sans, sans-serif">Czechia</text>
<text x="583.75" y="130.05" text-anchor="middle" font-size="5.7" font-weight="bold" fill="#000000" font-family="Liberation Sans, sans-serif">Slovakia</text>
<text x="527.55" y="140.05" text-anchor="middle" font-size="5.7" font-weight="bold" fill="#000000" font-family="Liberation Sans, sans-serif">North Macedonia</text>
<text x="573.85" y="139.15" text-anchor="middle" font-size="5.7" font-weight="bold" fill="#FF0000" font-family="Liberation Sans, sans-serif">Slovenia</text>
<text x="573.85" y="139.15" text-anchor="middle" font-size="5.7" font-weight="bold" fill="#FF0000" font-family="Liberation Sans, sans-serif">Romania</text>
<text x="548" y="150.85" text-anchor="middle" font-size="5.7" font-weight="bold" fill="#000000" font-family="Liberation Sans, sans-serif">Hungary</text>
<text x="563.1" y="151.45" text-anchor="middle" font-size="5.7" font-weight="bold" fill="#FF0000" font-family="Liberation Sans, sans-serif">Poland</text>
<text x="570.8" y="160.85" text-anchor="middle" font-size="5.7" font-weight="bold" fill="#000000" font-family="Liberation Sans, sans-serif">Montenegro</text>
<text x="505.9" y="160.85" text-anchor="middle" font-size="5.7" font-weight="bold" fill="#000000" font-family="Liberation Sans, sans-serif">Zambia</text>
<text x="554.55" y="175.95" text-anchor="middle" font-size="5.7" font-weight="bold" fill="#000000" font-family="Liberation Sans, sans-serif">Argentina</text>
<text x="541.65" y="195.65" text-anchor="middle" font-size="5.7" font-weight="bold" fill="#000000" font-family="Liberation Sans, sans-serif">Uruguay</text>
<text x="564.45" y="207.35" text-anchor="middle" font-size="5.7" font-weight="bold" fill="#000000" font-family="Liberation Sans, sans-serif">Bulgaria</text>
<text x="553.35" y="236.75" text-anchor="middle" font-size="5.7" font-weight="bold" fill="#000000" font-family="Liberation Sans, sans-serif">Chile</text>
<text x="541.5" y="248.45" text-anchor="middle" font-size="5.7" font-weight="bold" fill="#000000" font-family="Liberation Sans, sans-serif">Mexico</text>
<text x="595.85" y="242.55" text-anchor="middle" font-size="5.7" font-weight="bold" fill="#FF0000" font-family="Liberation Sans, sans-serif">Monaco</text>
<text x="583.95" y="254.45" text-anchor="middle" font-size="5.7" font-weight="bold" fill="#000000" font-family="Liberation Sans, sans-serif">Monaco</text>
<text x="565.6" y="110.95" text-anchor="middle" font-size="5.7" font-weight="bold" fill="#FF0000" font-family="Liberation Sans, sans-serif">Puerto Rico</text>
<rect x="375.9" y="18.5" width="245.39999999999998" height="243.89999999999998" fill="none" stroke="#7a7a7a" stroke-width="1.3"/>
<line x1="373.2" x2="375.9" y1="28.70" y2="28.70" stroke="#333" stroke-width="1.05"/>
<text x="371.7" y="31.20" text-anchor="end" font-size="7.2" fill="#4D4D4D" font-family="Liberation Sans, sans-serif">0</text>
<line x1="373.2" x2="375.9" y1="103.50" y2="103.50" stroke="#333" stroke-width="1.05"/>
<text x="371.7" y="106.00" text-anchor="end" font-size="7.2" fill="#4D4D4D" font-family="Liberation Sans, sans-serif">50</text>
<line x1="373.2" x2="375.9" y1="178.30" y2="178.30" stroke="#333" stroke-width="1.05"/>
<text x="371.7" y="180.80" text-anchor="end" font-size="7.2" fill="#4D4D4D" font-family="Liberation Sans, sans-serif">100</text>
<line x1="373.2" x2="375.9" y1="253.10" y2="253.10" stroke="#333" stroke-width="1.05"/>
<text x="371.7" y="255.60" text-anchor="end" font-size="7.2" fill="#4D4D4D" font-family="Liberation Sans, sans-serif">150</text>
<line x1="386.60" x2="386.60" y1="262.4" y2="265.09999999999997" stroke="#333" stroke-width="1.05"/>
<text x="386.60" y="272.70" text-anchor="middle" font-size="7.2" fill="#4D4D4D" font-family="Liberation Sans, sans-serif">0.0</text>
<line x1="431.28" x2="431.28" y1="262.4" y2="265.09999999999997" stroke="#333" stroke-width="1.05"/>
<text x="431.28" y="272.70" text-anchor="middle" font-size="7.2" fill="#4D4D4D" font-family="Liberation Sans, sans-serif">0.2</text>
<line x1="475.96" x2="475.96" y1="262.4" y2="265.09999999999997" stroke="#333" stroke-width="1.05"/>
<text x="475.96" y="272.70" text-anchor="middle" font-size="7.2" fill="#4D4D4D" font-family="Liberation Sans, sans-serif">0.4</text>
<line x1="520.64" x2="520.64" y1="262.4" y2="265.09999999999997" stroke="#333" stroke-width="1.05"/>
<text x="520.64" y="272.70" text-anchor="middle" font-size="7.2" fill="#4D4D4D" font-family="Liberation Sans, sans-serif">0.6</text>
<line x1="565.32" x2="565.32" y1="262.4" y2="265.09999999999997" stroke="#333" stroke-width="1.05"/>
<text x="565.32" y="272.70" text-anchor="middle" font-size="7.2" fill="#4D4D4D" font-family="Liberation Sans, sans-serif">0.8</text>
<line x1="610.00" x2="610.00" y1="262.4" y2="265.09999999999997" stroke="#333" stroke-width="1.05"/>
<text x="610.00" y="272.70" text-anchor="middle" font-size="7.2" fill="#4D4D4D" font-family="Liberation Sans, sans-serif">1.0</text>
<text x="499.40" y="282" text-anchor="middle" font-size="9.7" font-weight="bold" fill="#000" font-family="Liberation Sans, sans-serif">SDI</text>
<text transform="translate(355.80,132.6) rotate(-90) scale(0.972,1)" x="0" y="0" text-anchor="middle" font-size="10" font-weight="bold" fill="#000" font-family="Liberation Sans, sans-serif">Age-standardized rate per 100,000</text>
<text x="292.9" y="106.2" font-size="8.8" fill="#000" font-family="Liberation Sans, sans-serif">year</text>
<defs><linearGradient id="yg" x1="0" y1="1" x2="0" y2="0"><stop offset="0" stop-color="#132B43"/><stop offset="1" stop-color="#56B1F7"/></linearGradient></defs>
<rect x="293.0" y="111.9" width="14.3" height="70.30" fill="url(#yg)"/>
<line x1="293.0" x2="295.9" y1="182.20" y2="182.20" stroke="#fff" stroke-width="0.55" stroke-opacity="0.9"/>
<line x1="304.4" x2="307.3" y1="182.20" y2="182.20" stroke="#fff" stroke-width="0.55" stroke-opacity="0.9"/>
<text x="311.8" y="184.80" font-size="7.2" fill="#000" font-family="Liberation Sans, sans-serif">1990</text>
<line x1="293.0" x2="295.9" y1="159.52" y2="159.52" stroke="#fff" stroke-width="0.55" stroke-opacity="0.9"/>
<line x1="304.4" x2="307.3" y1="159.52" y2="159.52" stroke="#fff" stroke-width="0.55" stroke-opacity="0.9"/>
<text x="311.8" y="162.12" font-size="7.2" fill="#000" font-family="Liberation Sans, sans-serif">2000</text>
<line x1="293.0" x2="295.9" y1="136.85" y2="136.85" stroke="#fff" stroke-width="0.55" stroke-opacity="0.9"/>
<line x1="304.4" x2="307.3" y1="136.85" y2="136.85" stroke="#fff" stroke-width="0.55" stroke-opacity="0.9"/>
<text x="311.8" y="139.45" font-size="7.2" fill="#000" font-family="Liberation Sans, sans-serif">2010</text>
<line x1="293.0" x2="295.9" y1="114.17" y2="114.17" stroke="#fff" stroke-width="0.55" stroke-opacity="0.9"/>
<line x1="304.4" x2="307.3" y1="114.17" y2="114.17" stroke="#fff" stroke-width="0.55" stroke-opacity="0.9"/>
<text x="311.8" y="116.77" font-size="7.2" fill="#000" font-family="Liberation Sans, sans-serif">2020</text>
<text x="635.0" y="127.4" font-size="8.8" fill="#000" font-family="Liberation Sans, sans-serif">trend</text>
<circle cx="642" cy="140.1" r="2.9" fill="#F8766D"/>
<circle cx="642" cy="154.1" r="2.9" fill="#00BFC4"/>
<text x="653.8" y="142.7" font-size="7.2" fill="#000" font-family="Liberation Sans, sans-serif">Decrease</text>
<text x="653.8" y="156.7" font-size="7.2" fill="#000" font-family="Liberation Sans, sans-serif">Increase</text>
</svg></body></html>
